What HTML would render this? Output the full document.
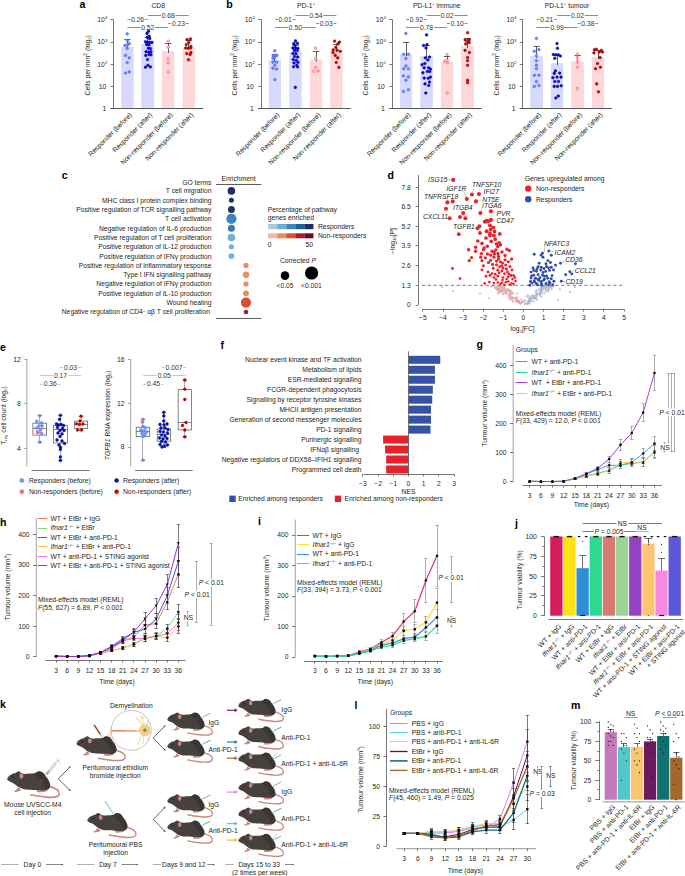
<!DOCTYPE html>
<html><head><meta charset="utf-8"><style>
html,body{margin:0;padding:0;background:#fff;overflow:hidden;width:685px;height:876px;}
svg{display:block;font-family:"Liberation Sans",sans-serif;}
</style></head><body>
<svg width="685" height="876" viewBox="0 0 685 876" fill="#231f20">
<rect width="685" height="876" fill="#fff"/>
<text x="79.50" y="8.42" font-size="10.6" fill="#000" font-weight="bold">a</text>
<text x="226.30" y="8.42" font-size="10.6" fill="#000" font-weight="bold">b</text>
<rect x="121.20" y="47.10" width="12.40" height="61.40" fill="#d8d9fc"/>
<rect x="141.30" y="43.90" width="12.80" height="64.60" fill="#d8d9fc"/>
<rect x="161.90" y="51.00" width="12.50" height="57.50" fill="#fed8d9"/>
<rect x="182.60" y="47.10" width="12.40" height="61.40" fill="#fed8d9"/>
<line x1="113.50" y1="19.40" x2="113.50" y2="108.90" stroke="#555" stroke-width="0.8"/>
<line x1="110.60" y1="19.50" x2="113.60" y2="19.50" stroke="#555" stroke-width="0.8"/>
<line x1="110.60" y1="42.50" x2="113.60" y2="42.50" stroke="#555" stroke-width="0.8"/>
<line x1="110.60" y1="64.50" x2="113.60" y2="64.50" stroke="#555" stroke-width="0.8"/>
<line x1="110.60" y1="86.50" x2="113.60" y2="86.50" stroke="#555" stroke-width="0.8"/>
<line x1="110.60" y1="108.50" x2="113.60" y2="108.50" stroke="#555" stroke-width="0.8"/>
<line x1="110.60" y1="108.50" x2="203.00" y2="108.50" stroke="#555" stroke-width="1.0"/>
<text x="104.70" y="21.83" font-size="6.75" text-anchor="end">10</text>
<text x="104.90" y="19.10" font-size="4.3">4</text>
<text x="104.70" y="44.43" font-size="6.75" text-anchor="end">10</text>
<text x="104.90" y="41.70" font-size="4.3">3</text>
<text x="104.70" y="66.63" font-size="6.75" text-anchor="end">10</text>
<text x="104.90" y="63.90" font-size="4.3">2</text>
<text x="106.20" y="88.73" font-size="6.75" text-anchor="end">10</text>
<text x="106.20" y="110.93" font-size="6.75" text-anchor="end">1</text>
<text transform="translate(89.50,65.3) rotate(-90)" font-size="6.75" text-anchor="middle">Cells per mm<tspan font-size="4.8" dy="-2.6">2</tspan><tspan dy="2.6"> (log</tspan><tspan font-size="4.3" dy="1.2">2</tspan><tspan dy="-1.2">)</tspan></text>
<line x1="127.50" y1="49.10" x2="127.50" y2="39.60" stroke="#333" stroke-width="0.8"/>
<line x1="124.30" y1="39.50" x2="130.50" y2="39.50" stroke="#333" stroke-width="0.8"/>
<line x1="147.50" y1="45.90" x2="147.50" y2="37.00" stroke="#333" stroke-width="0.8"/>
<line x1="144.60" y1="37.50" x2="150.80" y2="37.50" stroke="#333" stroke-width="0.8"/>
<line x1="168.50" y1="53.00" x2="168.50" y2="43.40" stroke="#333" stroke-width="0.8"/>
<line x1="165.05" y1="43.50" x2="171.25" y2="43.50" stroke="#333" stroke-width="0.8"/>
<line x1="188.50" y1="49.10" x2="188.50" y2="40.50" stroke="#333" stroke-width="0.8"/>
<line x1="185.70" y1="40.50" x2="191.90" y2="40.50" stroke="#333" stroke-width="0.8"/>
<circle cx="127.20" cy="33.90" r="1.30" fill="#7088ff" stroke="#3f5ff5" stroke-width="0.55"/>
<circle cx="127.40" cy="40.50" r="1.30" fill="#7088ff" stroke="#3f5ff5" stroke-width="0.55"/>
<circle cx="124.90" cy="45.50" r="1.30" fill="#7088ff" stroke="#3f5ff5" stroke-width="0.55"/>
<circle cx="127.40" cy="44.90" r="1.30" fill="#7088ff" stroke="#3f5ff5" stroke-width="0.55"/>
<circle cx="129.30" cy="43.60" r="1.30" fill="#7088ff" stroke="#3f5ff5" stroke-width="0.55"/>
<circle cx="127.20" cy="48.30" r="1.30" fill="#7088ff" stroke="#3f5ff5" stroke-width="0.55"/>
<circle cx="125.50" cy="55.40" r="1.30" fill="#7088ff" stroke="#3f5ff5" stroke-width="0.55"/>
<circle cx="129.30" cy="57.90" r="1.30" fill="#7088ff" stroke="#3f5ff5" stroke-width="0.55"/>
<circle cx="127.20" cy="62.60" r="1.30" fill="#7088ff" stroke="#3f5ff5" stroke-width="0.55"/>
<circle cx="125.50" cy="73.10" r="1.30" fill="#7088ff" stroke="#3f5ff5" stroke-width="0.55"/>
<circle cx="129.30" cy="71.90" r="1.30" fill="#7088ff" stroke="#3f5ff5" stroke-width="0.55"/>
<circle cx="148.50" cy="31.20" r="1.30" fill="#0a0aea" stroke="#00058a" stroke-width="0.55"/>
<circle cx="147.00" cy="33.40" r="1.30" fill="#0a0aea" stroke="#00058a" stroke-width="0.55"/>
<circle cx="149.10" cy="36.20" r="1.30" fill="#0a0aea" stroke="#00058a" stroke-width="0.55"/>
<circle cx="147.30" cy="37.40" r="1.30" fill="#0a0aea" stroke="#00058a" stroke-width="0.55"/>
<circle cx="149.70" cy="38.60" r="1.30" fill="#0a0aea" stroke="#00058a" stroke-width="0.55"/>
<circle cx="145.40" cy="41.70" r="1.30" fill="#0a0aea" stroke="#00058a" stroke-width="0.55"/>
<circle cx="147.50" cy="42.00" r="1.30" fill="#0a0aea" stroke="#00058a" stroke-width="0.55"/>
<circle cx="149.70" cy="42.40" r="1.30" fill="#0a0aea" stroke="#00058a" stroke-width="0.55"/>
<circle cx="152.00" cy="42.40" r="1.30" fill="#0a0aea" stroke="#00058a" stroke-width="0.55"/>
<circle cx="146.60" cy="44.60" r="1.30" fill="#0a0aea" stroke="#00058a" stroke-width="0.55"/>
<circle cx="149.00" cy="44.80" r="1.30" fill="#0a0aea" stroke="#00058a" stroke-width="0.55"/>
<circle cx="148.30" cy="48.30" r="1.30" fill="#0a0aea" stroke="#00058a" stroke-width="0.55"/>
<circle cx="150.40" cy="48.60" r="1.30" fill="#0a0aea" stroke="#00058a" stroke-width="0.55"/>
<circle cx="146.00" cy="51.70" r="1.30" fill="#0a0aea" stroke="#00058a" stroke-width="0.55"/>
<circle cx="148.60" cy="52.00" r="1.30" fill="#0a0aea" stroke="#00058a" stroke-width="0.55"/>
<circle cx="151.00" cy="51.70" r="1.30" fill="#0a0aea" stroke="#00058a" stroke-width="0.55"/>
<circle cx="145.80" cy="55.40" r="1.30" fill="#0a0aea" stroke="#00058a" stroke-width="0.55"/>
<circle cx="149.10" cy="54.50" r="1.30" fill="#0a0aea" stroke="#00058a" stroke-width="0.55"/>
<circle cx="151.00" cy="54.80" r="1.30" fill="#0a0aea" stroke="#00058a" stroke-width="0.55"/>
<circle cx="147.50" cy="59.50" r="1.30" fill="#0a0aea" stroke="#00058a" stroke-width="0.55"/>
<circle cx="145.40" cy="67.20" r="1.30" fill="#0a0aea" stroke="#00058a" stroke-width="0.55"/>
<circle cx="147.90" cy="65.30" r="1.30" fill="#0a0aea" stroke="#00058a" stroke-width="0.55"/>
<circle cx="150.40" cy="66.90" r="1.30" fill="#0a0aea" stroke="#00058a" stroke-width="0.55"/>
<circle cx="168.30" cy="41.10" r="1.30" fill="#ffc0c8" stroke="#f0506a" stroke-width="0.55"/>
<circle cx="168.30" cy="47.10" r="1.30" fill="#ffc0c8" stroke="#f0506a" stroke-width="0.55"/>
<circle cx="168.30" cy="58.70" r="1.30" fill="#ffc0c8" stroke="#f0506a" stroke-width="0.55"/>
<circle cx="168.30" cy="62.80" r="1.30" fill="#ffc0c8" stroke="#f0506a" stroke-width="0.55"/>
<circle cx="168.30" cy="71.90" r="1.30" fill="#ffc0c8" stroke="#f0506a" stroke-width="0.55"/>
<circle cx="187.00" cy="39.60" r="1.30" fill="#d40000" stroke="#8a0000" stroke-width="0.55"/>
<circle cx="190.40" cy="38.90" r="1.30" fill="#d40000" stroke="#8a0000" stroke-width="0.55"/>
<circle cx="188.80" cy="42.40" r="1.30" fill="#d40000" stroke="#8a0000" stroke-width="0.55"/>
<circle cx="186.30" cy="44.60" r="1.30" fill="#d40000" stroke="#8a0000" stroke-width="0.55"/>
<circle cx="190.90" cy="46.30" r="1.30" fill="#d40000" stroke="#8a0000" stroke-width="0.55"/>
<circle cx="185.70" cy="48.00" r="1.30" fill="#d40000" stroke="#8a0000" stroke-width="0.55"/>
<circle cx="188.20" cy="48.30" r="1.30" fill="#d40000" stroke="#8a0000" stroke-width="0.55"/>
<circle cx="190.60" cy="48.00" r="1.30" fill="#d40000" stroke="#8a0000" stroke-width="0.55"/>
<circle cx="186.70" cy="53.50" r="1.30" fill="#d40000" stroke="#8a0000" stroke-width="0.55"/>
<circle cx="190.90" cy="52.50" r="1.30" fill="#d40000" stroke="#8a0000" stroke-width="0.55"/>
<circle cx="190.10" cy="54.50" r="1.30" fill="#d40000" stroke="#8a0000" stroke-width="0.55"/>
<circle cx="188.50" cy="59.70" r="1.30" fill="#d40000" stroke="#8a0000" stroke-width="0.55"/>
<text x="158.20" y="7.6" font-size="6.75" text-anchor="middle">CD8</text>
<text transform="translate(132.40,115.4) rotate(-45)" font-size="6.75" text-anchor="end">Responder (before)</text>
<text transform="translate(152.70,115.4) rotate(-45)" font-size="6.75" text-anchor="end">Responder (after)</text>
<text transform="translate(173.15,115.4) rotate(-45)" font-size="6.75" text-anchor="end">Non-responder (before)</text>
<text transform="translate(193.80,115.4) rotate(-45)" font-size="6.75" text-anchor="end">Non-responder (after)</text>
<line x1="147.70" y1="15.50" x2="161.08" y2="15.50" stroke="#707070" stroke-width="0.8"/>
<line x1="175.42" y1="15.50" x2="188.80" y2="15.50" stroke="#707070" stroke-width="0.8"/>
<text x="168.25" y="17.83" font-size="6.75" text-anchor="middle" fill="#333">0.68</text>
<line x1="127.40" y1="19.50" x2="130.38" y2="19.50" stroke="#707070" stroke-width="0.8"/>
<line x1="144.72" y1="19.50" x2="147.70" y2="19.50" stroke="#707070" stroke-width="0.8"/>
<text x="137.55" y="22.13" font-size="6.75" text-anchor="middle" fill="#333">0.26</text>
<line x1="168.15" y1="23.50" x2="171.31" y2="23.50" stroke="#707070" stroke-width="0.8"/>
<line x1="185.64" y1="23.50" x2="188.80" y2="23.50" stroke="#707070" stroke-width="0.8"/>
<text x="178.48" y="25.73" font-size="6.75" text-anchor="middle" fill="#333">0.23</text>
<line x1="127.40" y1="27.50" x2="140.61" y2="27.50" stroke="#707070" stroke-width="0.8"/>
<line x1="154.94" y1="27.50" x2="168.15" y2="27.50" stroke="#707070" stroke-width="0.8"/>
<text x="147.78" y="29.63" font-size="6.75" text-anchor="middle" fill="#333">0.52</text>
<rect x="268.80" y="60.00" width="12.10" height="48.50" fill="#d8d9fc"/>
<rect x="289.30" y="51.70" width="12.40" height="56.80" fill="#d8d9fc"/>
<rect x="309.80" y="59.50" width="12.40" height="49.00" fill="#fed8d9"/>
<rect x="330.20" y="50.00" width="12.40" height="58.50" fill="#fed8d9"/>
<line x1="261.50" y1="19.40" x2="261.50" y2="108.90" stroke="#555" stroke-width="0.8"/>
<line x1="258.10" y1="19.50" x2="261.10" y2="19.50" stroke="#555" stroke-width="0.8"/>
<line x1="258.10" y1="42.50" x2="261.10" y2="42.50" stroke="#555" stroke-width="0.8"/>
<line x1="258.10" y1="64.50" x2="261.10" y2="64.50" stroke="#555" stroke-width="0.8"/>
<line x1="258.10" y1="86.50" x2="261.10" y2="86.50" stroke="#555" stroke-width="0.8"/>
<line x1="258.10" y1="108.50" x2="261.10" y2="108.50" stroke="#555" stroke-width="0.8"/>
<line x1="258.10" y1="108.50" x2="350.60" y2="108.50" stroke="#555" stroke-width="1.0"/>
<text x="252.20" y="21.83" font-size="6.75" text-anchor="end">10</text>
<text x="252.40" y="19.10" font-size="4.3">4</text>
<text x="252.20" y="44.43" font-size="6.75" text-anchor="end">10</text>
<text x="252.40" y="41.70" font-size="4.3">3</text>
<text x="252.20" y="66.63" font-size="6.75" text-anchor="end">10</text>
<text x="252.40" y="63.90" font-size="4.3">2</text>
<text x="253.70" y="88.73" font-size="6.75" text-anchor="end">10</text>
<text x="253.70" y="110.93" font-size="6.75" text-anchor="end">1</text>
<text transform="translate(237.00,65.3) rotate(-90)" font-size="6.75" text-anchor="middle">Cells per mm<tspan font-size="4.8" dy="-2.6">2</tspan><tspan dy="2.6"> (log</tspan><tspan font-size="4.3" dy="1.2">2</tspan><tspan dy="-1.2">)</tspan></text>
<line x1="274.50" y1="62.00" x2="274.50" y2="54.50" stroke="#333" stroke-width="0.8"/>
<line x1="271.75" y1="54.50" x2="277.95" y2="54.50" stroke="#333" stroke-width="0.8"/>
<line x1="295.50" y1="53.70" x2="295.50" y2="45.00" stroke="#333" stroke-width="0.8"/>
<line x1="292.40" y1="45.50" x2="298.60" y2="45.50" stroke="#333" stroke-width="0.8"/>
<line x1="316.50" y1="61.50" x2="316.50" y2="51.30" stroke="#333" stroke-width="0.8"/>
<line x1="312.90" y1="51.50" x2="319.10" y2="51.50" stroke="#333" stroke-width="0.8"/>
<line x1="336.50" y1="52.00" x2="336.50" y2="44.20" stroke="#333" stroke-width="0.8"/>
<line x1="333.30" y1="44.50" x2="339.50" y2="44.50" stroke="#333" stroke-width="0.8"/>
<circle cx="274.80" cy="50.80" r="1.30" fill="#7088ff" stroke="#3f5ff5" stroke-width="0.55"/>
<circle cx="273.20" cy="55.80" r="1.30" fill="#7088ff" stroke="#3f5ff5" stroke-width="0.55"/>
<circle cx="275.00" cy="55.40" r="1.30" fill="#7088ff" stroke="#3f5ff5" stroke-width="0.55"/>
<circle cx="276.90" cy="55.40" r="1.30" fill="#7088ff" stroke="#3f5ff5" stroke-width="0.55"/>
<circle cx="272.90" cy="58.30" r="1.30" fill="#7088ff" stroke="#3f5ff5" stroke-width="0.55"/>
<circle cx="274.60" cy="58.00" r="1.30" fill="#7088ff" stroke="#3f5ff5" stroke-width="0.55"/>
<circle cx="272.90" cy="62.20" r="1.30" fill="#7088ff" stroke="#3f5ff5" stroke-width="0.55"/>
<circle cx="276.60" cy="62.20" r="1.30" fill="#7088ff" stroke="#3f5ff5" stroke-width="0.55"/>
<circle cx="274.80" cy="65.30" r="1.30" fill="#7088ff" stroke="#3f5ff5" stroke-width="0.55"/>
<circle cx="272.90" cy="68.20" r="1.30" fill="#7088ff" stroke="#3f5ff5" stroke-width="0.55"/>
<circle cx="276.60" cy="69.00" r="1.30" fill="#7088ff" stroke="#3f5ff5" stroke-width="0.55"/>
<circle cx="274.80" cy="79.60" r="1.30" fill="#7088ff" stroke="#3f5ff5" stroke-width="0.55"/>
<circle cx="295.50" cy="40.90" r="1.30" fill="#0a0aea" stroke="#00058a" stroke-width="0.55"/>
<circle cx="293.70" cy="43.60" r="1.30" fill="#0a0aea" stroke="#00058a" stroke-width="0.55"/>
<circle cx="297.40" cy="43.40" r="1.30" fill="#0a0aea" stroke="#00058a" stroke-width="0.55"/>
<circle cx="294.90" cy="45.50" r="1.30" fill="#0a0aea" stroke="#00058a" stroke-width="0.55"/>
<circle cx="292.80" cy="48.00" r="1.30" fill="#0a0aea" stroke="#00058a" stroke-width="0.55"/>
<circle cx="295.50" cy="48.00" r="1.30" fill="#0a0aea" stroke="#00058a" stroke-width="0.55"/>
<circle cx="297.90" cy="48.30" r="1.30" fill="#0a0aea" stroke="#00058a" stroke-width="0.55"/>
<circle cx="294.30" cy="50.40" r="1.30" fill="#0a0aea" stroke="#00058a" stroke-width="0.55"/>
<circle cx="297.40" cy="50.40" r="1.30" fill="#0a0aea" stroke="#00058a" stroke-width="0.55"/>
<circle cx="293.00" cy="53.50" r="1.30" fill="#0a0aea" stroke="#00058a" stroke-width="0.55"/>
<circle cx="296.00" cy="53.80" r="1.30" fill="#0a0aea" stroke="#00058a" stroke-width="0.55"/>
<circle cx="294.50" cy="56.50" r="1.30" fill="#0a0aea" stroke="#00058a" stroke-width="0.55"/>
<circle cx="297.70" cy="57.00" r="1.30" fill="#0a0aea" stroke="#00058a" stroke-width="0.55"/>
<circle cx="293.20" cy="59.60" r="1.30" fill="#0a0aea" stroke="#00058a" stroke-width="0.55"/>
<circle cx="296.30" cy="60.40" r="1.30" fill="#0a0aea" stroke="#00058a" stroke-width="0.55"/>
<circle cx="298.00" cy="62.30" r="1.30" fill="#0a0aea" stroke="#00058a" stroke-width="0.55"/>
<circle cx="294.00" cy="63.00" r="1.30" fill="#0a0aea" stroke="#00058a" stroke-width="0.55"/>
<circle cx="296.80" cy="65.20" r="1.30" fill="#0a0aea" stroke="#00058a" stroke-width="0.55"/>
<circle cx="293.60" cy="66.80" r="1.30" fill="#0a0aea" stroke="#00058a" stroke-width="0.55"/>
<circle cx="297.60" cy="67.00" r="1.30" fill="#0a0aea" stroke="#00058a" stroke-width="0.55"/>
<circle cx="295.30" cy="87.40" r="1.30" fill="#0a0aea" stroke="#00058a" stroke-width="0.55"/>
<circle cx="315.60" cy="48.20" r="1.30" fill="#ffc0c8" stroke="#f0506a" stroke-width="0.55"/>
<circle cx="315.60" cy="58.70" r="1.30" fill="#ffc0c8" stroke="#f0506a" stroke-width="0.55"/>
<circle cx="315.60" cy="67.40" r="1.30" fill="#ffc0c8" stroke="#f0506a" stroke-width="0.55"/>
<circle cx="313.50" cy="71.20" r="1.30" fill="#ffc0c8" stroke="#f0506a" stroke-width="0.55"/>
<circle cx="318.10" cy="70.90" r="1.30" fill="#ffc0c8" stroke="#f0506a" stroke-width="0.55"/>
<circle cx="334.60" cy="41.10" r="1.30" fill="#d40000" stroke="#8a0000" stroke-width="0.55"/>
<circle cx="339.50" cy="42.10" r="1.30" fill="#d40000" stroke="#8a0000" stroke-width="0.55"/>
<circle cx="337.90" cy="43.90" r="1.30" fill="#d40000" stroke="#8a0000" stroke-width="0.55"/>
<circle cx="335.80" cy="47.30" r="1.30" fill="#d40000" stroke="#8a0000" stroke-width="0.55"/>
<circle cx="333.30" cy="49.80" r="1.30" fill="#d40000" stroke="#8a0000" stroke-width="0.55"/>
<circle cx="337.00" cy="50.10" r="1.30" fill="#d40000" stroke="#8a0000" stroke-width="0.55"/>
<circle cx="340.20" cy="51.30" r="1.30" fill="#d40000" stroke="#8a0000" stroke-width="0.55"/>
<circle cx="333.00" cy="52.50" r="1.30" fill="#d40000" stroke="#8a0000" stroke-width="0.55"/>
<circle cx="335.20" cy="55.40" r="1.30" fill="#d40000" stroke="#8a0000" stroke-width="0.55"/>
<circle cx="337.70" cy="57.90" r="1.30" fill="#d40000" stroke="#8a0000" stroke-width="0.55"/>
<circle cx="336.20" cy="62.50" r="1.30" fill="#d40000" stroke="#8a0000" stroke-width="0.55"/>
<circle cx="338.90" cy="67.40" r="1.30" fill="#d40000" stroke="#8a0000" stroke-width="0.55"/>
<text x="306.00" y="7.6" font-size="6.75" text-anchor="middle">PD-1<tspan font-size="4.3" dy="-2.4">+</tspan></text>
<text transform="translate(279.85,115.4) rotate(-45)" font-size="6.75" text-anchor="end">Responder (before)</text>
<text transform="translate(300.50,115.4) rotate(-45)" font-size="6.75" text-anchor="end">Responder (after)</text>
<text transform="translate(321.00,115.4) rotate(-45)" font-size="6.75" text-anchor="end">Non-responder (before)</text>
<text transform="translate(341.40,115.4) rotate(-45)" font-size="6.75" text-anchor="end">Non-responder (after)</text>
<line x1="295.50" y1="15.50" x2="308.78" y2="15.50" stroke="#707070" stroke-width="0.8"/>
<line x1="323.12" y1="15.50" x2="336.40" y2="15.50" stroke="#707070" stroke-width="0.8"/>
<text x="315.95" y="17.83" font-size="6.75" text-anchor="middle" fill="#333">0.54</text>
<line x1="274.85" y1="19.50" x2="278.01" y2="19.50" stroke="#707070" stroke-width="0.8"/>
<line x1="292.34" y1="19.50" x2="295.50" y2="19.50" stroke="#707070" stroke-width="0.8"/>
<text x="285.18" y="22.13" font-size="6.75" text-anchor="middle" fill="#333">0.01</text>
<line x1="316.00" y1="23.50" x2="319.03" y2="23.50" stroke="#707070" stroke-width="0.8"/>
<line x1="333.37" y1="23.50" x2="336.40" y2="23.50" stroke="#707070" stroke-width="0.8"/>
<text x="326.20" y="25.73" font-size="6.75" text-anchor="middle" fill="#333">0.03</text>
<line x1="274.85" y1="27.50" x2="288.26" y2="27.50" stroke="#707070" stroke-width="0.8"/>
<line x1="302.59" y1="27.50" x2="316.00" y2="27.50" stroke="#707070" stroke-width="0.8"/>
<text x="295.43" y="29.63" font-size="6.75" text-anchor="middle" fill="#333">0.50</text>
<rect x="400.00" y="54.20" width="12.10" height="54.30" fill="#d8d9fc"/>
<rect x="420.40" y="56.00" width="12.40" height="52.50" fill="#d8d9fc"/>
<rect x="440.90" y="62.00" width="12.20" height="46.50" fill="#fed8d9"/>
<rect x="461.10" y="46.10" width="12.70" height="62.40" fill="#fed8d9"/>
<line x1="392.50" y1="19.40" x2="392.50" y2="108.90" stroke="#555" stroke-width="0.8"/>
<line x1="389.20" y1="19.50" x2="392.20" y2="19.50" stroke="#555" stroke-width="0.8"/>
<line x1="389.20" y1="42.50" x2="392.20" y2="42.50" stroke="#555" stroke-width="0.8"/>
<line x1="389.20" y1="64.50" x2="392.20" y2="64.50" stroke="#555" stroke-width="0.8"/>
<line x1="389.20" y1="86.50" x2="392.20" y2="86.50" stroke="#555" stroke-width="0.8"/>
<line x1="389.20" y1="108.50" x2="392.20" y2="108.50" stroke="#555" stroke-width="0.8"/>
<line x1="389.20" y1="108.50" x2="481.50" y2="108.50" stroke="#555" stroke-width="1.0"/>
<text x="383.30" y="21.83" font-size="6.75" text-anchor="end">10</text>
<text x="383.50" y="19.10" font-size="4.3">4</text>
<text x="383.30" y="44.43" font-size="6.75" text-anchor="end">10</text>
<text x="383.50" y="41.70" font-size="4.3">3</text>
<text x="383.30" y="66.63" font-size="6.75" text-anchor="end">10</text>
<text x="383.50" y="63.90" font-size="4.3">2</text>
<text x="384.80" y="88.73" font-size="6.75" text-anchor="end">10</text>
<text x="384.80" y="110.93" font-size="6.75" text-anchor="end">1</text>
<text transform="translate(368.10,65.3) rotate(-90)" font-size="6.75" text-anchor="middle">Cells per mm<tspan font-size="4.8" dy="-2.6">2</tspan><tspan dy="2.6"> (log</tspan><tspan font-size="4.3" dy="1.2">2</tspan><tspan dy="-1.2">)</tspan></text>
<line x1="406.50" y1="56.20" x2="406.50" y2="42.40" stroke="#333" stroke-width="0.8"/>
<line x1="402.95" y1="42.50" x2="409.15" y2="42.50" stroke="#333" stroke-width="0.8"/>
<line x1="426.50" y1="58.00" x2="426.50" y2="45.00" stroke="#333" stroke-width="0.8"/>
<line x1="423.50" y1="45.50" x2="429.70" y2="45.50" stroke="#333" stroke-width="0.8"/>
<line x1="447.50" y1="64.00" x2="447.50" y2="56.30" stroke="#333" stroke-width="0.8"/>
<line x1="443.90" y1="56.50" x2="450.10" y2="56.50" stroke="#333" stroke-width="0.8"/>
<line x1="467.50" y1="48.10" x2="467.50" y2="38.00" stroke="#333" stroke-width="0.8"/>
<line x1="464.35" y1="38.50" x2="470.55" y2="38.50" stroke="#333" stroke-width="0.8"/>
<circle cx="405.90" cy="33.40" r="1.30" fill="#7088ff" stroke="#3f5ff5" stroke-width="0.55"/>
<circle cx="403.70" cy="54.20" r="1.30" fill="#7088ff" stroke="#3f5ff5" stroke-width="0.55"/>
<circle cx="408.40" cy="54.20" r="1.30" fill="#7088ff" stroke="#3f5ff5" stroke-width="0.55"/>
<circle cx="405.90" cy="58.50" r="1.30" fill="#7088ff" stroke="#3f5ff5" stroke-width="0.55"/>
<circle cx="405.90" cy="65.90" r="1.30" fill="#7088ff" stroke="#3f5ff5" stroke-width="0.55"/>
<circle cx="403.70" cy="68.70" r="1.30" fill="#7088ff" stroke="#3f5ff5" stroke-width="0.55"/>
<circle cx="408.40" cy="68.70" r="1.30" fill="#7088ff" stroke="#3f5ff5" stroke-width="0.55"/>
<circle cx="403.40" cy="75.90" r="1.30" fill="#7088ff" stroke="#3f5ff5" stroke-width="0.55"/>
<circle cx="408.40" cy="76.90" r="1.30" fill="#7088ff" stroke="#3f5ff5" stroke-width="0.55"/>
<circle cx="405.90" cy="80.20" r="1.30" fill="#7088ff" stroke="#3f5ff5" stroke-width="0.55"/>
<circle cx="403.40" cy="91.40" r="1.30" fill="#7088ff" stroke="#3f5ff5" stroke-width="0.55"/>
<circle cx="408.40" cy="89.80" r="1.30" fill="#7088ff" stroke="#3f5ff5" stroke-width="0.55"/>
<circle cx="426.60" cy="34.90" r="1.30" fill="#0a0aea" stroke="#00058a" stroke-width="0.55"/>
<circle cx="423.50" cy="45.50" r="1.30" fill="#0a0aea" stroke="#00058a" stroke-width="0.55"/>
<circle cx="427.00" cy="44.60" r="1.30" fill="#0a0aea" stroke="#00058a" stroke-width="0.55"/>
<circle cx="426.00" cy="48.00" r="1.30" fill="#0a0aea" stroke="#00058a" stroke-width="0.55"/>
<circle cx="425.40" cy="57.90" r="1.30" fill="#0a0aea" stroke="#00058a" stroke-width="0.55"/>
<circle cx="429.50" cy="57.00" r="1.30" fill="#0a0aea" stroke="#00058a" stroke-width="0.55"/>
<circle cx="427.90" cy="60.00" r="1.30" fill="#0a0aea" stroke="#00058a" stroke-width="0.55"/>
<circle cx="422.00" cy="64.70" r="1.30" fill="#0a0aea" stroke="#00058a" stroke-width="0.55"/>
<circle cx="424.80" cy="63.50" r="1.30" fill="#0a0aea" stroke="#00058a" stroke-width="0.55"/>
<circle cx="424.20" cy="67.80" r="1.30" fill="#0a0aea" stroke="#00058a" stroke-width="0.55"/>
<circle cx="428.50" cy="67.80" r="1.30" fill="#0a0aea" stroke="#00058a" stroke-width="0.55"/>
<circle cx="430.40" cy="69.00" r="1.30" fill="#0a0aea" stroke="#00058a" stroke-width="0.55"/>
<circle cx="422.90" cy="72.80" r="1.30" fill="#0a0aea" stroke="#00058a" stroke-width="0.55"/>
<circle cx="427.30" cy="71.50" r="1.30" fill="#0a0aea" stroke="#00058a" stroke-width="0.55"/>
<circle cx="429.80" cy="71.50" r="1.30" fill="#0a0aea" stroke="#00058a" stroke-width="0.55"/>
<circle cx="424.20" cy="78.10" r="1.30" fill="#0a0aea" stroke="#00058a" stroke-width="0.55"/>
<circle cx="428.30" cy="78.30" r="1.30" fill="#0a0aea" stroke="#00058a" stroke-width="0.55"/>
<circle cx="430.40" cy="77.10" r="1.30" fill="#0a0aea" stroke="#00058a" stroke-width="0.55"/>
<circle cx="429.50" cy="82.10" r="1.30" fill="#0a0aea" stroke="#00058a" stroke-width="0.55"/>
<circle cx="425.00" cy="83.90" r="1.30" fill="#0a0aea" stroke="#00058a" stroke-width="0.55"/>
<circle cx="428.70" cy="85.50" r="1.30" fill="#0a0aea" stroke="#00058a" stroke-width="0.55"/>
<circle cx="425.80" cy="93.00" r="1.30" fill="#0a0aea" stroke="#00058a" stroke-width="0.55"/>
<circle cx="447.10" cy="54.50" r="1.30" fill="#ffc0c8" stroke="#f0506a" stroke-width="0.55"/>
<circle cx="444.60" cy="61.20" r="1.30" fill="#ffc0c8" stroke="#f0506a" stroke-width="0.55"/>
<circle cx="447.10" cy="60.40" r="1.30" fill="#ffc0c8" stroke="#f0506a" stroke-width="0.55"/>
<circle cx="447.70" cy="62.80" r="1.30" fill="#ffc0c8" stroke="#f0506a" stroke-width="0.55"/>
<circle cx="447.10" cy="93.00" r="1.30" fill="#ffc0c8" stroke="#f0506a" stroke-width="0.55"/>
<circle cx="467.60" cy="32.70" r="1.30" fill="#d40000" stroke="#8a0000" stroke-width="0.55"/>
<circle cx="465.10" cy="39.90" r="1.30" fill="#d40000" stroke="#8a0000" stroke-width="0.55"/>
<circle cx="469.40" cy="39.60" r="1.30" fill="#d40000" stroke="#8a0000" stroke-width="0.55"/>
<circle cx="467.60" cy="41.50" r="1.30" fill="#d40000" stroke="#8a0000" stroke-width="0.55"/>
<circle cx="465.70" cy="43.90" r="1.30" fill="#d40000" stroke="#8a0000" stroke-width="0.55"/>
<circle cx="469.20" cy="42.60" r="1.30" fill="#d40000" stroke="#8a0000" stroke-width="0.55"/>
<circle cx="465.10" cy="50.40" r="1.30" fill="#d40000" stroke="#8a0000" stroke-width="0.55"/>
<circle cx="469.40" cy="52.50" r="1.30" fill="#d40000" stroke="#8a0000" stroke-width="0.55"/>
<circle cx="467.60" cy="57.50" r="1.30" fill="#d40000" stroke="#8a0000" stroke-width="0.55"/>
<circle cx="467.60" cy="60.70" r="1.30" fill="#d40000" stroke="#8a0000" stroke-width="0.55"/>
<circle cx="467.60" cy="65.30" r="1.30" fill="#d40000" stroke="#8a0000" stroke-width="0.55"/>
<circle cx="467.60" cy="80.20" r="1.30" fill="#d40000" stroke="#8a0000" stroke-width="0.55"/>
<circle cx="467.60" cy="82.70" r="1.30" fill="#d40000" stroke="#8a0000" stroke-width="0.55"/>
<text x="436.80" y="7.6" font-size="6.75" text-anchor="middle">PD-L1<tspan font-size="4.3" dy="-2.4">+</tspan><tspan dy="2.4"> immune</tspan></text>
<text transform="translate(411.05,115.4) rotate(-45)" font-size="6.75" text-anchor="end">Responder (before)</text>
<text transform="translate(431.60,115.4) rotate(-45)" font-size="6.75" text-anchor="end">Responder (after)</text>
<text transform="translate(452.00,115.4) rotate(-45)" font-size="6.75" text-anchor="end">Non-responder (before)</text>
<text transform="translate(472.45,115.4) rotate(-45)" font-size="6.75" text-anchor="end">Non-responder (after)</text>
<line x1="426.60" y1="15.50" x2="439.86" y2="15.50" stroke="#707070" stroke-width="0.8"/>
<line x1="454.19" y1="15.50" x2="467.45" y2="15.50" stroke="#707070" stroke-width="0.8"/>
<text x="447.03" y="17.83" font-size="6.75" text-anchor="middle" fill="#333">0.02</text>
<line x1="406.05" y1="19.50" x2="409.16" y2="19.50" stroke="#707070" stroke-width="0.8"/>
<line x1="423.49" y1="19.50" x2="426.60" y2="19.50" stroke="#707070" stroke-width="0.8"/>
<text x="416.33" y="22.13" font-size="6.75" text-anchor="middle" fill="#333">0.92</text>
<line x1="447.00" y1="23.50" x2="450.06" y2="23.50" stroke="#707070" stroke-width="0.8"/>
<line x1="464.39" y1="23.50" x2="467.45" y2="23.50" stroke="#707070" stroke-width="0.8"/>
<text x="457.23" y="25.73" font-size="6.75" text-anchor="middle" fill="#333">0.10</text>
<line x1="406.05" y1="27.50" x2="419.36" y2="27.50" stroke="#707070" stroke-width="0.8"/>
<line x1="433.69" y1="27.50" x2="447.00" y2="27.50" stroke="#707070" stroke-width="0.8"/>
<text x="426.52" y="29.63" font-size="6.75" text-anchor="middle" fill="#333">0.78</text>
<rect x="530.20" y="56.00" width="12.80" height="52.50" fill="#d8d9fc"/>
<rect x="550.80" y="63.20" width="12.40" height="45.30" fill="#d8d9fc"/>
<rect x="571.20" y="61.60" width="12.70" height="46.90" fill="#fed8d9"/>
<rect x="592.00" y="57.00" width="12.20" height="51.50" fill="#fed8d9"/>
<line x1="522.50" y1="19.40" x2="522.50" y2="108.90" stroke="#555" stroke-width="0.8"/>
<line x1="519.80" y1="19.50" x2="522.80" y2="19.50" stroke="#555" stroke-width="0.8"/>
<line x1="519.80" y1="42.50" x2="522.80" y2="42.50" stroke="#555" stroke-width="0.8"/>
<line x1="519.80" y1="64.50" x2="522.80" y2="64.50" stroke="#555" stroke-width="0.8"/>
<line x1="519.80" y1="86.50" x2="522.80" y2="86.50" stroke="#555" stroke-width="0.8"/>
<line x1="519.80" y1="108.50" x2="522.80" y2="108.50" stroke="#555" stroke-width="0.8"/>
<line x1="519.80" y1="108.50" x2="612.00" y2="108.50" stroke="#555" stroke-width="1.0"/>
<text x="513.90" y="21.83" font-size="6.75" text-anchor="end">10</text>
<text x="514.10" y="19.10" font-size="4.3">4</text>
<text x="513.90" y="44.43" font-size="6.75" text-anchor="end">10</text>
<text x="514.10" y="41.70" font-size="4.3">3</text>
<text x="513.90" y="66.63" font-size="6.75" text-anchor="end">10</text>
<text x="514.10" y="63.90" font-size="4.3">2</text>
<text x="515.40" y="88.73" font-size="6.75" text-anchor="end">10</text>
<text x="515.40" y="110.93" font-size="6.75" text-anchor="end">1</text>
<text transform="translate(498.70,65.3) rotate(-90)" font-size="6.75" text-anchor="middle">Cells per mm<tspan font-size="4.8" dy="-2.6">2</tspan><tspan dy="2.6"> (log</tspan><tspan font-size="4.3" dy="1.2">2</tspan><tspan dy="-1.2">)</tspan></text>
<line x1="536.50" y1="58.00" x2="536.50" y2="46.30" stroke="#333" stroke-width="0.8"/>
<line x1="533.50" y1="46.50" x2="539.70" y2="46.50" stroke="#333" stroke-width="0.8"/>
<line x1="557.50" y1="65.20" x2="557.50" y2="55.00" stroke="#333" stroke-width="0.8"/>
<line x1="553.90" y1="55.50" x2="560.10" y2="55.50" stroke="#333" stroke-width="0.8"/>
<line x1="577.50" y1="63.60" x2="577.50" y2="55.40" stroke="#333" stroke-width="0.8"/>
<line x1="574.45" y1="55.50" x2="580.65" y2="55.50" stroke="#333" stroke-width="0.8"/>
<line x1="598.50" y1="59.00" x2="598.50" y2="50.50" stroke="#333" stroke-width="0.8"/>
<line x1="595.00" y1="50.50" x2="601.20" y2="50.50" stroke="#333" stroke-width="0.8"/>
<circle cx="536.40" cy="38.40" r="1.30" fill="#7088ff" stroke="#3f5ff5" stroke-width="0.55"/>
<circle cx="534.30" cy="51.30" r="1.30" fill="#7088ff" stroke="#3f5ff5" stroke-width="0.55"/>
<circle cx="538.90" cy="49.60" r="1.30" fill="#7088ff" stroke="#3f5ff5" stroke-width="0.55"/>
<circle cx="536.40" cy="55.80" r="1.30" fill="#7088ff" stroke="#3f5ff5" stroke-width="0.55"/>
<circle cx="536.40" cy="60.70" r="1.30" fill="#7088ff" stroke="#3f5ff5" stroke-width="0.55"/>
<circle cx="536.40" cy="65.30" r="1.30" fill="#7088ff" stroke="#3f5ff5" stroke-width="0.55"/>
<circle cx="536.40" cy="68.70" r="1.30" fill="#7088ff" stroke="#3f5ff5" stroke-width="0.55"/>
<circle cx="534.30" cy="75.20" r="1.30" fill="#7088ff" stroke="#3f5ff5" stroke-width="0.55"/>
<circle cx="538.90" cy="75.20" r="1.30" fill="#7088ff" stroke="#3f5ff5" stroke-width="0.55"/>
<circle cx="536.40" cy="81.50" r="1.30" fill="#7088ff" stroke="#3f5ff5" stroke-width="0.55"/>
<circle cx="534.30" cy="86.40" r="1.30" fill="#7088ff" stroke="#3f5ff5" stroke-width="0.55"/>
<circle cx="538.90" cy="85.50" r="1.30" fill="#7088ff" stroke="#3f5ff5" stroke-width="0.55"/>
<circle cx="557.00" cy="43.60" r="1.30" fill="#0a0aea" stroke="#00058a" stroke-width="0.55"/>
<circle cx="557.50" cy="48.30" r="1.30" fill="#0a0aea" stroke="#00058a" stroke-width="0.55"/>
<circle cx="553.30" cy="54.50" r="1.30" fill="#0a0aea" stroke="#00058a" stroke-width="0.55"/>
<circle cx="555.80" cy="54.80" r="1.30" fill="#0a0aea" stroke="#00058a" stroke-width="0.55"/>
<circle cx="558.30" cy="54.80" r="1.30" fill="#0a0aea" stroke="#00058a" stroke-width="0.55"/>
<circle cx="560.40" cy="56.00" r="1.30" fill="#0a0aea" stroke="#00058a" stroke-width="0.55"/>
<circle cx="554.80" cy="58.30" r="1.30" fill="#0a0aea" stroke="#00058a" stroke-width="0.55"/>
<circle cx="555.40" cy="70.90" r="1.30" fill="#0a0aea" stroke="#00058a" stroke-width="0.55"/>
<circle cx="554.20" cy="73.40" r="1.30" fill="#0a0aea" stroke="#00058a" stroke-width="0.55"/>
<circle cx="559.70" cy="73.10" r="1.30" fill="#0a0aea" stroke="#00058a" stroke-width="0.55"/>
<circle cx="552.90" cy="77.70" r="1.30" fill="#0a0aea" stroke="#00058a" stroke-width="0.55"/>
<circle cx="557.00" cy="77.10" r="1.30" fill="#0a0aea" stroke="#00058a" stroke-width="0.55"/>
<circle cx="561.00" cy="77.10" r="1.30" fill="#0a0aea" stroke="#00058a" stroke-width="0.55"/>
<circle cx="554.80" cy="81.50" r="1.30" fill="#0a0aea" stroke="#00058a" stroke-width="0.55"/>
<circle cx="558.50" cy="81.50" r="1.30" fill="#0a0aea" stroke="#00058a" stroke-width="0.55"/>
<circle cx="554.20" cy="86.40" r="1.30" fill="#0a0aea" stroke="#00058a" stroke-width="0.55"/>
<circle cx="557.50" cy="86.40" r="1.30" fill="#0a0aea" stroke="#00058a" stroke-width="0.55"/>
<circle cx="561.20" cy="85.80" r="1.30" fill="#0a0aea" stroke="#00058a" stroke-width="0.55"/>
<circle cx="558.30" cy="96.00" r="1.30" fill="#0a0aea" stroke="#00058a" stroke-width="0.55"/>
<circle cx="555.80" cy="98.00" r="1.30" fill="#0a0aea" stroke="#00058a" stroke-width="0.55"/>
<circle cx="577.40" cy="54.20" r="1.30" fill="#ffc0c8" stroke="#f0506a" stroke-width="0.55"/>
<circle cx="577.40" cy="57.50" r="1.30" fill="#ffc0c8" stroke="#f0506a" stroke-width="0.55"/>
<circle cx="577.40" cy="61.60" r="1.30" fill="#ffc0c8" stroke="#f0506a" stroke-width="0.55"/>
<circle cx="577.40" cy="67.20" r="1.30" fill="#ffc0c8" stroke="#f0506a" stroke-width="0.55"/>
<circle cx="577.40" cy="88.50" r="1.30" fill="#ffc0c8" stroke="#f0506a" stroke-width="0.55"/>
<circle cx="594.50" cy="49.80" r="1.30" fill="#d40000" stroke="#8a0000" stroke-width="0.55"/>
<circle cx="596.30" cy="49.20" r="1.30" fill="#d40000" stroke="#8a0000" stroke-width="0.55"/>
<circle cx="593.90" cy="52.90" r="1.30" fill="#d40000" stroke="#8a0000" stroke-width="0.55"/>
<circle cx="599.20" cy="52.00" r="1.30" fill="#d40000" stroke="#8a0000" stroke-width="0.55"/>
<circle cx="601.30" cy="50.40" r="1.30" fill="#d40000" stroke="#8a0000" stroke-width="0.55"/>
<circle cx="602.50" cy="52.00" r="1.30" fill="#d40000" stroke="#8a0000" stroke-width="0.55"/>
<circle cx="600.10" cy="57.50" r="1.30" fill="#d40000" stroke="#8a0000" stroke-width="0.55"/>
<circle cx="597.60" cy="63.50" r="1.30" fill="#d40000" stroke="#8a0000" stroke-width="0.55"/>
<circle cx="600.40" cy="67.20" r="1.30" fill="#d40000" stroke="#8a0000" stroke-width="0.55"/>
<circle cx="595.50" cy="68.70" r="1.30" fill="#d40000" stroke="#8a0000" stroke-width="0.55"/>
<circle cx="596.70" cy="83.90" r="1.30" fill="#d40000" stroke="#8a0000" stroke-width="0.55"/>
<circle cx="598.50" cy="91.80" r="1.30" fill="#d40000" stroke="#8a0000" stroke-width="0.55"/>
<text x="567.00" y="7.6" font-size="6.75" text-anchor="middle">PD-L1<tspan font-size="4.3" dy="-2.4">+</tspan><tspan dy="2.4"> tumour</tspan></text>
<text transform="translate(541.60,115.4) rotate(-45)" font-size="6.75" text-anchor="end">Responder (before)</text>
<text transform="translate(562.00,115.4) rotate(-45)" font-size="6.75" text-anchor="end">Responder (after)</text>
<text transform="translate(582.55,115.4) rotate(-45)" font-size="6.75" text-anchor="end">Non-responder (before)</text>
<text transform="translate(603.10,115.4) rotate(-45)" font-size="6.75" text-anchor="end">Non-responder (after)</text>
<line x1="557.00" y1="15.50" x2="570.38" y2="15.50" stroke="#707070" stroke-width="0.8"/>
<line x1="584.72" y1="15.50" x2="598.10" y2="15.50" stroke="#707070" stroke-width="0.8"/>
<text x="577.55" y="17.83" font-size="6.75" text-anchor="middle" fill="#333">0.02</text>
<line x1="536.60" y1="19.50" x2="539.63" y2="19.50" stroke="#707070" stroke-width="0.8"/>
<line x1="553.97" y1="19.50" x2="557.00" y2="19.50" stroke="#707070" stroke-width="0.8"/>
<text x="546.80" y="22.13" font-size="6.75" text-anchor="middle" fill="#333">0.21</text>
<line x1="577.55" y1="23.50" x2="580.66" y2="23.50" stroke="#707070" stroke-width="0.8"/>
<line x1="594.99" y1="23.50" x2="598.10" y2="23.50" stroke="#707070" stroke-width="0.8"/>
<text x="587.83" y="25.73" font-size="6.75" text-anchor="middle" fill="#333">0.38</text>
<line x1="536.60" y1="27.50" x2="549.91" y2="27.50" stroke="#707070" stroke-width="0.8"/>
<line x1="564.24" y1="27.50" x2="577.55" y2="27.50" stroke="#707070" stroke-width="0.8"/>
<text x="557.08" y="29.63" font-size="6.75" text-anchor="middle" fill="#333">0.99</text>
<text x="61.80" y="179.22" font-size="10.6" fill="#000" font-weight="bold">c</text>
<text x="211.50" y="184.63" font-size="6.75" text-anchor="end">GO terms</text>
<text x="211.50" y="193.33" font-size="6.75" text-anchor="end">T cell migration</text>
<text x="211.50" y="202.64" font-size="6.75" text-anchor="end">MHC class I protein complex binding</text>
<text x="211.50" y="211.95" font-size="6.75" text-anchor="end">Positive regulation of TCR signalling pathway</text>
<text x="211.50" y="221.26" font-size="6.75" text-anchor="end">T cell activation</text>
<text x="211.50" y="230.57" font-size="6.75" text-anchor="end">Negative regulation of IL-6 production</text>
<text x="211.50" y="239.88" font-size="6.75" text-anchor="end">Positive regulation of T cell proliferation</text>
<text x="211.50" y="249.19" font-size="6.75" text-anchor="end">Positive regulation of IL-12 production</text>
<text x="211.50" y="258.50" font-size="6.75" text-anchor="end">Positive regulation of IFNγ production</text>
<text x="211.50" y="267.81" font-size="6.75" text-anchor="end">Positive regulation of inflammatory response</text>
<text x="211.50" y="277.12" font-size="6.75" text-anchor="end">Type I IFN signalling pathway</text>
<text x="211.50" y="286.43" font-size="6.75" text-anchor="end">Negative regulation of IFNγ production</text>
<text x="211.50" y="295.74" font-size="6.75" text-anchor="end">Positive regulation of IL-10 production</text>
<text x="211.50" y="305.05" font-size="6.75" text-anchor="end">Wound healing</text>
<text x="210.0" y="314.36" font-size="6.75" text-anchor="end">Negative regulation of CD4<tspan font-size="4.3" dy="-2.4">+</tspan><tspan dy="2.4"> αβ T cell proliferation</tspan></text>
<text x="238.50" y="181.43" font-size="6.75" text-anchor="middle">Enrichment</text>
<line x1="216.00" y1="184.50" x2="261.30" y2="184.50" stroke="#333" stroke-width="0.8"/>
<line x1="216.00" y1="318.50" x2="261.30" y2="318.50" stroke="#333" stroke-width="0.8"/>
<circle cx="231.40" cy="190.90" r="3.80" fill="#1d2f6b"/>
<circle cx="231.40" cy="200.21" r="2.50" fill="#1d2f6b"/>
<circle cx="231.40" cy="209.52" r="3.50" fill="#1e3266"/>
<circle cx="231.40" cy="218.83" r="5.10" fill="#3a85bd"/>
<circle cx="231.40" cy="228.14" r="3.50" fill="#3779b2"/>
<circle cx="231.40" cy="237.45" r="3.80" fill="#70b0dc"/>
<circle cx="231.40" cy="246.76" r="2.60" fill="#70b0dc"/>
<circle cx="231.40" cy="256.07" r="2.90" fill="#70b0dc"/>
<circle cx="246.00" cy="265.38" r="2.60" fill="#ef8a5c"/>
<circle cx="246.00" cy="274.69" r="3.20" fill="#ef8a5c"/>
<circle cx="246.00" cy="284.00" r="2.60" fill="#ef8a5c"/>
<circle cx="246.00" cy="293.31" r="2.90" fill="#ef8a5c"/>
<circle cx="246.00" cy="302.62" r="5.10" fill="#d5502c"/>
<circle cx="246.00" cy="311.93" r="2.30" fill="#a51c2a"/>
<text x="267.80" y="212.43" font-size="6.75">Percentage of pathway</text>
<text x="267.80" y="220.23" font-size="6.75">genes enriched</text>
<rect x="268.10" y="224.00" width="9.10" height="5.20" fill="#a9c8de"/>
<rect x="268.10" y="233.30" width="9.10" height="5.00" fill="#f1b9a1"/>
<rect x="277.16" y="224.00" width="9.10" height="5.20" fill="#6aaed8"/>
<rect x="277.16" y="233.30" width="9.10" height="5.00" fill="#f08a5a"/>
<rect x="286.22" y="224.00" width="9.10" height="5.20" fill="#3a88c0"/>
<rect x="286.22" y="233.30" width="9.10" height="5.00" fill="#d8502e"/>
<rect x="295.28" y="224.00" width="9.10" height="5.20" fill="#1e5fa0"/>
<rect x="295.28" y="233.30" width="9.10" height="5.00" fill="#a81e28"/>
<rect x="304.34" y="224.00" width="9.10" height="5.20" fill="#1b2f6a"/>
<rect x="304.34" y="233.30" width="9.10" height="5.00" fill="#6b0b22"/>
<text x="318.00" y="229.43" font-size="6.75">Responders</text>
<text x="318.00" y="238.23" font-size="6.75">Non-responders</text>
<text x="269.60" y="246.93" font-size="6.75" text-anchor="middle">0</text>
<text x="309.30" y="246.93" font-size="6.75" text-anchor="middle">50</text>
<text x="298" y="263.03" font-size="6.75" text-anchor="middle">Corrected <tspan font-style="italic">P</tspan></text>
<circle cx="285.00" cy="275.60" r="4.30" fill="#000"/>
<circle cx="311.60" cy="273.00" r="6.60" fill="#000"/>
<text x="285.00" y="287.83" font-size="6.75" text-anchor="middle">&lt;0.05</text>
<text x="311.40" y="287.83" font-size="6.75" text-anchor="middle">&lt;0.001</text>
<text x="387.50" y="179.22" font-size="10.6" fill="#000" font-weight="bold">d</text>
<line x1="418.50" y1="175.00" x2="418.50" y2="305.00" stroke="#555" stroke-width="0.8"/>
<line x1="415.50" y1="187.50" x2="418.00" y2="187.50" stroke="#555" stroke-width="0.8"/>
<text x="410.80" y="189.73" font-size="6.75" text-anchor="end">7.8</text>
<line x1="415.50" y1="206.50" x2="418.00" y2="206.50" stroke="#555" stroke-width="0.8"/>
<text x="410.80" y="208.93" font-size="6.75" text-anchor="end">6.5</text>
<line x1="415.50" y1="226.50" x2="418.00" y2="226.50" stroke="#555" stroke-width="0.8"/>
<text x="410.80" y="228.63" font-size="6.75" text-anchor="end">5.2</text>
<line x1="415.50" y1="245.50" x2="418.00" y2="245.50" stroke="#555" stroke-width="0.8"/>
<text x="410.80" y="248.33" font-size="6.75" text-anchor="end">3.9</text>
<line x1="415.50" y1="265.50" x2="418.00" y2="265.50" stroke="#555" stroke-width="0.8"/>
<text x="410.80" y="268.03" font-size="6.75" text-anchor="end">2.6</text>
<line x1="415.50" y1="285.50" x2="418.00" y2="285.50" stroke="#555" stroke-width="0.8"/>
<text x="410.80" y="287.73" font-size="6.75" text-anchor="end">1.3</text>
<line x1="415.50" y1="305.50" x2="418.00" y2="305.50" stroke="#555" stroke-width="0.8"/>
<text x="410.80" y="307.43" font-size="6.75" text-anchor="end">0</text>
<text transform="translate(394.9,241) rotate(-90)" font-size="6.75" text-anchor="middle">−log<tspan font-size="4.3" dy="1.2">10</tspan><tspan dy="-1.2">[</tspan><tspan font-style="italic">P</tspan>]</text>
<line x1="422.40" y1="309.50" x2="624.20" y2="309.50" stroke="#555" stroke-width="0.8"/>
<line x1="422.50" y1="309.30" x2="422.50" y2="311.60" stroke="#555" stroke-width="0.8"/>
<text x="422.90" y="320.43" font-size="6.75" text-anchor="middle">−5</text>
<line x1="443.50" y1="309.30" x2="443.50" y2="311.60" stroke="#555" stroke-width="0.8"/>
<text x="443.02" y="320.43" font-size="6.75" text-anchor="middle">−4</text>
<line x1="463.50" y1="309.30" x2="463.50" y2="311.60" stroke="#555" stroke-width="0.8"/>
<text x="463.14" y="320.43" font-size="6.75" text-anchor="middle">−3</text>
<line x1="483.50" y1="309.30" x2="483.50" y2="311.60" stroke="#555" stroke-width="0.8"/>
<text x="483.26" y="320.43" font-size="6.75" text-anchor="middle">−2</text>
<line x1="503.50" y1="309.30" x2="503.50" y2="311.60" stroke="#555" stroke-width="0.8"/>
<text x="503.38" y="320.43" font-size="6.75" text-anchor="middle">−1</text>
<line x1="523.50" y1="309.30" x2="523.50" y2="311.60" stroke="#555" stroke-width="0.8"/>
<text x="523.50" y="320.43" font-size="6.75" text-anchor="middle">0</text>
<line x1="543.50" y1="309.30" x2="543.50" y2="311.60" stroke="#555" stroke-width="0.8"/>
<text x="543.62" y="320.43" font-size="6.75" text-anchor="middle">1</text>
<line x1="563.50" y1="309.30" x2="563.50" y2="311.60" stroke="#555" stroke-width="0.8"/>
<text x="563.74" y="320.43" font-size="6.75" text-anchor="middle">2</text>
<line x1="583.50" y1="309.30" x2="583.50" y2="311.60" stroke="#555" stroke-width="0.8"/>
<text x="583.86" y="320.43" font-size="6.75" text-anchor="middle">3</text>
<line x1="603.50" y1="309.30" x2="603.50" y2="311.60" stroke="#555" stroke-width="0.8"/>
<text x="603.98" y="320.43" font-size="6.75" text-anchor="middle">4</text>
<line x1="624.50" y1="309.30" x2="624.50" y2="311.60" stroke="#555" stroke-width="0.8"/>
<text x="624.10" y="320.43" font-size="6.75" text-anchor="middle">5</text>
<text x="522.6" y="331.43" font-size="6.75" text-anchor="middle">log<tspan font-size="4.3" dy="1.2">2</tspan><tspan dy="-1.2">[FC]</tspan></text>
<circle cx="514.25" cy="297.70" r="0.75" fill="#f0c6ca" stroke="#d28e94" stroke-width="0.4"/>
<circle cx="516.22" cy="301.56" r="0.75" fill="#f0c6ca" stroke="#d28e94" stroke-width="0.4"/>
<circle cx="518.85" cy="302.19" r="0.75" fill="#f0c6ca" stroke="#d28e94" stroke-width="0.4"/>
<circle cx="509.93" cy="294.43" r="0.75" fill="#f0c6ca" stroke="#d28e94" stroke-width="0.4"/>
<circle cx="509.66" cy="293.83" r="0.75" fill="#f0c6ca" stroke="#d28e94" stroke-width="0.4"/>
<circle cx="508.95" cy="296.23" r="0.75" fill="#f0c6ca" stroke="#d28e94" stroke-width="0.4"/>
<circle cx="498.14" cy="293.62" r="0.75" fill="#f0c6ca" stroke="#d28e94" stroke-width="0.4"/>
<circle cx="521.84" cy="301.75" r="0.75" fill="#f0c6ca" stroke="#d28e94" stroke-width="0.4"/>
<circle cx="518.79" cy="300.75" r="0.75" fill="#f0c6ca" stroke="#d28e94" stroke-width="0.4"/>
<circle cx="501.33" cy="289.06" r="0.75" fill="#f0c6ca" stroke="#d28e94" stroke-width="0.4"/>
<circle cx="500.83" cy="291.66" r="0.75" fill="#f0c6ca" stroke="#d28e94" stroke-width="0.4"/>
<circle cx="521.57" cy="302.37" r="0.75" fill="#f0c6ca" stroke="#d28e94" stroke-width="0.4"/>
<circle cx="500.16" cy="290.33" r="0.75" fill="#f0c6ca" stroke="#d28e94" stroke-width="0.4"/>
<circle cx="502.32" cy="291.79" r="0.75" fill="#f0c6ca" stroke="#d28e94" stroke-width="0.4"/>
<circle cx="499.29" cy="287.13" r="0.75" fill="#f0c6ca" stroke="#d28e94" stroke-width="0.4"/>
<circle cx="498.73" cy="291.30" r="0.75" fill="#f0c6ca" stroke="#d28e94" stroke-width="0.4"/>
<circle cx="499.41" cy="292.31" r="0.75" fill="#f0c6ca" stroke="#d28e94" stroke-width="0.4"/>
<circle cx="512.93" cy="301.66" r="0.75" fill="#f0c6ca" stroke="#d28e94" stroke-width="0.4"/>
<circle cx="515.62" cy="299.90" r="0.75" fill="#f0c6ca" stroke="#d28e94" stroke-width="0.4"/>
<circle cx="503.32" cy="288.52" r="0.75" fill="#f0c6ca" stroke="#d28e94" stroke-width="0.4"/>
<circle cx="496.30" cy="288.37" r="0.75" fill="#f0c6ca" stroke="#d28e94" stroke-width="0.4"/>
<circle cx="501.60" cy="290.70" r="0.75" fill="#f0c6ca" stroke="#d28e94" stroke-width="0.4"/>
<circle cx="502.43" cy="286.78" r="0.75" fill="#f0c6ca" stroke="#d28e94" stroke-width="0.4"/>
<circle cx="507.66" cy="290.84" r="0.75" fill="#f0c6ca" stroke="#d28e94" stroke-width="0.4"/>
<circle cx="509.38" cy="290.34" r="0.75" fill="#f0c6ca" stroke="#d28e94" stroke-width="0.4"/>
<circle cx="509.04" cy="298.24" r="0.75" fill="#f0c6ca" stroke="#d28e94" stroke-width="0.4"/>
<circle cx="519.31" cy="303.43" r="0.75" fill="#f0c6ca" stroke="#d28e94" stroke-width="0.4"/>
<circle cx="522.75" cy="301.44" r="0.75" fill="#f0c6ca" stroke="#d28e94" stroke-width="0.4"/>
<circle cx="517.29" cy="301.60" r="0.75" fill="#f0c6ca" stroke="#d28e94" stroke-width="0.4"/>
<circle cx="501.37" cy="287.37" r="0.75" fill="#f0c6ca" stroke="#d28e94" stroke-width="0.4"/>
<circle cx="510.18" cy="290.64" r="0.75" fill="#f0c6ca" stroke="#d28e94" stroke-width="0.4"/>
<circle cx="497.89" cy="288.08" r="0.75" fill="#f0c6ca" stroke="#d28e94" stroke-width="0.4"/>
<circle cx="516.62" cy="293.60" r="0.75" fill="#f0c6ca" stroke="#d28e94" stroke-width="0.4"/>
<circle cx="517.59" cy="300.68" r="0.75" fill="#f0c6ca" stroke="#d28e94" stroke-width="0.4"/>
<circle cx="509.82" cy="298.26" r="0.75" fill="#f0c6ca" stroke="#d28e94" stroke-width="0.4"/>
<circle cx="516.57" cy="297.54" r="0.75" fill="#f0c6ca" stroke="#d28e94" stroke-width="0.4"/>
<circle cx="503.09" cy="294.21" r="0.75" fill="#f0c6ca" stroke="#d28e94" stroke-width="0.4"/>
<circle cx="498.01" cy="289.54" r="0.75" fill="#f0c6ca" stroke="#d28e94" stroke-width="0.4"/>
<circle cx="509.23" cy="290.80" r="0.75" fill="#f0c6ca" stroke="#d28e94" stroke-width="0.4"/>
<circle cx="504.40" cy="286.69" r="0.75" fill="#f0c6ca" stroke="#d28e94" stroke-width="0.4"/>
<circle cx="508.52" cy="295.31" r="0.75" fill="#f0c6ca" stroke="#d28e94" stroke-width="0.4"/>
<circle cx="504.85" cy="290.82" r="0.75" fill="#f0c6ca" stroke="#d28e94" stroke-width="0.4"/>
<circle cx="516.32" cy="299.56" r="0.75" fill="#f0c6ca" stroke="#d28e94" stroke-width="0.4"/>
<circle cx="521.77" cy="302.35" r="0.75" fill="#f0c6ca" stroke="#d28e94" stroke-width="0.4"/>
<circle cx="517.69" cy="301.28" r="0.75" fill="#f0c6ca" stroke="#d28e94" stroke-width="0.4"/>
<circle cx="496.88" cy="286.24" r="0.75" fill="#f0c6ca" stroke="#d28e94" stroke-width="0.4"/>
<circle cx="511.78" cy="298.66" r="0.75" fill="#f0c6ca" stroke="#d28e94" stroke-width="0.4"/>
<circle cx="506.49" cy="293.67" r="0.75" fill="#f0c6ca" stroke="#d28e94" stroke-width="0.4"/>
<circle cx="516.77" cy="301.84" r="0.75" fill="#f0c6ca" stroke="#d28e94" stroke-width="0.4"/>
<circle cx="499.63" cy="287.64" r="0.75" fill="#f0c6ca" stroke="#d28e94" stroke-width="0.4"/>
<circle cx="509.80" cy="292.48" r="0.75" fill="#f0c6ca" stroke="#d28e94" stroke-width="0.4"/>
<circle cx="511.98" cy="298.08" r="0.75" fill="#f0c6ca" stroke="#d28e94" stroke-width="0.4"/>
<circle cx="495.11" cy="287.92" r="0.75" fill="#f0c6ca" stroke="#d28e94" stroke-width="0.4"/>
<circle cx="512.37" cy="298.33" r="0.75" fill="#f0c6ca" stroke="#d28e94" stroke-width="0.4"/>
<circle cx="499.36" cy="286.73" r="0.75" fill="#f0c6ca" stroke="#d28e94" stroke-width="0.4"/>
<circle cx="506.08" cy="292.91" r="0.75" fill="#f0c6ca" stroke="#d28e94" stroke-width="0.4"/>
<circle cx="520.50" cy="304.00" r="0.75" fill="#f0c6ca" stroke="#d28e94" stroke-width="0.4"/>
<circle cx="505.73" cy="289.31" r="0.75" fill="#f0c6ca" stroke="#d28e94" stroke-width="0.4"/>
<circle cx="510.88" cy="296.35" r="0.75" fill="#f0c6ca" stroke="#d28e94" stroke-width="0.4"/>
<circle cx="516.41" cy="300.50" r="0.75" fill="#f0c6ca" stroke="#d28e94" stroke-width="0.4"/>
<circle cx="503.71" cy="289.85" r="0.75" fill="#f0c6ca" stroke="#d28e94" stroke-width="0.4"/>
<circle cx="507.84" cy="289.08" r="0.75" fill="#f0c6ca" stroke="#d28e94" stroke-width="0.4"/>
<circle cx="499.06" cy="288.81" r="0.75" fill="#f0c6ca" stroke="#d28e94" stroke-width="0.4"/>
<circle cx="497.31" cy="289.94" r="0.75" fill="#f0c6ca" stroke="#d28e94" stroke-width="0.4"/>
<circle cx="493.54" cy="285.88" r="0.75" fill="#f0c6ca" stroke="#d28e94" stroke-width="0.4"/>
<circle cx="521.36" cy="302.57" r="0.75" fill="#f0c6ca" stroke="#d28e94" stroke-width="0.4"/>
<circle cx="503.40" cy="289.57" r="0.75" fill="#f0c6ca" stroke="#d28e94" stroke-width="0.4"/>
<circle cx="506.17" cy="292.29" r="0.75" fill="#f0c6ca" stroke="#d28e94" stroke-width="0.4"/>
<circle cx="491.01" cy="286.73" r="0.75" fill="#f0c6ca" stroke="#d28e94" stroke-width="0.4"/>
<circle cx="499.92" cy="288.35" r="0.75" fill="#f0c6ca" stroke="#d28e94" stroke-width="0.4"/>
<circle cx="512.64" cy="298.49" r="0.75" fill="#f0c6ca" stroke="#d28e94" stroke-width="0.4"/>
<circle cx="511.85" cy="297.89" r="0.75" fill="#f0c6ca" stroke="#d28e94" stroke-width="0.4"/>
<circle cx="495.31" cy="287.17" r="0.75" fill="#f0c6ca" stroke="#d28e94" stroke-width="0.4"/>
<circle cx="507.71" cy="290.82" r="0.75" fill="#f0c6ca" stroke="#d28e94" stroke-width="0.4"/>
<circle cx="493.35" cy="285.98" r="0.75" fill="#f0c6ca" stroke="#d28e94" stroke-width="0.4"/>
<circle cx="509.83" cy="292.73" r="0.75" fill="#f0c6ca" stroke="#d28e94" stroke-width="0.4"/>
<circle cx="521.29" cy="299.24" r="0.75" fill="#f0c6ca" stroke="#d28e94" stroke-width="0.4"/>
<circle cx="510.81" cy="299.74" r="0.75" fill="#f0c6ca" stroke="#d28e94" stroke-width="0.4"/>
<circle cx="503.83" cy="293.29" r="0.75" fill="#f0c6ca" stroke="#d28e94" stroke-width="0.4"/>
<circle cx="505.96" cy="291.46" r="0.75" fill="#f0c6ca" stroke="#d28e94" stroke-width="0.4"/>
<circle cx="505.54" cy="292.90" r="0.75" fill="#f0c6ca" stroke="#d28e94" stroke-width="0.4"/>
<circle cx="496.44" cy="288.27" r="0.75" fill="#f0c6ca" stroke="#d28e94" stroke-width="0.4"/>
<circle cx="503.78" cy="287.87" r="0.75" fill="#f0c6ca" stroke="#d28e94" stroke-width="0.4"/>
<circle cx="500.43" cy="290.98" r="0.75" fill="#f0c6ca" stroke="#d28e94" stroke-width="0.4"/>
<circle cx="498.60" cy="290.10" r="0.75" fill="#f0c6ca" stroke="#d28e94" stroke-width="0.4"/>
<circle cx="512.17" cy="292.73" r="0.75" fill="#f0c6ca" stroke="#d28e94" stroke-width="0.4"/>
<circle cx="500.52" cy="286.32" r="0.75" fill="#f0c6ca" stroke="#d28e94" stroke-width="0.4"/>
<circle cx="511.27" cy="291.14" r="0.75" fill="#f0c6ca" stroke="#d28e94" stroke-width="0.4"/>
<circle cx="519.49" cy="301.12" r="0.75" fill="#f0c6ca" stroke="#d28e94" stroke-width="0.4"/>
<circle cx="519.26" cy="302.28" r="0.75" fill="#f0c6ca" stroke="#d28e94" stroke-width="0.4"/>
<circle cx="504.36" cy="287.55" r="0.75" fill="#f0c6ca" stroke="#d28e94" stroke-width="0.4"/>
<circle cx="515.45" cy="298.10" r="0.75" fill="#f0c6ca" stroke="#d28e94" stroke-width="0.4"/>
<circle cx="517.55" cy="298.05" r="0.75" fill="#f0c6ca" stroke="#d28e94" stroke-width="0.4"/>
<circle cx="513.35" cy="293.08" r="0.75" fill="#f0c6ca" stroke="#d28e94" stroke-width="0.4"/>
<circle cx="512.72" cy="300.27" r="0.75" fill="#f0c6ca" stroke="#d28e94" stroke-width="0.4"/>
<circle cx="512.07" cy="296.98" r="0.75" fill="#f0c6ca" stroke="#d28e94" stroke-width="0.4"/>
<circle cx="505.73" cy="289.36" r="0.75" fill="#f0c6ca" stroke="#d28e94" stroke-width="0.4"/>
<circle cx="511.34" cy="294.20" r="0.75" fill="#f0c6ca" stroke="#d28e94" stroke-width="0.4"/>
<circle cx="502.82" cy="290.80" r="0.75" fill="#f0c6ca" stroke="#d28e94" stroke-width="0.4"/>
<circle cx="527.85" cy="301.33" r="0.75" fill="#d0d3e0" stroke="#979db6" stroke-width="0.4"/>
<circle cx="545.39" cy="288.86" r="0.75" fill="#d0d3e0" stroke="#979db6" stroke-width="0.4"/>
<circle cx="542.07" cy="293.24" r="0.75" fill="#d0d3e0" stroke="#979db6" stroke-width="0.4"/>
<circle cx="536.89" cy="299.76" r="0.75" fill="#d0d3e0" stroke="#979db6" stroke-width="0.4"/>
<circle cx="540.31" cy="291.26" r="0.75" fill="#d0d3e0" stroke="#979db6" stroke-width="0.4"/>
<circle cx="524.97" cy="301.05" r="0.75" fill="#d0d3e0" stroke="#979db6" stroke-width="0.4"/>
<circle cx="531.01" cy="301.17" r="0.75" fill="#d0d3e0" stroke="#979db6" stroke-width="0.4"/>
<circle cx="551.57" cy="289.05" r="0.75" fill="#d0d3e0" stroke="#979db6" stroke-width="0.4"/>
<circle cx="528.88" cy="300.96" r="0.75" fill="#d0d3e0" stroke="#979db6" stroke-width="0.4"/>
<circle cx="527.96" cy="295.09" r="0.75" fill="#d0d3e0" stroke="#979db6" stroke-width="0.4"/>
<circle cx="535.61" cy="298.47" r="0.75" fill="#d0d3e0" stroke="#979db6" stroke-width="0.4"/>
<circle cx="533.54" cy="298.46" r="0.75" fill="#d0d3e0" stroke="#979db6" stroke-width="0.4"/>
<circle cx="526.80" cy="303.40" r="0.75" fill="#d0d3e0" stroke="#979db6" stroke-width="0.4"/>
<circle cx="534.10" cy="295.67" r="0.75" fill="#d0d3e0" stroke="#979db6" stroke-width="0.4"/>
<circle cx="540.30" cy="293.99" r="0.75" fill="#d0d3e0" stroke="#979db6" stroke-width="0.4"/>
<circle cx="524.59" cy="303.62" r="0.75" fill="#d0d3e0" stroke="#979db6" stroke-width="0.4"/>
<circle cx="542.59" cy="288.74" r="0.75" fill="#d0d3e0" stroke="#979db6" stroke-width="0.4"/>
<circle cx="539.77" cy="293.23" r="0.75" fill="#d0d3e0" stroke="#979db6" stroke-width="0.4"/>
<circle cx="543.11" cy="288.16" r="0.75" fill="#d0d3e0" stroke="#979db6" stroke-width="0.4"/>
<circle cx="543.89" cy="288.21" r="0.75" fill="#d0d3e0" stroke="#979db6" stroke-width="0.4"/>
<circle cx="546.43" cy="289.63" r="0.75" fill="#d0d3e0" stroke="#979db6" stroke-width="0.4"/>
<circle cx="535.98" cy="295.07" r="0.75" fill="#d0d3e0" stroke="#979db6" stroke-width="0.4"/>
<circle cx="533.52" cy="301.24" r="0.75" fill="#d0d3e0" stroke="#979db6" stroke-width="0.4"/>
<circle cx="533.26" cy="298.08" r="0.75" fill="#d0d3e0" stroke="#979db6" stroke-width="0.4"/>
<circle cx="550.29" cy="285.92" r="0.75" fill="#d0d3e0" stroke="#979db6" stroke-width="0.4"/>
<circle cx="533.44" cy="298.12" r="0.75" fill="#d0d3e0" stroke="#979db6" stroke-width="0.4"/>
<circle cx="539.90" cy="294.82" r="0.75" fill="#d0d3e0" stroke="#979db6" stroke-width="0.4"/>
<circle cx="541.12" cy="296.73" r="0.75" fill="#d0d3e0" stroke="#979db6" stroke-width="0.4"/>
<circle cx="540.45" cy="295.28" r="0.75" fill="#d0d3e0" stroke="#979db6" stroke-width="0.4"/>
<circle cx="533.97" cy="296.61" r="0.75" fill="#d0d3e0" stroke="#979db6" stroke-width="0.4"/>
<circle cx="532.26" cy="295.40" r="0.75" fill="#d0d3e0" stroke="#979db6" stroke-width="0.4"/>
<circle cx="530.66" cy="298.79" r="0.75" fill="#d0d3e0" stroke="#979db6" stroke-width="0.4"/>
<circle cx="535.54" cy="298.13" r="0.75" fill="#d0d3e0" stroke="#979db6" stroke-width="0.4"/>
<circle cx="528.32" cy="302.81" r="0.75" fill="#d0d3e0" stroke="#979db6" stroke-width="0.4"/>
<circle cx="528.54" cy="297.37" r="0.75" fill="#d0d3e0" stroke="#979db6" stroke-width="0.4"/>
<circle cx="542.18" cy="287.11" r="0.75" fill="#d0d3e0" stroke="#979db6" stroke-width="0.4"/>
<circle cx="545.67" cy="287.29" r="0.75" fill="#d0d3e0" stroke="#979db6" stroke-width="0.4"/>
<circle cx="553.20" cy="286.49" r="0.75" fill="#d0d3e0" stroke="#979db6" stroke-width="0.4"/>
<circle cx="548.32" cy="291.12" r="0.75" fill="#d0d3e0" stroke="#979db6" stroke-width="0.4"/>
<circle cx="548.86" cy="288.81" r="0.75" fill="#d0d3e0" stroke="#979db6" stroke-width="0.4"/>
<circle cx="542.06" cy="291.05" r="0.75" fill="#d0d3e0" stroke="#979db6" stroke-width="0.4"/>
<circle cx="540.84" cy="286.18" r="0.75" fill="#d0d3e0" stroke="#979db6" stroke-width="0.4"/>
<circle cx="542.59" cy="289.01" r="0.75" fill="#d0d3e0" stroke="#979db6" stroke-width="0.4"/>
<circle cx="527.21" cy="303.83" r="0.75" fill="#d0d3e0" stroke="#979db6" stroke-width="0.4"/>
<circle cx="530.05" cy="299.67" r="0.75" fill="#d0d3e0" stroke="#979db6" stroke-width="0.4"/>
<circle cx="538.71" cy="289.47" r="0.75" fill="#d0d3e0" stroke="#979db6" stroke-width="0.4"/>
<circle cx="544.46" cy="293.24" r="0.75" fill="#d0d3e0" stroke="#979db6" stroke-width="0.4"/>
<circle cx="540.95" cy="288.71" r="0.75" fill="#d0d3e0" stroke="#979db6" stroke-width="0.4"/>
<circle cx="547.63" cy="291.02" r="0.75" fill="#d0d3e0" stroke="#979db6" stroke-width="0.4"/>
<circle cx="534.71" cy="298.15" r="0.75" fill="#d0d3e0" stroke="#979db6" stroke-width="0.4"/>
<circle cx="545.93" cy="290.94" r="0.75" fill="#d0d3e0" stroke="#979db6" stroke-width="0.4"/>
<circle cx="536.27" cy="291.50" r="0.75" fill="#d0d3e0" stroke="#979db6" stroke-width="0.4"/>
<circle cx="541.05" cy="290.57" r="0.75" fill="#d0d3e0" stroke="#979db6" stroke-width="0.4"/>
<circle cx="529.21" cy="301.96" r="0.75" fill="#d0d3e0" stroke="#979db6" stroke-width="0.4"/>
<circle cx="533.46" cy="296.59" r="0.75" fill="#d0d3e0" stroke="#979db6" stroke-width="0.4"/>
<circle cx="525.81" cy="303.91" r="0.75" fill="#d0d3e0" stroke="#979db6" stroke-width="0.4"/>
<circle cx="542.42" cy="288.78" r="0.75" fill="#d0d3e0" stroke="#979db6" stroke-width="0.4"/>
<circle cx="535.92" cy="293.00" r="0.75" fill="#d0d3e0" stroke="#979db6" stroke-width="0.4"/>
<circle cx="530.08" cy="300.16" r="0.75" fill="#d0d3e0" stroke="#979db6" stroke-width="0.4"/>
<circle cx="541.55" cy="290.89" r="0.75" fill="#d0d3e0" stroke="#979db6" stroke-width="0.4"/>
<circle cx="537.48" cy="294.73" r="0.75" fill="#d0d3e0" stroke="#979db6" stroke-width="0.4"/>
<circle cx="550.35" cy="287.09" r="0.75" fill="#d0d3e0" stroke="#979db6" stroke-width="0.4"/>
<circle cx="530.49" cy="299.03" r="0.75" fill="#d0d3e0" stroke="#979db6" stroke-width="0.4"/>
<circle cx="547.55" cy="286.34" r="0.75" fill="#d0d3e0" stroke="#979db6" stroke-width="0.4"/>
<circle cx="535.72" cy="297.57" r="0.75" fill="#d0d3e0" stroke="#979db6" stroke-width="0.4"/>
<circle cx="534.35" cy="296.38" r="0.75" fill="#d0d3e0" stroke="#979db6" stroke-width="0.4"/>
<circle cx="545.83" cy="288.18" r="0.75" fill="#d0d3e0" stroke="#979db6" stroke-width="0.4"/>
<circle cx="531.30" cy="297.82" r="0.75" fill="#d0d3e0" stroke="#979db6" stroke-width="0.4"/>
<circle cx="537.04" cy="294.68" r="0.75" fill="#d0d3e0" stroke="#979db6" stroke-width="0.4"/>
<circle cx="529.17" cy="300.22" r="0.75" fill="#d0d3e0" stroke="#979db6" stroke-width="0.4"/>
<circle cx="549.11" cy="286.65" r="0.75" fill="#d0d3e0" stroke="#979db6" stroke-width="0.4"/>
<circle cx="540.42" cy="293.88" r="0.75" fill="#d0d3e0" stroke="#979db6" stroke-width="0.4"/>
<circle cx="548.69" cy="289.23" r="0.75" fill="#d0d3e0" stroke="#979db6" stroke-width="0.4"/>
<circle cx="540.02" cy="291.75" r="0.75" fill="#d0d3e0" stroke="#979db6" stroke-width="0.4"/>
<circle cx="539.45" cy="289.61" r="0.75" fill="#d0d3e0" stroke="#979db6" stroke-width="0.4"/>
<circle cx="542.27" cy="290.85" r="0.75" fill="#d0d3e0" stroke="#979db6" stroke-width="0.4"/>
<circle cx="551.43" cy="286.82" r="0.75" fill="#d0d3e0" stroke="#979db6" stroke-width="0.4"/>
<circle cx="533.44" cy="297.78" r="0.75" fill="#d0d3e0" stroke="#979db6" stroke-width="0.4"/>
<circle cx="549.69" cy="286.82" r="0.75" fill="#d0d3e0" stroke="#979db6" stroke-width="0.4"/>
<circle cx="530.83" cy="296.32" r="0.75" fill="#d0d3e0" stroke="#979db6" stroke-width="0.4"/>
<circle cx="531.11" cy="300.23" r="0.75" fill="#d0d3e0" stroke="#979db6" stroke-width="0.4"/>
<circle cx="546.19" cy="286.20" r="0.75" fill="#d0d3e0" stroke="#979db6" stroke-width="0.4"/>
<circle cx="551.95" cy="286.15" r="0.75" fill="#d0d3e0" stroke="#979db6" stroke-width="0.4"/>
<circle cx="529.58" cy="300.65" r="0.75" fill="#d0d3e0" stroke="#979db6" stroke-width="0.4"/>
<circle cx="536.93" cy="296.42" r="0.75" fill="#d0d3e0" stroke="#979db6" stroke-width="0.4"/>
<circle cx="526.59" cy="296.53" r="0.75" fill="#d0d3e0" stroke="#979db6" stroke-width="0.4"/>
<circle cx="542.12" cy="289.36" r="0.75" fill="#d0d3e0" stroke="#979db6" stroke-width="0.4"/>
<circle cx="537.52" cy="293.33" r="0.75" fill="#d0d3e0" stroke="#979db6" stroke-width="0.4"/>
<circle cx="524.13" cy="300.45" r="0.75" fill="#d0d3e0" stroke="#979db6" stroke-width="0.4"/>
<circle cx="548.03" cy="287.80" r="0.75" fill="#d0d3e0" stroke="#979db6" stroke-width="0.4"/>
<circle cx="529.55" cy="298.57" r="0.75" fill="#d0d3e0" stroke="#979db6" stroke-width="0.4"/>
<circle cx="529.69" cy="303.67" r="0.75" fill="#d0d3e0" stroke="#979db6" stroke-width="0.4"/>
<circle cx="544.03" cy="286.61" r="0.75" fill="#d0d3e0" stroke="#979db6" stroke-width="0.4"/>
<circle cx="533.80" cy="298.24" r="0.75" fill="#d0d3e0" stroke="#979db6" stroke-width="0.4"/>
<circle cx="536.40" cy="290.00" r="0.75" fill="#d0d3e0" stroke="#979db6" stroke-width="0.4"/>
<circle cx="541.03" cy="287.55" r="0.75" fill="#d0d3e0" stroke="#979db6" stroke-width="0.4"/>
<circle cx="442.00" cy="287.00" r="0.70" fill="#f2c4c8" stroke="#d98a90" stroke-width="0.4"/>
<circle cx="453.00" cy="291.00" r="0.70" fill="#f2c4c8" stroke="#d98a90" stroke-width="0.4"/>
<circle cx="489.00" cy="298.00" r="0.70" fill="#f2c4c8" stroke="#d98a90" stroke-width="0.4"/>
<circle cx="480.00" cy="293.50" r="0.70" fill="#f2c4c8" stroke="#d98a90" stroke-width="0.4"/>
<circle cx="506.00" cy="290.00" r="0.70" fill="#f2c4c8" stroke="#d98a90" stroke-width="0.4"/>
<circle cx="575.00" cy="287.00" r="0.70" fill="#c4c8d8" stroke="#8a90aa" stroke-width="0.4"/>
<circle cx="570.00" cy="292.00" r="0.70" fill="#c4c8d8" stroke="#8a90aa" stroke-width="0.4"/>
<circle cx="558.00" cy="300.00" r="0.70" fill="#c4c8d8" stroke="#8a90aa" stroke-width="0.4"/>
<circle cx="560.00" cy="289.50" r="0.70" fill="#c4c8d8" stroke="#8a90aa" stroke-width="0.4"/>
<line x1="421.90" y1="285.30" x2="624.50" y2="285.30" stroke="#555" stroke-width="0.8" stroke-dasharray="3.2 2.6"/>
<circle cx="453.20" cy="179.90" r="2.05" fill="#e8232b"/>
<circle cx="466.80" cy="198.90" r="2.05" fill="#e8232b"/>
<circle cx="471.90" cy="194.50" r="2.05" fill="#e8232b"/>
<circle cx="478.90" cy="194.10" r="2.05" fill="#e8232b"/>
<circle cx="476.00" cy="201.40" r="2.05" fill="#e8232b"/>
<circle cx="447.40" cy="202.40" r="2.05" fill="#e8232b"/>
<circle cx="452.70" cy="201.40" r="2.05" fill="#e8232b"/>
<circle cx="446.00" cy="208.70" r="2.05" fill="#e8232b"/>
<circle cx="463.20" cy="213.10" r="2.05" fill="#e8232b"/>
<circle cx="460.00" cy="217.00" r="2.05" fill="#e8232b"/>
<circle cx="465.40" cy="218.20" r="2.05" fill="#e8232b"/>
<circle cx="449.70" cy="218.20" r="2.05" fill="#e8232b"/>
<circle cx="480.40" cy="213.10" r="2.05" fill="#e8232b"/>
<circle cx="490.90" cy="211.30" r="2.05" fill="#e8232b"/>
<circle cx="490.90" cy="219.90" r="2.05" fill="#e8232b"/>
<circle cx="484.80" cy="221.80" r="2.00" fill="#e8232b"/>
<circle cx="486.60" cy="220.80" r="2.00" fill="#e8232b"/>
<circle cx="488.20" cy="221.20" r="2.00" fill="#e8232b"/>
<circle cx="458.80" cy="234.20" r="1.91" fill="#e8232b"/>
<circle cx="479.40" cy="226.30" r="2.00" fill="#e8232b"/>
<circle cx="477.50" cy="228.30" r="1.98" fill="#e8232b"/>
<circle cx="490.00" cy="225.60" r="2.00" fill="#e8232b"/>
<circle cx="493.20" cy="227.60" r="1.99" fill="#e8232b"/>
<circle cx="486.60" cy="231.30" r="1.95" fill="#e8232b"/>
<circle cx="490.60" cy="229.60" r="1.97" fill="#e8232b"/>
<circle cx="494.50" cy="231.50" r="1.94" fill="#e8232b"/>
<circle cx="480.00" cy="232.90" r="1.93" fill="#e8232b"/>
<circle cx="490.00" cy="233.50" r="1.92" fill="#e8232b"/>
<circle cx="499.80" cy="233.90" r="1.91" fill="#e8232b"/>
<circle cx="493.90" cy="235.50" r="1.89" fill="#e8232b"/>
<circle cx="490.00" cy="235.50" r="1.89" fill="#e8232b"/>
<circle cx="495.20" cy="239.20" r="1.85" fill="#e8232b"/>
<circle cx="491.20" cy="241.40" r="1.82" fill="#e8232b"/>
<circle cx="477.80" cy="241.00" r="1.82" fill="#e8232b"/>
<circle cx="482.00" cy="243.40" r="1.79" fill="#e8232b"/>
<circle cx="499.10" cy="242.70" r="1.80" fill="#e8232b"/>
<circle cx="500.40" cy="244.70" r="1.78" fill="#e8232b"/>
<circle cx="487.30" cy="246.30" r="1.76" fill="#e8232b"/>
<circle cx="484.00" cy="248.00" r="1.74" fill="#e8232b"/>
<circle cx="475.50" cy="247.30" r="1.75" fill="#e8232b"/>
<circle cx="497.80" cy="246.60" r="1.76" fill="#e8232b"/>
<circle cx="468.60" cy="249.70" r="1.72" fill="#e8232b"/>
<circle cx="475.50" cy="251.20" r="1.70" fill="#e8232b"/>
<circle cx="483.40" cy="249.70" r="1.72" fill="#e8232b"/>
<circle cx="495.80" cy="250.00" r="1.71" fill="#e8232b"/>
<circle cx="493.90" cy="251.90" r="1.69" fill="#e8232b"/>
<circle cx="507.00" cy="249.30" r="1.72" fill="#e8232b"/>
<circle cx="509.40" cy="250.60" r="1.71" fill="#e8232b"/>
<circle cx="492.00" cy="251.20" r="1.70" fill="#e8232b"/>
<circle cx="481.40" cy="253.60" r="1.67" fill="#e8232b"/>
<circle cx="490.60" cy="255.20" r="1.65" fill="#e8232b"/>
<circle cx="494.50" cy="253.90" r="1.66" fill="#e8232b"/>
<circle cx="471.50" cy="257.60" r="1.62" fill="#e8232b"/>
<circle cx="480.70" cy="257.20" r="1.62" fill="#e8232b"/>
<circle cx="485.30" cy="257.80" r="1.61" fill="#e8232b"/>
<circle cx="493.90" cy="257.20" r="1.62" fill="#e8232b"/>
<circle cx="498.50" cy="256.50" r="1.63" fill="#e8232b"/>
<circle cx="469.20" cy="260.70" r="1.58" fill="#e8232b"/>
<circle cx="482.00" cy="260.70" r="1.58" fill="#e8232b"/>
<circle cx="490.60" cy="260.40" r="1.58" fill="#e8232b"/>
<circle cx="496.50" cy="261.10" r="1.57" fill="#e8232b"/>
<circle cx="500.40" cy="261.80" r="1.56" fill="#e8232b"/>
<circle cx="505.00" cy="259.80" r="1.59" fill="#e8232b"/>
<circle cx="511.60" cy="259.10" r="1.60" fill="#e8232b"/>
<circle cx="508.30" cy="261.80" r="1.56" fill="#e8232b"/>
<circle cx="483.40" cy="265.70" r="1.52" fill="#e8232b"/>
<circle cx="492.60" cy="264.40" r="1.53" fill="#e8232b"/>
<circle cx="496.50" cy="264.70" r="1.53" fill="#e8232b"/>
<circle cx="501.80" cy="265.70" r="1.52" fill="#e8232b"/>
<circle cx="505.70" cy="265.00" r="1.52" fill="#e8232b"/>
<circle cx="503.00" cy="268.30" r="1.48" fill="#e8232b"/>
<circle cx="452.50" cy="268.60" r="1.48" fill="#e8232b"/>
<circle cx="482.00" cy="269.90" r="1.46" fill="#e8232b"/>
<circle cx="493.20" cy="268.30" r="1.48" fill="#e8232b"/>
<circle cx="497.80" cy="270.30" r="1.46" fill="#e8232b"/>
<circle cx="506.40" cy="269.00" r="1.48" fill="#e8232b"/>
<circle cx="501.80" cy="271.00" r="1.45" fill="#e8232b"/>
<circle cx="488.00" cy="272.00" r="1.44" fill="#e8232b"/>
<circle cx="491.90" cy="273.60" r="1.42" fill="#e8232b"/>
<circle cx="495.20" cy="274.20" r="1.41" fill="#e8232b"/>
<circle cx="499.10" cy="272.90" r="1.43" fill="#e8232b"/>
<circle cx="504.40" cy="273.60" r="1.42" fill="#e8232b"/>
<circle cx="509.00" cy="274.20" r="1.41" fill="#e8232b"/>
<circle cx="513.60" cy="275.50" r="1.39" fill="#e8232b"/>
<circle cx="486.00" cy="276.20" r="1.39" fill="#e8232b"/>
<circle cx="489.90" cy="275.50" r="1.39" fill="#e8232b"/>
<circle cx="493.90" cy="277.50" r="1.37" fill="#e8232b"/>
<circle cx="497.80" cy="276.20" r="1.39" fill="#e8232b"/>
<circle cx="503.00" cy="277.50" r="1.37" fill="#e8232b"/>
<circle cx="508.30" cy="276.80" r="1.38" fill="#e8232b"/>
<circle cx="511.00" cy="275.50" r="1.39" fill="#e8232b"/>
<circle cx="514.90" cy="277.50" r="1.37" fill="#e8232b"/>
<circle cx="460.00" cy="278.60" r="1.35" fill="#e8232b"/>
<circle cx="484.70" cy="283.40" r="1.30" fill="#e8232b"/>
<circle cx="489.30" cy="282.10" r="1.31" fill="#e8232b"/>
<circle cx="493.90" cy="283.00" r="1.30" fill="#e8232b"/>
<circle cx="497.80" cy="282.50" r="1.31" fill="#e8232b"/>
<circle cx="501.80" cy="282.80" r="1.30" fill="#e8232b"/>
<circle cx="505.70" cy="282.10" r="1.31" fill="#e8232b"/>
<circle cx="508.30" cy="281.50" r="1.32" fill="#e8232b"/>
<circle cx="511.60" cy="283.40" r="1.30" fill="#e8232b"/>
<circle cx="513.60" cy="284.10" r="1.30" fill="#e8232b"/>
<circle cx="500.40" cy="284.10" r="1.30" fill="#e8232b"/>
<circle cx="504.40" cy="284.80" r="1.30" fill="#e8232b"/>
<circle cx="509.60" cy="284.80" r="1.30" fill="#e8232b"/>
<circle cx="502.50" cy="280.00" r="1.34" fill="#e8232b"/>
<circle cx="506.50" cy="279.00" r="1.35" fill="#e8232b"/>
<circle cx="496.00" cy="279.50" r="1.34" fill="#e8232b"/>
<circle cx="499.50" cy="266.80" r="1.50" fill="#e8232b"/>
<circle cx="488.50" cy="262.50" r="1.56" fill="#e8232b"/>
<circle cx="486.00" cy="238.00" r="1.86" fill="#e8232b"/>
<circle cx="496.50" cy="244.00" r="1.79" fill="#e8232b"/>
<circle cx="502.00" cy="252.00" r="1.69" fill="#e8232b"/>
<circle cx="505.00" cy="255.50" r="1.64" fill="#e8232b"/>
<circle cx="498.00" cy="253.50" r="1.67" fill="#e8232b"/>
<circle cx="487.50" cy="254.00" r="1.66" fill="#e8232b"/>
<circle cx="502.50" cy="263.00" r="1.55" fill="#e8232b"/>
<circle cx="510.00" cy="266.50" r="1.51" fill="#e8232b"/>
<circle cx="512.00" cy="270.00" r="1.46" fill="#e8232b"/>
<circle cx="507.50" cy="272.00" r="1.44" fill="#e8232b"/>
<circle cx="515.50" cy="281.00" r="1.32" fill="#e8232b"/>
<circle cx="512.50" cy="279.00" r="1.35" fill="#e8232b"/>
<circle cx="498.50" cy="259.00" r="1.60" fill="#e8232b"/>
<circle cx="534.20" cy="254.20" r="1.45" fill="#2f4ea6"/>
<circle cx="542.50" cy="253.30" r="1.45" fill="#2f4ea6"/>
<circle cx="541.20" cy="255.30" r="1.45" fill="#2f4ea6"/>
<circle cx="543.00" cy="257.30" r="1.45" fill="#2f4ea6"/>
<circle cx="548.80" cy="251.00" r="1.45" fill="#2f4ea6"/>
<circle cx="551.30" cy="255.30" r="1.45" fill="#2f4ea6"/>
<circle cx="547.90" cy="260.60" r="1.45" fill="#2f4ea6"/>
<circle cx="550.40" cy="262.50" r="1.45" fill="#2f4ea6"/>
<circle cx="555.50" cy="265.30" r="1.45" fill="#2f4ea6"/>
<circle cx="560.50" cy="263.20" r="1.45" fill="#2f4ea6"/>
<circle cx="575.40" cy="263.80" r="1.45" fill="#2f4ea6"/>
<circle cx="539.20" cy="263.20" r="1.45" fill="#2f4ea6"/>
<circle cx="546.00" cy="263.80" r="1.45" fill="#2f4ea6"/>
<circle cx="538.10" cy="266.70" r="1.45" fill="#2f4ea6"/>
<circle cx="541.20" cy="267.30" r="1.45" fill="#2f4ea6"/>
<circle cx="546.50" cy="266.50" r="1.45" fill="#2f4ea6"/>
<circle cx="548.60" cy="268.00" r="1.45" fill="#2f4ea6"/>
<circle cx="551.30" cy="267.30" r="1.45" fill="#2f4ea6"/>
<circle cx="533.80" cy="270.40" r="1.45" fill="#2f4ea6"/>
<circle cx="531.10" cy="272.10" r="1.45" fill="#2f4ea6"/>
<circle cx="536.40" cy="271.30" r="1.45" fill="#2f4ea6"/>
<circle cx="540.80" cy="270.00" r="1.45" fill="#2f4ea6"/>
<circle cx="545.60" cy="271.40" r="1.45" fill="#2f4ea6"/>
<circle cx="549.50" cy="270.40" r="1.45" fill="#2f4ea6"/>
<circle cx="553.50" cy="270.00" r="1.45" fill="#2f4ea6"/>
<circle cx="533.80" cy="275.20" r="1.45" fill="#2f4ea6"/>
<circle cx="538.10" cy="274.80" r="1.45" fill="#2f4ea6"/>
<circle cx="542.50" cy="275.20" r="1.45" fill="#2f4ea6"/>
<circle cx="552.10" cy="275.60" r="1.45" fill="#2f4ea6"/>
<circle cx="531.10" cy="278.10" r="1.45" fill="#2f4ea6"/>
<circle cx="535.50" cy="278.30" r="1.45" fill="#2f4ea6"/>
<circle cx="539.90" cy="277.80" r="1.45" fill="#2f4ea6"/>
<circle cx="544.30" cy="276.10" r="1.45" fill="#2f4ea6"/>
<circle cx="547.80" cy="278.30" r="1.45" fill="#2f4ea6"/>
<circle cx="551.30" cy="278.70" r="1.45" fill="#2f4ea6"/>
<circle cx="534.20" cy="280.70" r="1.45" fill="#2f4ea6"/>
<circle cx="539.00" cy="280.50" r="1.45" fill="#2f4ea6"/>
<circle cx="543.80" cy="280.00" r="1.45" fill="#2f4ea6"/>
<circle cx="549.10" cy="281.80" r="1.45" fill="#2f4ea6"/>
<circle cx="553.90" cy="281.30" r="1.45" fill="#2f4ea6"/>
<circle cx="532.00" cy="283.10" r="1.45" fill="#2f4ea6"/>
<circle cx="536.40" cy="283.50" r="1.45" fill="#2f4ea6"/>
<circle cx="541.20" cy="283.40" r="1.45" fill="#2f4ea6"/>
<circle cx="546.00" cy="283.50" r="1.45" fill="#2f4ea6"/>
<circle cx="548.60" cy="284.80" r="1.45" fill="#2f4ea6"/>
<circle cx="552.80" cy="284.80" r="1.45" fill="#2f4ea6"/>
<circle cx="561.30" cy="281.30" r="1.45" fill="#2f4ea6"/>
<circle cx="565.70" cy="274.80" r="1.45" fill="#2f4ea6"/>
<circle cx="569.80" cy="271.70" r="1.45" fill="#2f4ea6"/>
<circle cx="571.80" cy="273.90" r="1.45" fill="#2f4ea6"/>
<circle cx="529.80" cy="285.30" r="1.45" fill="#2f4ea6"/>
<circle cx="537.00" cy="268.80" r="1.45" fill="#2f4ea6"/>
<circle cx="543.00" cy="272.50" r="1.45" fill="#2f4ea6"/>
<circle cx="530.50" cy="281.50" r="1.45" fill="#2f4ea6"/>
<circle cx="531.50" cy="276.00" r="1.45" fill="#2f4ea6"/>
<circle cx="534.50" cy="282.00" r="1.45" fill="#2f4ea6"/>
<circle cx="538.00" cy="279.50" r="1.45" fill="#2f4ea6"/>
<circle cx="541.50" cy="281.50" r="1.45" fill="#2f4ea6"/>
<circle cx="544.50" cy="279.00" r="1.45" fill="#2f4ea6"/>
<circle cx="546.50" cy="276.00" r="1.45" fill="#2f4ea6"/>
<circle cx="550.00" cy="283.00" r="1.45" fill="#2f4ea6"/>
<circle cx="537.50" cy="285.00" r="1.45" fill="#2f4ea6"/>
<circle cx="542.00" cy="285.30" r="1.45" fill="#2f4ea6"/>
<circle cx="533.00" cy="268.00" r="1.45" fill="#2f4ea6"/>
<circle cx="544.00" cy="268.50" r="1.45" fill="#2f4ea6"/>
<text x="428.00" y="181.93" font-size="6.75" font-style="italic">ISG15</text>
<line x1="447.00" y1="179.70" x2="451.00" y2="179.80" stroke="#888" stroke-width="0.5"/>
<text x="446.40" y="191.03" font-size="6.75" font-style="italic">IGF1R</text>
<line x1="463.80" y1="191.00" x2="466.00" y2="197.00" stroke="#888" stroke-width="0.5"/>
<text x="472.00" y="187.43" font-size="6.75" font-style="italic">TNFSF10</text>
<line x1="474.00" y1="188.00" x2="472.50" y2="192.50" stroke="#888" stroke-width="0.5"/>
<text x="483.50" y="194.23" font-size="6.75" font-style="italic">IFI27</text>
<text x="424.00" y="198.93" font-size="6.75" font-style="italic">TNFRSF18</text>
<line x1="447.00" y1="198.50" x2="447.30" y2="200.30" stroke="#888" stroke-width="0.5"/>
<text x="482.30" y="201.63" font-size="6.75" font-style="italic">NT5E</text>
<line x1="478.30" y1="200.50" x2="481.50" y2="199.80" stroke="#888" stroke-width="0.5"/>
<text x="453.00" y="210.03" font-size="6.75" font-style="italic">ITGB4</text>
<text x="482.00" y="208.13" font-size="6.75" font-style="italic">ITGA6</text>
<line x1="482.00" y1="208.30" x2="481.00" y2="211.00" stroke="#888" stroke-width="0.5"/>
<text x="496.50" y="216.03" font-size="6.75" font-style="italic">PVR</text>
<line x1="493.30" y1="211.60" x2="495.50" y2="212.40" stroke="#888" stroke-width="0.5"/>
<text x="423.00" y="219.43" font-size="6.75" font-style="italic">CXCL11</text>
<text x="496.50" y="223.13" font-size="6.75" font-style="italic">CD47</text>
<line x1="493.30" y1="220.00" x2="495.50" y2="220.30" stroke="#888" stroke-width="0.5"/>
<text x="453.00" y="229.43" font-size="6.75" font-style="italic">TGFB1</text>
<text x="544.00" y="246.23" font-size="6.75" font-style="italic">NFATC3</text>
<line x1="544.50" y1="246.50" x2="544.50" y2="252.00" stroke="#888" stroke-width="0.5"/>
<text x="554.60" y="254.93" font-size="6.75" font-style="italic">ICAM2</text>
<line x1="551.00" y1="251.30" x2="554.00" y2="251.80" stroke="#888" stroke-width="0.5"/>
<text x="565.20" y="262.03" font-size="6.75" font-style="italic">CD36</text>
<line x1="562.50" y1="262.60" x2="565.00" y2="260.80" stroke="#888" stroke-width="0.5"/>
<text x="574.80" y="273.33" font-size="6.75" font-style="italic">CCL21</text>
<line x1="572.00" y1="271.40" x2="574.50" y2="270.60" stroke="#888" stroke-width="0.5"/>
<text x="565.50" y="283.83" font-size="6.75" font-style="italic">CD19</text>
<line x1="563.00" y1="281.50" x2="565.20" y2="281.50" stroke="#888" stroke-width="0.5"/>
<text x="524.70" y="181.13" font-size="6.75">Genes upregulated among</text>
<circle cx="528.20" cy="188.60" r="3.20" fill="#e8232b"/>
<text x="536.00" y="191.03" font-size="6.75">Non-responders</text>
<circle cx="528.20" cy="199.20" r="3.20" fill="#2f4ea6"/>
<text x="536.00" y="201.63" font-size="6.75">Responders</text>
<text x="0.00" y="350.72" font-size="10.6" fill="#000" font-weight="bold">e</text>
<line x1="26.80" y1="359.00" x2="26.80" y2="466.60" stroke="#b5b5b5" stroke-width="1.2"/>
<line x1="24.30" y1="359.50" x2="26.80" y2="359.50" stroke="#888" stroke-width="0.8"/>
<text x="20.80" y="361.83" font-size="6.75" text-anchor="end">12</text>
<line x1="24.30" y1="403.50" x2="26.80" y2="403.50" stroke="#888" stroke-width="0.8"/>
<text x="20.80" y="406.23" font-size="6.75" text-anchor="end">8</text>
<line x1="24.30" y1="448.50" x2="26.80" y2="448.50" stroke="#888" stroke-width="0.8"/>
<text x="20.80" y="450.73" font-size="6.75" text-anchor="end">4</text>
<line x1="31.50" y1="470.50" x2="89.60" y2="470.50" stroke="#555" stroke-width="0.8"/>
<text transform="translate(5.5,415.6) rotate(-90)" font-size="6.75" text-anchor="middle">T<tspan font-size="4.3" dy="1.2">reg</tspan><tspan dy="-1.2"> cell count (log</tspan><tspan font-size="4.3" dy="1.2">2</tspan><tspan dy="-1.2">)</tspan></text>
<line x1="39.50" y1="415.80" x2="39.50" y2="423.20" stroke="#999" stroke-width="0.8"/>
<line x1="39.50" y1="435.10" x2="39.50" y2="442.10" stroke="#999" stroke-width="0.8"/>
<line x1="37.55" y1="415.50" x2="41.95" y2="415.50" stroke="#555" stroke-width="0.8"/>
<line x1="37.55" y1="442.50" x2="41.95" y2="442.50" stroke="#555" stroke-width="0.8"/>
<rect x="32.90" y="423.20" width="13.70" height="11.90" fill="none" stroke="#666" stroke-width="0.8"/>
<line x1="32.90" y1="428.50" x2="46.60" y2="428.50" stroke="#666" stroke-width="0.8"/>
<line x1="60.50" y1="415.30" x2="60.50" y2="425.50" stroke="#999" stroke-width="0.8"/>
<line x1="60.50" y1="443.00" x2="60.50" y2="460.50" stroke="#999" stroke-width="0.8"/>
<line x1="58.20" y1="415.50" x2="62.60" y2="415.50" stroke="#555" stroke-width="0.8"/>
<line x1="58.20" y1="460.50" x2="62.60" y2="460.50" stroke="#555" stroke-width="0.8"/>
<rect x="53.40" y="425.50" width="14.00" height="17.50" fill="none" stroke="#666" stroke-width="0.8"/>
<line x1="53.40" y1="429.50" x2="67.40" y2="429.50" stroke="#666" stroke-width="0.8"/>
<line x1="81.50" y1="416.20" x2="81.50" y2="421.10" stroke="#999" stroke-width="0.8"/>
<line x1="81.50" y1="428.50" x2="81.50" y2="430.20" stroke="#999" stroke-width="0.8"/>
<line x1="78.85" y1="416.50" x2="83.25" y2="416.50" stroke="#555" stroke-width="0.8"/>
<line x1="78.85" y1="430.50" x2="83.25" y2="430.50" stroke="#555" stroke-width="0.8"/>
<rect x="74.50" y="421.10" width="13.10" height="7.40" fill="none" stroke="#666" stroke-width="0.8"/>
<line x1="74.50" y1="424.50" x2="87.60" y2="424.50" stroke="#666" stroke-width="0.8"/>
<line x1="59.60" y1="367.50" x2="62.98" y2="367.50" stroke="#bbb" stroke-width="0.8"/>
<line x1="78.12" y1="367.50" x2="81.50" y2="367.50" stroke="#bbb" stroke-width="0.8"/>
<text x="70.55" y="370.13" font-size="6.75" text-anchor="middle" fill="#333">0.03</text>
<line x1="40.00" y1="375.50" x2="52.93" y2="375.50" stroke="#bbb" stroke-width="0.8"/>
<line x1="68.07" y1="375.50" x2="81.00" y2="375.50" stroke="#bbb" stroke-width="0.8"/>
<text x="60.50" y="378.33" font-size="6.75" text-anchor="middle" fill="#333">0.17</text>
<line x1="40.00" y1="384.50" x2="42.63" y2="384.50" stroke="#bbb" stroke-width="0.8"/>
<line x1="57.77" y1="384.50" x2="60.40" y2="384.50" stroke="#bbb" stroke-width="0.8"/>
<text x="50.20" y="386.43" font-size="6.75" text-anchor="middle" fill="#333">0.36</text>
<circle cx="39.80" cy="415.80" r="1.40" fill="#7e98ff" stroke="#4a6af2" stroke-width="0.5"/>
<circle cx="36.80" cy="421.50" r="1.40" fill="#7e98ff" stroke="#4a6af2" stroke-width="0.5"/>
<circle cx="41.50" cy="423.00" r="1.40" fill="#7e98ff" stroke="#4a6af2" stroke-width="0.5"/>
<circle cx="39.00" cy="426.00" r="1.40" fill="#7e98ff" stroke="#4a6af2" stroke-width="0.5"/>
<circle cx="42.00" cy="426.00" r="1.40" fill="#7e98ff" stroke="#4a6af2" stroke-width="0.5"/>
<circle cx="36.50" cy="428.00" r="1.40" fill="#7e98ff" stroke="#4a6af2" stroke-width="0.5"/>
<circle cx="40.50" cy="430.00" r="1.40" fill="#7e98ff" stroke="#4a6af2" stroke-width="0.5"/>
<circle cx="38.00" cy="432.50" r="1.40" fill="#7e98ff" stroke="#4a6af2" stroke-width="0.5"/>
<circle cx="41.50" cy="433.50" r="1.40" fill="#7e98ff" stroke="#4a6af2" stroke-width="0.5"/>
<circle cx="39.80" cy="442.10" r="1.40" fill="#7e98ff" stroke="#4a6af2" stroke-width="0.5"/>
<circle cx="37.60" cy="432.00" r="1.60" fill="#f0758a" stroke="#e0506a" stroke-width="0.5"/>
<circle cx="60.40" cy="415.30" r="1.40" fill="#0a12c0" stroke="#000a80" stroke-width="0.5"/>
<circle cx="59.50" cy="419.30" r="1.40" fill="#0a12c0" stroke="#000a80" stroke-width="0.5"/>
<circle cx="56.50" cy="424.00" r="1.40" fill="#0a12c0" stroke="#000a80" stroke-width="0.5"/>
<circle cx="58.50" cy="425.00" r="1.40" fill="#0a12c0" stroke="#000a80" stroke-width="0.5"/>
<circle cx="61.00" cy="424.50" r="1.40" fill="#0a12c0" stroke="#000a80" stroke-width="0.5"/>
<circle cx="63.50" cy="425.50" r="1.40" fill="#0a12c0" stroke="#000a80" stroke-width="0.5"/>
<circle cx="57.50" cy="427.50" r="1.40" fill="#0a12c0" stroke="#000a80" stroke-width="0.5"/>
<circle cx="62.50" cy="428.50" r="1.40" fill="#0a12c0" stroke="#000a80" stroke-width="0.5"/>
<circle cx="60.00" cy="430.50" r="1.40" fill="#0a12c0" stroke="#000a80" stroke-width="0.5"/>
<circle cx="64.00" cy="430.50" r="1.40" fill="#0a12c0" stroke="#000a80" stroke-width="0.5"/>
<circle cx="58.00" cy="433.00" r="1.40" fill="#0a12c0" stroke="#000a80" stroke-width="0.5"/>
<circle cx="62.00" cy="434.00" r="1.40" fill="#0a12c0" stroke="#000a80" stroke-width="0.5"/>
<circle cx="60.00" cy="436.50" r="1.40" fill="#0a12c0" stroke="#000a80" stroke-width="0.5"/>
<circle cx="57.00" cy="440.00" r="1.40" fill="#0a12c0" stroke="#000a80" stroke-width="0.5"/>
<circle cx="62.00" cy="441.00" r="1.40" fill="#0a12c0" stroke="#000a80" stroke-width="0.5"/>
<circle cx="64.50" cy="443.50" r="1.40" fill="#0a12c0" stroke="#000a80" stroke-width="0.5"/>
<circle cx="59.00" cy="445.00" r="1.40" fill="#0a12c0" stroke="#000a80" stroke-width="0.5"/>
<circle cx="60.50" cy="447.50" r="1.40" fill="#0a12c0" stroke="#000a80" stroke-width="0.5"/>
<circle cx="60.40" cy="449.50" r="1.40" fill="#0a12c0" stroke="#000a80" stroke-width="0.5"/>
<circle cx="60.40" cy="457.00" r="1.40" fill="#0a12c0" stroke="#000a80" stroke-width="0.5"/>
<circle cx="60.40" cy="460.50" r="1.40" fill="#0a12c0" stroke="#000a80" stroke-width="0.5"/>
<circle cx="81.00" cy="416.20" r="1.40" fill="#d40000" stroke="#a00000" stroke-width="0.5"/>
<circle cx="80.00" cy="421.00" r="1.40" fill="#d40000" stroke="#a00000" stroke-width="0.5"/>
<circle cx="76.50" cy="423.80" r="1.40" fill="#d40000" stroke="#a00000" stroke-width="0.5"/>
<circle cx="79.50" cy="424.50" r="1.40" fill="#d40000" stroke="#a00000" stroke-width="0.5"/>
<circle cx="83.00" cy="424.00" r="1.40" fill="#d40000" stroke="#a00000" stroke-width="0.5"/>
<circle cx="77.50" cy="430.00" r="1.40" fill="#d40000" stroke="#a00000" stroke-width="0.5"/>
<circle cx="81.50" cy="430.00" r="1.40" fill="#d40000" stroke="#a00000" stroke-width="0.5"/>
<line x1="130.60" y1="359.00" x2="130.60" y2="466.60" stroke="#b5b5b5" stroke-width="1.2"/>
<line x1="128.10" y1="359.50" x2="130.60" y2="359.50" stroke="#888" stroke-width="0.8"/>
<text x="124.60" y="361.83" font-size="6.75" text-anchor="end">16</text>
<line x1="128.10" y1="403.50" x2="130.60" y2="403.50" stroke="#888" stroke-width="0.8"/>
<text x="124.60" y="405.63" font-size="6.75" text-anchor="end">12</text>
<line x1="128.10" y1="447.50" x2="130.60" y2="447.50" stroke="#888" stroke-width="0.8"/>
<text x="124.60" y="449.43" font-size="6.75" text-anchor="end">8</text>
<line x1="135.00" y1="470.50" x2="192.80" y2="470.50" stroke="#555" stroke-width="0.8"/>
<text transform="translate(109.6,415.3) rotate(-90)" font-size="6.75" text-anchor="middle"><tspan font-style="italic">TGFB1</tspan> RNA expression (log<tspan font-size="4.3" dy="1.2">2</tspan><tspan dy="-1.2">)</tspan></text>
<line x1="142.50" y1="419.30" x2="142.50" y2="427.20" stroke="#999" stroke-width="0.8"/>
<line x1="142.50" y1="436.50" x2="142.50" y2="460.20" stroke="#999" stroke-width="0.8"/>
<line x1="140.75" y1="419.50" x2="145.15" y2="419.50" stroke="#555" stroke-width="0.8"/>
<line x1="140.75" y1="460.50" x2="145.15" y2="460.50" stroke="#555" stroke-width="0.8"/>
<rect x="136.20" y="427.20" width="13.50" height="9.30" fill="none" stroke="#666" stroke-width="0.8"/>
<line x1="136.20" y1="431.50" x2="149.70" y2="431.50" stroke="#666" stroke-width="0.8"/>
<line x1="163.50" y1="412.30" x2="163.50" y2="429.00" stroke="#999" stroke-width="0.8"/>
<line x1="163.50" y1="441.20" x2="163.50" y2="447.00" stroke="#999" stroke-width="0.8"/>
<line x1="161.75" y1="412.50" x2="166.15" y2="412.50" stroke="#555" stroke-width="0.8"/>
<line x1="161.75" y1="447.50" x2="166.15" y2="447.50" stroke="#555" stroke-width="0.8"/>
<rect x="157.20" y="429.00" width="13.50" height="12.20" fill="none" stroke="#666" stroke-width="0.8"/>
<line x1="157.20" y1="434.50" x2="170.70" y2="434.50" stroke="#666" stroke-width="0.8"/>
<line x1="184.50" y1="380.00" x2="184.50" y2="389.60" stroke="#999" stroke-width="0.8"/>
<line x1="184.50" y1="429.90" x2="184.50" y2="436.90" stroke="#999" stroke-width="0.8"/>
<line x1="182.60" y1="380.50" x2="187.00" y2="380.50" stroke="#555" stroke-width="0.8"/>
<line x1="182.60" y1="436.50" x2="187.00" y2="436.50" stroke="#555" stroke-width="0.8"/>
<rect x="178.20" y="389.60" width="13.20" height="40.30" fill="none" stroke="#666" stroke-width="0.8"/>
<line x1="178.20" y1="422.50" x2="191.40" y2="422.50" stroke="#666" stroke-width="0.8"/>
<line x1="161.90" y1="367.50" x2="164.56" y2="367.50" stroke="#bbb" stroke-width="0.8"/>
<line x1="183.44" y1="367.50" x2="186.10" y2="367.50" stroke="#bbb" stroke-width="0.8"/>
<text x="174.00" y="370.13" font-size="6.75" text-anchor="middle" fill="#333">0.007</text>
<line x1="143.20" y1="375.50" x2="156.63" y2="375.50" stroke="#bbb" stroke-width="0.8"/>
<line x1="171.77" y1="375.50" x2="185.20" y2="375.50" stroke="#bbb" stroke-width="0.8"/>
<text x="164.20" y="378.33" font-size="6.75" text-anchor="middle" fill="#333">0.05</text>
<line x1="143.20" y1="384.50" x2="145.88" y2="384.50" stroke="#bbb" stroke-width="0.8"/>
<line x1="161.02" y1="384.50" x2="163.70" y2="384.50" stroke="#bbb" stroke-width="0.8"/>
<text x="153.45" y="386.43" font-size="6.75" text-anchor="middle" fill="#333">0.45</text>
<circle cx="143.00" cy="419.30" r="1.40" fill="#7e98ff" stroke="#4a6af2" stroke-width="0.5"/>
<circle cx="143.00" cy="426.50" r="1.40" fill="#7e98ff" stroke="#4a6af2" stroke-width="0.5"/>
<circle cx="145.50" cy="428.00" r="1.40" fill="#7e98ff" stroke="#4a6af2" stroke-width="0.5"/>
<circle cx="141.00" cy="430.00" r="1.40" fill="#7e98ff" stroke="#4a6af2" stroke-width="0.5"/>
<circle cx="144.00" cy="431.00" r="1.40" fill="#7e98ff" stroke="#4a6af2" stroke-width="0.5"/>
<circle cx="146.50" cy="432.00" r="1.40" fill="#7e98ff" stroke="#4a6af2" stroke-width="0.5"/>
<circle cx="142.00" cy="433.50" r="1.40" fill="#7e98ff" stroke="#4a6af2" stroke-width="0.5"/>
<circle cx="145.00" cy="434.50" r="1.40" fill="#7e98ff" stroke="#4a6af2" stroke-width="0.5"/>
<circle cx="143.00" cy="436.50" r="1.40" fill="#7e98ff" stroke="#4a6af2" stroke-width="0.5"/>
<circle cx="143.00" cy="460.20" r="1.40" fill="#7e98ff" stroke="#4a6af2" stroke-width="0.5"/>
<circle cx="142.50" cy="422.00" r="1.60" fill="#f0758a" stroke="#e0506a" stroke-width="0.5"/>
<circle cx="163.80" cy="412.30" r="1.40" fill="#0a12c0" stroke="#000a80" stroke-width="0.5"/>
<circle cx="163.80" cy="416.00" r="1.40" fill="#0a12c0" stroke="#000a80" stroke-width="0.5"/>
<circle cx="163.80" cy="421.00" r="1.40" fill="#0a12c0" stroke="#000a80" stroke-width="0.5"/>
<circle cx="160.00" cy="424.50" r="1.40" fill="#0a12c0" stroke="#000a80" stroke-width="0.5"/>
<circle cx="164.00" cy="425.00" r="1.40" fill="#0a12c0" stroke="#000a80" stroke-width="0.5"/>
<circle cx="167.00" cy="424.00" r="1.40" fill="#0a12c0" stroke="#000a80" stroke-width="0.5"/>
<circle cx="161.00" cy="428.00" r="1.40" fill="#0a12c0" stroke="#000a80" stroke-width="0.5"/>
<circle cx="165.00" cy="428.00" r="1.40" fill="#0a12c0" stroke="#000a80" stroke-width="0.5"/>
<circle cx="168.00" cy="429.50" r="1.40" fill="#0a12c0" stroke="#000a80" stroke-width="0.5"/>
<circle cx="160.00" cy="431.50" r="1.40" fill="#0a12c0" stroke="#000a80" stroke-width="0.5"/>
<circle cx="163.50" cy="432.00" r="1.40" fill="#0a12c0" stroke="#000a80" stroke-width="0.5"/>
<circle cx="167.50" cy="433.00" r="1.40" fill="#0a12c0" stroke="#000a80" stroke-width="0.5"/>
<circle cx="161.50" cy="435.00" r="1.40" fill="#0a12c0" stroke="#000a80" stroke-width="0.5"/>
<circle cx="165.00" cy="436.00" r="1.40" fill="#0a12c0" stroke="#000a80" stroke-width="0.5"/>
<circle cx="159.50" cy="438.00" r="1.40" fill="#0a12c0" stroke="#000a80" stroke-width="0.5"/>
<circle cx="163.00" cy="439.00" r="1.40" fill="#0a12c0" stroke="#000a80" stroke-width="0.5"/>
<circle cx="167.00" cy="438.50" r="1.40" fill="#0a12c0" stroke="#000a80" stroke-width="0.5"/>
<circle cx="161.50" cy="441.50" r="1.40" fill="#0a12c0" stroke="#000a80" stroke-width="0.5"/>
<circle cx="165.50" cy="442.00" r="1.40" fill="#0a12c0" stroke="#000a80" stroke-width="0.5"/>
<circle cx="160.00" cy="444.50" r="1.40" fill="#0a12c0" stroke="#000a80" stroke-width="0.5"/>
<circle cx="164.50" cy="446.00" r="1.40" fill="#0a12c0" stroke="#000a80" stroke-width="0.5"/>
<circle cx="167.50" cy="445.00" r="1.40" fill="#0a12c0" stroke="#000a80" stroke-width="0.5"/>
<circle cx="162.00" cy="447.00" r="1.40" fill="#0a12c0" stroke="#000a80" stroke-width="0.5"/>
<circle cx="184.80" cy="380.00" r="1.40" fill="#d40000" stroke="#a00000" stroke-width="0.5"/>
<circle cx="184.80" cy="389.20" r="1.40" fill="#d40000" stroke="#a00000" stroke-width="0.5"/>
<circle cx="184.80" cy="399.50" r="1.40" fill="#d40000" stroke="#a00000" stroke-width="0.5"/>
<circle cx="186.00" cy="422.50" r="1.40" fill="#d40000" stroke="#a00000" stroke-width="0.5"/>
<circle cx="182.50" cy="425.50" r="1.40" fill="#d40000" stroke="#a00000" stroke-width="0.5"/>
<circle cx="184.80" cy="430.00" r="1.40" fill="#d40000" stroke="#a00000" stroke-width="0.5"/>
<circle cx="184.80" cy="436.90" r="1.40" fill="#d40000" stroke="#a00000" stroke-width="0.5"/>
<circle cx="21.80" cy="480.40" r="2.00" fill="#7e98ff" stroke="#4a6af2" stroke-width="0.5"/>
<text x="28.90" y="482.83" font-size="6.75">Responders (before)</text>
<circle cx="21.80" cy="491.70" r="2.00" fill="#f0758a" stroke="#e0506a" stroke-width="0.5"/>
<text x="28.90" y="494.13" font-size="6.75">Non-responders (before)</text>
<circle cx="116.60" cy="480.40" r="2.00" fill="#0a12c0" stroke="#000a80" stroke-width="0.5"/>
<text x="123.00" y="482.83" font-size="6.75">Responders (after)</text>
<circle cx="116.60" cy="491.70" r="2.00" fill="#d40000" stroke="#a00000" stroke-width="0.5"/>
<text x="123.00" y="494.13" font-size="6.75">Non-responders (after)</text>
<text x="220.50" y="349.22" font-size="10.6" fill="#000" font-weight="bold">f</text>
<rect x="408.50" y="355.80" width="31.77" height="8.00" fill="#3453a6"/>
<text x="361.60" y="362.23" font-size="6.75" text-anchor="end">Nuclear event kinase and TF activation</text>
<rect x="408.50" y="365.77" width="26.45" height="8.00" fill="#3453a6"/>
<text x="361.60" y="372.20" font-size="6.75" text-anchor="end">Metabolism of lipids</text>
<rect x="408.50" y="375.74" width="26.45" height="8.00" fill="#3453a6"/>
<text x="361.60" y="382.17" font-size="6.75" text-anchor="end">ESR-mediated signalling</text>
<rect x="408.50" y="385.71" width="24.32" height="8.00" fill="#3453a6"/>
<text x="361.60" y="392.14" font-size="6.75" text-anchor="end">FCGR-dependent phagocytosis</text>
<rect x="408.50" y="395.68" width="23.71" height="8.00" fill="#3453a6"/>
<text x="361.60" y="402.11" font-size="6.75" text-anchor="end">Signalling by receptor tyrosine kinases</text>
<rect x="408.50" y="405.65" width="22.50" height="8.00" fill="#3453a6"/>
<text x="361.60" y="412.08" font-size="6.75" text-anchor="end">MHCII antigen presentation</text>
<rect x="408.50" y="415.62" width="22.50" height="8.00" fill="#3453a6"/>
<text x="361.60" y="422.05" font-size="6.75" text-anchor="end">Generation of second messenger molecules</text>
<rect x="408.50" y="425.59" width="22.04" height="8.00" fill="#3453a6"/>
<text x="361.60" y="432.02" font-size="6.75" text-anchor="end">PD-1 signalling</text>
<rect x="383.12" y="435.56" width="25.38" height="8.00" fill="#e8202a"/>
<text x="361.60" y="441.99" font-size="6.75" text-anchor="end">Purinergic signalling</text>
<rect x="385.09" y="445.53" width="23.41" height="8.00" fill="#e8202a"/>
<text x="359.0" y="451.96" font-size="6.75" text-anchor="end">IFNαβ signalling</text>
<rect x="386.16" y="455.50" width="22.34" height="8.00" fill="#e8202a"/>
<text x="361.60" y="461.93" font-size="6.75" text-anchor="end">Negative regulators of DDX58–IFIH1 signalling</text>
<rect x="386.16" y="465.47" width="22.34" height="8.00" fill="#e8202a"/>
<text x="361.60" y="471.90" font-size="6.75" text-anchor="end">Programmed cell death</text>
<line x1="408.50" y1="351.40" x2="408.50" y2="474.00" stroke="#555" stroke-width="0.8"/>
<line x1="363.30" y1="474.50" x2="454.80" y2="474.50" stroke="#555" stroke-width="0.8"/>
<line x1="362.50" y1="474.00" x2="362.50" y2="476.30" stroke="#555" stroke-width="0.8"/>
<text x="362.90" y="486.23" font-size="6.75" text-anchor="middle">−3</text>
<line x1="378.50" y1="474.00" x2="378.50" y2="476.30" stroke="#555" stroke-width="0.8"/>
<text x="378.10" y="486.23" font-size="6.75" text-anchor="middle">−2</text>
<line x1="393.50" y1="474.00" x2="393.50" y2="476.30" stroke="#555" stroke-width="0.8"/>
<text x="393.30" y="486.23" font-size="6.75" text-anchor="middle">−1</text>
<line x1="408.50" y1="474.00" x2="408.50" y2="476.30" stroke="#555" stroke-width="0.8"/>
<text x="408.50" y="486.23" font-size="6.75" text-anchor="middle">0</text>
<line x1="423.50" y1="474.00" x2="423.50" y2="476.30" stroke="#555" stroke-width="0.8"/>
<text x="423.70" y="486.23" font-size="6.75" text-anchor="middle">1</text>
<line x1="438.50" y1="474.00" x2="438.50" y2="476.30" stroke="#555" stroke-width="0.8"/>
<text x="438.90" y="486.23" font-size="6.75" text-anchor="middle">2</text>
<line x1="454.50" y1="474.00" x2="454.50" y2="476.30" stroke="#555" stroke-width="0.8"/>
<text x="454.10" y="486.23" font-size="6.75" text-anchor="middle">3</text>
<text x="408.50" y="494.13" font-size="6.75" text-anchor="middle">NES</text>
<rect x="229.30" y="495.60" width="6.40" height="6.40" fill="#3453a6"/>
<text x="238.20" y="501.23" font-size="6.75">Enriched among responders</text>
<rect x="334.80" y="495.60" width="6.40" height="6.40" fill="#e8202a"/>
<text x="344.50" y="501.23" font-size="6.75">Enriched among non-responders</text>
<text x="476.50" y="348.02" font-size="10.6" fill="#000" font-weight="bold">g</text>
<line x1="513.20" y1="344.80" x2="513.20" y2="481.80" stroke="#b5b5b5" stroke-width="1.25"/>
<line x1="510.00" y1="481.50" x2="513.20" y2="481.50" stroke="#555" stroke-width="0.8"/>
<text x="506.40" y="484.23" font-size="6.75" text-anchor="end">0</text>
<line x1="510.00" y1="452.50" x2="513.20" y2="452.50" stroke="#555" stroke-width="0.8"/>
<text x="506.40" y="455.08" font-size="6.75" text-anchor="end">100</text>
<line x1="510.00" y1="423.50" x2="513.20" y2="423.50" stroke="#555" stroke-width="0.8"/>
<text x="506.40" y="425.93" font-size="6.75" text-anchor="end">200</text>
<line x1="510.00" y1="394.50" x2="513.20" y2="394.50" stroke="#555" stroke-width="0.8"/>
<text x="506.40" y="396.78" font-size="6.75" text-anchor="end">300</text>
<line x1="510.00" y1="365.50" x2="513.20" y2="365.50" stroke="#555" stroke-width="0.8"/>
<text x="506.40" y="367.63" font-size="6.75" text-anchor="end">400</text>
<line x1="522.40" y1="485.50" x2="662.00" y2="485.50" stroke="#555" stroke-width="0.8"/>
<line x1="529.50" y1="485.20" x2="529.50" y2="487.70" stroke="#555" stroke-width="0.8"/>
<text x="529.60" y="498.43" font-size="6.75" text-anchor="middle">3</text>
<line x1="540.50" y1="485.20" x2="540.50" y2="487.70" stroke="#555" stroke-width="0.8"/>
<text x="540.96" y="498.43" font-size="6.75" text-anchor="middle">6</text>
<line x1="552.50" y1="485.20" x2="552.50" y2="487.70" stroke="#555" stroke-width="0.8"/>
<text x="552.31" y="498.43" font-size="6.75" text-anchor="middle">9</text>
<line x1="563.50" y1="485.20" x2="563.50" y2="487.70" stroke="#555" stroke-width="0.8"/>
<text x="563.66" y="498.43" font-size="6.75" text-anchor="middle">12</text>
<line x1="575.50" y1="485.20" x2="575.50" y2="487.70" stroke="#555" stroke-width="0.8"/>
<text x="575.02" y="498.43" font-size="6.75" text-anchor="middle">15</text>
<line x1="586.50" y1="485.20" x2="586.50" y2="487.70" stroke="#555" stroke-width="0.8"/>
<text x="586.38" y="498.43" font-size="6.75" text-anchor="middle">18</text>
<line x1="597.50" y1="485.20" x2="597.50" y2="487.70" stroke="#555" stroke-width="0.8"/>
<text x="597.73" y="498.43" font-size="6.75" text-anchor="middle">21</text>
<line x1="609.50" y1="485.20" x2="609.50" y2="487.70" stroke="#555" stroke-width="0.8"/>
<text x="609.09" y="498.43" font-size="6.75" text-anchor="middle">24</text>
<line x1="620.50" y1="485.20" x2="620.50" y2="487.70" stroke="#555" stroke-width="0.8"/>
<text x="620.44" y="498.43" font-size="6.75" text-anchor="middle">27</text>
<line x1="631.50" y1="485.20" x2="631.50" y2="487.70" stroke="#555" stroke-width="0.8"/>
<text x="631.80" y="498.43" font-size="6.75" text-anchor="middle">30</text>
<line x1="643.50" y1="485.20" x2="643.50" y2="487.70" stroke="#555" stroke-width="0.8"/>
<text x="643.15" y="498.43" font-size="6.75" text-anchor="middle">33</text>
<line x1="654.50" y1="485.20" x2="654.50" y2="487.70" stroke="#555" stroke-width="0.8"/>
<text x="654.50" y="498.43" font-size="6.75" text-anchor="middle">36</text>
<line x1="563.50" y1="480.93" x2="563.50" y2="481.51" stroke="#8a8a8a" stroke-width="0.7"/>
<line x1="562.06" y1="480.50" x2="565.26" y2="480.50" stroke="#8a8a8a" stroke-width="0.7"/>
<line x1="562.06" y1="481.50" x2="565.26" y2="481.50" stroke="#8a8a8a" stroke-width="0.7"/>
<line x1="575.50" y1="478.01" x2="575.50" y2="479.18" stroke="#8a8a8a" stroke-width="0.7"/>
<line x1="573.42" y1="478.50" x2="576.62" y2="478.50" stroke="#8a8a8a" stroke-width="0.7"/>
<line x1="573.42" y1="479.50" x2="576.62" y2="479.50" stroke="#8a8a8a" stroke-width="0.7"/>
<line x1="586.50" y1="472.76" x2="586.50" y2="475.68" stroke="#8a8a8a" stroke-width="0.7"/>
<line x1="584.77" y1="472.50" x2="587.98" y2="472.50" stroke="#8a8a8a" stroke-width="0.7"/>
<line x1="584.77" y1="475.50" x2="587.98" y2="475.50" stroke="#8a8a8a" stroke-width="0.7"/>
<line x1="597.50" y1="467.46" x2="597.50" y2="471.54" stroke="#8a8a8a" stroke-width="0.7"/>
<line x1="596.13" y1="467.50" x2="599.33" y2="467.50" stroke="#8a8a8a" stroke-width="0.7"/>
<line x1="596.13" y1="471.50" x2="599.33" y2="471.50" stroke="#8a8a8a" stroke-width="0.7"/>
<line x1="609.50" y1="462.39" x2="609.50" y2="468.22" stroke="#8a8a8a" stroke-width="0.7"/>
<line x1="607.49" y1="462.50" x2="610.69" y2="462.50" stroke="#8a8a8a" stroke-width="0.7"/>
<line x1="607.49" y1="468.50" x2="610.69" y2="468.50" stroke="#8a8a8a" stroke-width="0.7"/>
<line x1="620.50" y1="461.80" x2="620.50" y2="468.80" stroke="#8a8a8a" stroke-width="0.7"/>
<line x1="618.84" y1="461.50" x2="622.04" y2="461.50" stroke="#8a8a8a" stroke-width="0.7"/>
<line x1="618.84" y1="468.50" x2="622.04" y2="468.50" stroke="#8a8a8a" stroke-width="0.7"/>
<line x1="631.50" y1="458.71" x2="631.50" y2="465.71" stroke="#8a8a8a" stroke-width="0.7"/>
<line x1="630.20" y1="458.50" x2="633.40" y2="458.50" stroke="#8a8a8a" stroke-width="0.7"/>
<line x1="630.20" y1="465.50" x2="633.40" y2="465.50" stroke="#8a8a8a" stroke-width="0.7"/>
<line x1="643.50" y1="448.25" x2="643.50" y2="458.74" stroke="#8a8a8a" stroke-width="0.7"/>
<line x1="641.55" y1="448.50" x2="644.75" y2="448.50" stroke="#8a8a8a" stroke-width="0.7"/>
<line x1="641.55" y1="458.50" x2="644.75" y2="458.50" stroke="#8a8a8a" stroke-width="0.7"/>
<line x1="654.50" y1="436.33" x2="654.50" y2="450.90" stroke="#8a8a8a" stroke-width="0.7"/>
<line x1="652.90" y1="436.50" x2="656.11" y2="436.50" stroke="#8a8a8a" stroke-width="0.7"/>
<line x1="652.90" y1="450.50" x2="656.11" y2="450.50" stroke="#8a8a8a" stroke-width="0.7"/>
<line x1="563.50" y1="480.93" x2="563.50" y2="481.51" stroke="#8a8a8a" stroke-width="0.7"/>
<line x1="562.06" y1="480.50" x2="565.26" y2="480.50" stroke="#8a8a8a" stroke-width="0.7"/>
<line x1="562.06" y1="481.50" x2="565.26" y2="481.50" stroke="#8a8a8a" stroke-width="0.7"/>
<line x1="575.50" y1="478.30" x2="575.50" y2="479.47" stroke="#8a8a8a" stroke-width="0.7"/>
<line x1="573.42" y1="478.50" x2="576.62" y2="478.50" stroke="#8a8a8a" stroke-width="0.7"/>
<line x1="573.42" y1="479.50" x2="576.62" y2="479.50" stroke="#8a8a8a" stroke-width="0.7"/>
<line x1="586.50" y1="474.80" x2="586.50" y2="477.14" stroke="#8a8a8a" stroke-width="0.7"/>
<line x1="584.77" y1="474.50" x2="587.98" y2="474.50" stroke="#8a8a8a" stroke-width="0.7"/>
<line x1="584.77" y1="477.50" x2="587.98" y2="477.50" stroke="#8a8a8a" stroke-width="0.7"/>
<line x1="597.50" y1="471.45" x2="597.50" y2="474.95" stroke="#8a8a8a" stroke-width="0.7"/>
<line x1="596.13" y1="471.50" x2="599.33" y2="471.50" stroke="#8a8a8a" stroke-width="0.7"/>
<line x1="596.13" y1="474.50" x2="599.33" y2="474.50" stroke="#8a8a8a" stroke-width="0.7"/>
<line x1="609.50" y1="467.78" x2="609.50" y2="473.03" stroke="#8a8a8a" stroke-width="0.7"/>
<line x1="607.49" y1="467.50" x2="610.69" y2="467.50" stroke="#8a8a8a" stroke-width="0.7"/>
<line x1="607.49" y1="473.50" x2="610.69" y2="473.50" stroke="#8a8a8a" stroke-width="0.7"/>
<line x1="620.50" y1="461.51" x2="620.50" y2="468.51" stroke="#8a8a8a" stroke-width="0.7"/>
<line x1="618.84" y1="461.50" x2="622.04" y2="461.50" stroke="#8a8a8a" stroke-width="0.7"/>
<line x1="618.84" y1="468.50" x2="622.04" y2="468.50" stroke="#8a8a8a" stroke-width="0.7"/>
<line x1="631.50" y1="460.00" x2="631.50" y2="466.99" stroke="#8a8a8a" stroke-width="0.7"/>
<line x1="630.20" y1="459.50" x2="633.40" y2="459.50" stroke="#8a8a8a" stroke-width="0.7"/>
<line x1="630.20" y1="466.50" x2="633.40" y2="466.50" stroke="#8a8a8a" stroke-width="0.7"/>
<line x1="643.50" y1="457.84" x2="643.50" y2="466.58" stroke="#8a8a8a" stroke-width="0.7"/>
<line x1="641.55" y1="457.50" x2="644.75" y2="457.50" stroke="#8a8a8a" stroke-width="0.7"/>
<line x1="641.55" y1="466.50" x2="644.75" y2="466.50" stroke="#8a8a8a" stroke-width="0.7"/>
<line x1="654.50" y1="445.80" x2="654.50" y2="458.63" stroke="#8a8a8a" stroke-width="0.7"/>
<line x1="652.90" y1="445.50" x2="656.11" y2="445.50" stroke="#8a8a8a" stroke-width="0.7"/>
<line x1="652.90" y1="458.50" x2="656.11" y2="458.50" stroke="#8a8a8a" stroke-width="0.7"/>
<line x1="563.50" y1="480.93" x2="563.50" y2="481.51" stroke="#8a8a8a" stroke-width="0.7"/>
<line x1="562.06" y1="480.50" x2="565.26" y2="480.50" stroke="#8a8a8a" stroke-width="0.7"/>
<line x1="562.06" y1="481.50" x2="565.26" y2="481.50" stroke="#8a8a8a" stroke-width="0.7"/>
<line x1="575.50" y1="478.30" x2="575.50" y2="479.47" stroke="#8a8a8a" stroke-width="0.7"/>
<line x1="573.42" y1="478.50" x2="576.62" y2="478.50" stroke="#8a8a8a" stroke-width="0.7"/>
<line x1="573.42" y1="479.50" x2="576.62" y2="479.50" stroke="#8a8a8a" stroke-width="0.7"/>
<line x1="586.50" y1="474.80" x2="586.50" y2="477.14" stroke="#8a8a8a" stroke-width="0.7"/>
<line x1="584.77" y1="474.50" x2="587.98" y2="474.50" stroke="#8a8a8a" stroke-width="0.7"/>
<line x1="584.77" y1="477.50" x2="587.98" y2="477.50" stroke="#8a8a8a" stroke-width="0.7"/>
<line x1="597.50" y1="472.36" x2="597.50" y2="475.85" stroke="#8a8a8a" stroke-width="0.7"/>
<line x1="596.13" y1="472.50" x2="599.33" y2="472.50" stroke="#8a8a8a" stroke-width="0.7"/>
<line x1="596.13" y1="475.50" x2="599.33" y2="475.50" stroke="#8a8a8a" stroke-width="0.7"/>
<line x1="609.50" y1="467.78" x2="609.50" y2="473.03" stroke="#8a8a8a" stroke-width="0.7"/>
<line x1="607.49" y1="467.50" x2="610.69" y2="467.50" stroke="#8a8a8a" stroke-width="0.7"/>
<line x1="607.49" y1="473.50" x2="610.69" y2="473.50" stroke="#8a8a8a" stroke-width="0.7"/>
<line x1="620.50" y1="459.30" x2="620.50" y2="466.29" stroke="#8a8a8a" stroke-width="0.7"/>
<line x1="618.84" y1="459.50" x2="622.04" y2="459.50" stroke="#8a8a8a" stroke-width="0.7"/>
<line x1="618.84" y1="466.50" x2="622.04" y2="466.50" stroke="#8a8a8a" stroke-width="0.7"/>
<line x1="631.50" y1="458.71" x2="631.50" y2="465.71" stroke="#8a8a8a" stroke-width="0.7"/>
<line x1="630.20" y1="458.50" x2="633.40" y2="458.50" stroke="#8a8a8a" stroke-width="0.7"/>
<line x1="630.20" y1="465.50" x2="633.40" y2="465.50" stroke="#8a8a8a" stroke-width="0.7"/>
<line x1="643.50" y1="457.84" x2="643.50" y2="466.58" stroke="#8a8a8a" stroke-width="0.7"/>
<line x1="641.55" y1="457.50" x2="644.75" y2="457.50" stroke="#8a8a8a" stroke-width="0.7"/>
<line x1="641.55" y1="466.50" x2="644.75" y2="466.50" stroke="#8a8a8a" stroke-width="0.7"/>
<line x1="654.50" y1="444.90" x2="654.50" y2="457.72" stroke="#8a8a8a" stroke-width="0.7"/>
<line x1="652.90" y1="444.50" x2="656.11" y2="444.50" stroke="#8a8a8a" stroke-width="0.7"/>
<line x1="652.90" y1="457.50" x2="656.11" y2="457.50" stroke="#8a8a8a" stroke-width="0.7"/>
<line x1="563.50" y1="480.93" x2="563.50" y2="481.51" stroke="#8a8a8a" stroke-width="0.7"/>
<line x1="562.06" y1="480.50" x2="565.26" y2="480.50" stroke="#8a8a8a" stroke-width="0.7"/>
<line x1="562.06" y1="481.50" x2="565.26" y2="481.50" stroke="#8a8a8a" stroke-width="0.7"/>
<line x1="575.50" y1="477.43" x2="575.50" y2="479.18" stroke="#8a8a8a" stroke-width="0.7"/>
<line x1="573.42" y1="477.50" x2="576.62" y2="477.50" stroke="#8a8a8a" stroke-width="0.7"/>
<line x1="573.42" y1="479.50" x2="576.62" y2="479.50" stroke="#8a8a8a" stroke-width="0.7"/>
<line x1="586.50" y1="472.24" x2="586.50" y2="475.15" stroke="#8a8a8a" stroke-width="0.7"/>
<line x1="584.77" y1="472.50" x2="587.98" y2="472.50" stroke="#8a8a8a" stroke-width="0.7"/>
<line x1="584.77" y1="475.50" x2="587.98" y2="475.50" stroke="#8a8a8a" stroke-width="0.7"/>
<line x1="597.50" y1="466.15" x2="597.50" y2="470.23" stroke="#8a8a8a" stroke-width="0.7"/>
<line x1="596.13" y1="466.50" x2="599.33" y2="466.50" stroke="#8a8a8a" stroke-width="0.7"/>
<line x1="596.13" y1="470.50" x2="599.33" y2="470.50" stroke="#8a8a8a" stroke-width="0.7"/>
<line x1="609.50" y1="456.18" x2="609.50" y2="462.01" stroke="#8a8a8a" stroke-width="0.7"/>
<line x1="607.49" y1="456.50" x2="610.69" y2="456.50" stroke="#8a8a8a" stroke-width="0.7"/>
<line x1="607.49" y1="462.50" x2="610.69" y2="462.50" stroke="#8a8a8a" stroke-width="0.7"/>
<line x1="620.50" y1="439.07" x2="620.50" y2="450.73" stroke="#8a8a8a" stroke-width="0.7"/>
<line x1="618.84" y1="439.50" x2="622.04" y2="439.50" stroke="#8a8a8a" stroke-width="0.7"/>
<line x1="618.84" y1="450.50" x2="622.04" y2="450.50" stroke="#8a8a8a" stroke-width="0.7"/>
<line x1="631.50" y1="426.15" x2="631.50" y2="439.85" stroke="#8a8a8a" stroke-width="0.7"/>
<line x1="630.20" y1="426.50" x2="633.40" y2="426.50" stroke="#8a8a8a" stroke-width="0.7"/>
<line x1="630.20" y1="439.50" x2="633.40" y2="439.50" stroke="#8a8a8a" stroke-width="0.7"/>
<line x1="643.50" y1="403.85" x2="643.50" y2="421.34" stroke="#8a8a8a" stroke-width="0.7"/>
<line x1="641.55" y1="403.50" x2="644.75" y2="403.50" stroke="#8a8a8a" stroke-width="0.7"/>
<line x1="641.55" y1="421.50" x2="644.75" y2="421.50" stroke="#8a8a8a" stroke-width="0.7"/>
<line x1="654.50" y1="355.81" x2="654.50" y2="390.21" stroke="#8a8a8a" stroke-width="0.7"/>
<line x1="652.90" y1="355.50" x2="656.11" y2="355.50" stroke="#8a8a8a" stroke-width="0.7"/>
<line x1="652.90" y1="390.50" x2="656.11" y2="390.50" stroke="#8a8a8a" stroke-width="0.7"/>
<polyline points="529.60,481.22 540.96,481.51 552.31,481.51 563.66,481.22 575.02,478.59 586.38,474.22 597.73,469.50 609.09,465.30 620.44,465.30 631.80,462.21 643.15,453.50 654.50,443.61" fill="none" stroke="#3aa0e0" stroke-width="1.0" stroke-linejoin="round"/>
<polyline points="529.60,481.22 540.96,481.51 552.31,481.51 563.66,481.22 575.02,478.88 586.38,475.97 597.73,473.20 609.09,470.40 620.44,465.01 631.80,463.49 643.15,462.21 654.50,452.21" fill="none" stroke="#2fd3a0" stroke-width="1.0" stroke-linejoin="round"/>
<polyline points="529.60,481.22 540.96,481.51 552.31,481.51 563.66,481.22 575.02,478.88 586.38,475.97 597.73,474.10 609.09,470.40 620.44,462.79 631.80,462.21 643.15,462.21 654.50,451.31" fill="none" stroke="#f8c657" stroke-width="1.0" stroke-linejoin="round"/>
<polyline points="529.60,481.22 540.96,481.51 552.31,481.51 563.66,481.22 575.02,478.30 586.38,473.70 597.73,468.19 609.09,459.09 620.44,444.90 631.80,433.00 643.15,412.60 654.50,373.01" fill="none" stroke="#a23fe0" stroke-width="1.0" stroke-linejoin="round"/>
<circle cx="529.60" cy="481.22" r="1.30" fill="#111"/>
<circle cx="540.96" cy="481.51" r="1.30" fill="#111"/>
<circle cx="552.31" cy="481.51" r="1.30" fill="#111"/>
<circle cx="563.66" cy="481.22" r="1.30" fill="#111"/>
<circle cx="575.02" cy="478.59" r="1.30" fill="#111"/>
<circle cx="586.38" cy="474.22" r="1.30" fill="#111"/>
<circle cx="597.73" cy="469.50" r="1.30" fill="#111"/>
<circle cx="609.09" cy="465.30" r="1.30" fill="#111"/>
<circle cx="620.44" cy="465.30" r="1.30" fill="#111"/>
<circle cx="631.80" cy="462.21" r="1.30" fill="#111"/>
<circle cx="643.15" cy="453.50" r="1.30" fill="#111"/>
<circle cx="654.50" cy="443.61" r="1.30" fill="#111"/>
<path d="M528.10,482.42L531.10,482.42L529.60,479.72Z" fill="#111"/>
<path d="M539.46,482.71L542.46,482.71L540.96,480.01Z" fill="#111"/>
<path d="M550.81,482.71L553.81,482.71L552.31,480.01Z" fill="#111"/>
<path d="M562.16,482.42L565.16,482.42L563.66,479.72Z" fill="#111"/>
<path d="M573.52,480.08L576.52,480.08L575.02,477.38Z" fill="#111"/>
<path d="M584.88,477.17L587.88,477.17L586.38,474.47Z" fill="#111"/>
<path d="M596.23,474.40L599.23,474.40L597.73,471.70Z" fill="#111"/>
<path d="M607.59,471.60L610.59,471.60L609.09,468.90Z" fill="#111"/>
<path d="M618.94,466.21L621.94,466.21L620.44,463.51Z" fill="#111"/>
<path d="M630.30,464.69L633.30,464.69L631.80,461.99Z" fill="#111"/>
<path d="M641.65,463.41L644.65,463.41L643.15,460.71Z" fill="#111"/>
<path d="M653.00,453.41L656.00,453.41L654.50,450.71Z" fill="#111"/>
<path d="M528.10,482.42L531.10,482.42L529.60,479.72Z" fill="#111"/>
<path d="M539.46,482.71L542.46,482.71L540.96,480.01Z" fill="#111"/>
<path d="M550.81,482.71L553.81,482.71L552.31,480.01Z" fill="#111"/>
<path d="M562.16,482.42L565.16,482.42L563.66,479.72Z" fill="#111"/>
<path d="M573.52,480.08L576.52,480.08L575.02,477.38Z" fill="#111"/>
<path d="M584.88,477.17L587.88,477.17L586.38,474.47Z" fill="#111"/>
<path d="M596.23,475.30L599.23,475.30L597.73,472.60Z" fill="#111"/>
<path d="M607.59,471.60L610.59,471.60L609.09,468.90Z" fill="#111"/>
<path d="M618.94,463.99L621.94,463.99L620.44,461.29Z" fill="#111"/>
<path d="M630.30,463.41L633.30,463.41L631.80,460.71Z" fill="#111"/>
<path d="M641.65,463.41L644.65,463.41L643.15,460.71Z" fill="#111"/>
<path d="M653.00,452.51L656.00,452.51L654.50,449.81Z" fill="#111"/>
<circle cx="529.60" cy="481.22" r="1.30" fill="#111"/>
<circle cx="540.96" cy="481.51" r="1.30" fill="#111"/>
<circle cx="552.31" cy="481.51" r="1.30" fill="#111"/>
<circle cx="563.66" cy="481.22" r="1.30" fill="#111"/>
<circle cx="575.02" cy="478.30" r="1.30" fill="#111"/>
<circle cx="586.38" cy="473.70" r="1.30" fill="#111"/>
<circle cx="597.73" cy="468.19" r="1.30" fill="#111"/>
<circle cx="609.09" cy="459.09" r="1.30" fill="#111"/>
<circle cx="620.44" cy="444.90" r="1.30" fill="#111"/>
<circle cx="631.80" cy="433.00" r="1.30" fill="#111"/>
<circle cx="643.15" cy="412.60" r="1.30" fill="#111"/>
<circle cx="654.50" cy="373.01" r="1.30" fill="#111"/>
<text x="591.40" y="507.43" font-size="6.75" text-anchor="middle">Time (days)</text>
<text transform="translate(487.00,413.30) rotate(-90)" font-size="6.75" text-anchor="middle">Tumour volume (mm<tspan font-size="4.3" dy="-2.4">3</tspan><tspan dy="2.4">)</tspan></text>
<text x="515.80" y="352.13" font-size="6.75">Groups</text>
<line x1="515.80" y1="361.50" x2="527.30" y2="361.50" stroke="#3aa0e0" stroke-width="1.0"/>
<text x="531.60" y="364.33" font-size="6.75">WT + anti-PD-1</text>
<line x1="515.80" y1="372.50" x2="527.30" y2="372.50" stroke="#2fd3a0" stroke-width="1.0"/>
<text x="531.60" y="374.73" font-size="6.75"><tspan font-style="italic">Ifnar1</tspan><tspan font-size="4.3" dy="-2.4">−/−</tspan><tspan dy="2.4"> </tspan>+ anti-PD-1</text>
<line x1="515.80" y1="382.50" x2="527.30" y2="382.50" stroke="#a23fe0" stroke-width="1.0"/>
<text x="531.60" y="385.03" font-size="6.75">WT  + EtBr + anti-PD-1</text>
<line x1="515.80" y1="393.50" x2="527.30" y2="393.50" stroke="#f8c657" stroke-width="1.0"/>
<text x="531.60" y="395.53" font-size="6.75"><tspan font-style="italic">Ifnar1</tspan><tspan font-size="4.3" dy="-2.4">−/−</tspan><tspan dy="2.4"> </tspan>+ EtBr + anti-PD-1</text>
<text x="515.80" y="415.53" font-size="6.75">Mixed-effects model (REML)</text>
<text x="515.80" y="422.73" font-size="6.75"><tspan font-style="italic">F</tspan>(33, 429) = 12.0, <tspan font-style="italic">P</tspan> < 0.001</text>
<line x1="668.50" y1="373.10" x2="668.50" y2="442.20" stroke="#8a8a8a" stroke-width="0.7"/>
<line x1="671.50" y1="373.10" x2="671.50" y2="451.90" stroke="#8a8a8a" stroke-width="0.7"/>
<line x1="674.50" y1="373.10" x2="674.50" y2="451.90" stroke="#8a8a8a" stroke-width="0.7"/>
<line x1="667.50" y1="373.50" x2="675.20" y2="373.50" stroke="#8a8a8a" stroke-width="0.7"/>
<line x1="670.40" y1="451.50" x2="675.20" y2="451.50" stroke="#8a8a8a" stroke-width="0.7"/>
<line x1="667.50" y1="442.50" x2="669.50" y2="442.50" stroke="#8a8a8a" stroke-width="0.7"/>
<line x1="664.50" y1="442.20" x2="664.50" y2="451.90" stroke="#8a8a8a" stroke-width="0.7"/>
<line x1="663.30" y1="442.50" x2="665.70" y2="442.50" stroke="#8a8a8a" stroke-width="0.7"/>
<line x1="663.30" y1="451.50" x2="665.70" y2="451.50" stroke="#8a8a8a" stroke-width="0.7"/>
<rect x="659.00" y="408.50" width="26.00" height="7.50" fill="#fff"/>
<text x="659.30" y="414.53" font-size="6.75"><tspan font-style="italic">P</tspan> < 0.01</text>
<rect x="660.00" y="444.00" width="9.50" height="6.50" fill="#fff"/>
<text x="660.30" y="449.73" font-size="6.75">NS</text>
<text x="0.00" y="525.72" font-size="10.6" fill="#000" font-weight="bold">h</text>
<line x1="36.30" y1="518.40" x2="36.30" y2="656.80" stroke="#b5b5b5" stroke-width="1.25"/>
<line x1="33.10" y1="656.50" x2="36.30" y2="656.50" stroke="#555" stroke-width="0.8"/>
<text x="29.50" y="659.23" font-size="6.75" text-anchor="end">0</text>
<line x1="33.10" y1="626.50" x2="36.30" y2="626.50" stroke="#555" stroke-width="0.8"/>
<text x="29.50" y="628.63" font-size="6.75" text-anchor="end">100</text>
<line x1="33.10" y1="595.50" x2="36.30" y2="595.50" stroke="#555" stroke-width="0.8"/>
<text x="29.50" y="598.03" font-size="6.75" text-anchor="end">200</text>
<line x1="33.10" y1="565.50" x2="36.30" y2="565.50" stroke="#555" stroke-width="0.8"/>
<text x="29.50" y="567.43" font-size="6.75" text-anchor="end">300</text>
<line x1="33.10" y1="534.50" x2="36.30" y2="534.50" stroke="#555" stroke-width="0.8"/>
<text x="29.50" y="536.83" font-size="6.75" text-anchor="end">400</text>
<line x1="45.30" y1="660.50" x2="185.40" y2="660.50" stroke="#555" stroke-width="0.8"/>
<line x1="56.50" y1="660.10" x2="56.50" y2="662.60" stroke="#555" stroke-width="0.8"/>
<text x="56.10" y="672.63" font-size="6.75" text-anchor="middle">3</text>
<line x1="67.50" y1="660.10" x2="67.50" y2="662.60" stroke="#555" stroke-width="0.8"/>
<text x="67.22" y="672.63" font-size="6.75" text-anchor="middle">6</text>
<line x1="78.50" y1="660.10" x2="78.50" y2="662.60" stroke="#555" stroke-width="0.8"/>
<text x="78.33" y="672.63" font-size="6.75" text-anchor="middle">9</text>
<line x1="89.50" y1="660.10" x2="89.50" y2="662.60" stroke="#555" stroke-width="0.8"/>
<text x="89.44" y="672.63" font-size="6.75" text-anchor="middle">12</text>
<line x1="100.50" y1="660.10" x2="100.50" y2="662.60" stroke="#555" stroke-width="0.8"/>
<text x="100.56" y="672.63" font-size="6.75" text-anchor="middle">15</text>
<line x1="111.50" y1="660.10" x2="111.50" y2="662.60" stroke="#555" stroke-width="0.8"/>
<text x="111.68" y="672.63" font-size="6.75" text-anchor="middle">18</text>
<line x1="122.50" y1="660.10" x2="122.50" y2="662.60" stroke="#555" stroke-width="0.8"/>
<text x="122.79" y="672.63" font-size="6.75" text-anchor="middle">21</text>
<line x1="133.50" y1="660.10" x2="133.50" y2="662.60" stroke="#555" stroke-width="0.8"/>
<text x="133.91" y="672.63" font-size="6.75" text-anchor="middle">24</text>
<line x1="145.50" y1="660.10" x2="145.50" y2="662.60" stroke="#555" stroke-width="0.8"/>
<text x="145.02" y="672.63" font-size="6.75" text-anchor="middle">27</text>
<line x1="156.50" y1="660.10" x2="156.50" y2="662.60" stroke="#555" stroke-width="0.8"/>
<text x="156.13" y="672.63" font-size="6.75" text-anchor="middle">30</text>
<line x1="167.50" y1="660.10" x2="167.50" y2="662.60" stroke="#555" stroke-width="0.8"/>
<text x="167.25" y="672.63" font-size="6.75" text-anchor="middle">33</text>
<line x1="178.50" y1="660.10" x2="178.50" y2="662.60" stroke="#555" stroke-width="0.8"/>
<text x="178.37" y="672.63" font-size="6.75" text-anchor="middle">36</text>
<line x1="89.50" y1="655.27" x2="89.50" y2="655.88" stroke="#444" stroke-width="0.7"/>
<line x1="87.84" y1="655.50" x2="91.04" y2="655.50" stroke="#444" stroke-width="0.7"/>
<line x1="87.84" y1="655.50" x2="91.04" y2="655.50" stroke="#444" stroke-width="0.7"/>
<line x1="100.50" y1="651.90" x2="100.50" y2="653.74" stroke="#444" stroke-width="0.7"/>
<line x1="98.96" y1="651.50" x2="102.16" y2="651.50" stroke="#444" stroke-width="0.7"/>
<line x1="98.96" y1="653.50" x2="102.16" y2="653.50" stroke="#444" stroke-width="0.7"/>
<line x1="111.50" y1="646.09" x2="111.50" y2="649.15" stroke="#444" stroke-width="0.7"/>
<line x1="110.08" y1="646.50" x2="113.28" y2="646.50" stroke="#444" stroke-width="0.7"/>
<line x1="110.08" y1="649.50" x2="113.28" y2="649.50" stroke="#444" stroke-width="0.7"/>
<line x1="122.50" y1="639.36" x2="122.50" y2="643.64" stroke="#444" stroke-width="0.7"/>
<line x1="121.19" y1="639.50" x2="124.39" y2="639.50" stroke="#444" stroke-width="0.7"/>
<line x1="121.19" y1="643.50" x2="124.39" y2="643.50" stroke="#444" stroke-width="0.7"/>
<line x1="133.50" y1="633.64" x2="133.50" y2="639.76" stroke="#444" stroke-width="0.7"/>
<line x1="132.31" y1="633.50" x2="135.50" y2="633.50" stroke="#444" stroke-width="0.7"/>
<line x1="132.31" y1="639.50" x2="135.50" y2="639.50" stroke="#444" stroke-width="0.7"/>
<line x1="145.50" y1="620.69" x2="145.50" y2="629.87" stroke="#444" stroke-width="0.7"/>
<line x1="143.42" y1="620.50" x2="146.62" y2="620.50" stroke="#444" stroke-width="0.7"/>
<line x1="143.42" y1="629.50" x2="146.62" y2="629.50" stroke="#444" stroke-width="0.7"/>
<line x1="156.50" y1="617.94" x2="156.50" y2="628.95" stroke="#444" stroke-width="0.7"/>
<line x1="154.53" y1="617.50" x2="157.73" y2="617.50" stroke="#444" stroke-width="0.7"/>
<line x1="154.53" y1="628.50" x2="157.73" y2="628.50" stroke="#444" stroke-width="0.7"/>
<line x1="167.50" y1="594.38" x2="167.50" y2="609.68" stroke="#444" stroke-width="0.7"/>
<line x1="165.65" y1="594.50" x2="168.85" y2="594.50" stroke="#444" stroke-width="0.7"/>
<line x1="165.65" y1="609.50" x2="168.85" y2="609.50" stroke="#444" stroke-width="0.7"/>
<line x1="178.50" y1="560.41" x2="178.50" y2="587.95" stroke="#444" stroke-width="0.7"/>
<line x1="176.77" y1="560.50" x2="179.97" y2="560.50" stroke="#444" stroke-width="0.7"/>
<line x1="176.77" y1="587.50" x2="179.97" y2="587.50" stroke="#444" stroke-width="0.7"/>
<line x1="89.50" y1="655.58" x2="89.50" y2="656.19" stroke="#444" stroke-width="0.7"/>
<line x1="87.84" y1="655.50" x2="91.04" y2="655.50" stroke="#444" stroke-width="0.7"/>
<line x1="87.84" y1="656.50" x2="91.04" y2="656.50" stroke="#444" stroke-width="0.7"/>
<line x1="100.50" y1="652.52" x2="100.50" y2="653.74" stroke="#444" stroke-width="0.7"/>
<line x1="98.96" y1="652.50" x2="102.16" y2="652.50" stroke="#444" stroke-width="0.7"/>
<line x1="98.96" y1="653.50" x2="102.16" y2="653.50" stroke="#444" stroke-width="0.7"/>
<line x1="111.50" y1="649.46" x2="111.50" y2="651.90" stroke="#444" stroke-width="0.7"/>
<line x1="110.08" y1="649.50" x2="113.28" y2="649.50" stroke="#444" stroke-width="0.7"/>
<line x1="110.08" y1="651.50" x2="113.28" y2="651.50" stroke="#444" stroke-width="0.7"/>
<line x1="122.50" y1="646.58" x2="122.50" y2="649.64" stroke="#444" stroke-width="0.7"/>
<line x1="121.19" y1="646.50" x2="124.39" y2="646.50" stroke="#444" stroke-width="0.7"/>
<line x1="121.19" y1="649.50" x2="124.39" y2="649.50" stroke="#444" stroke-width="0.7"/>
<line x1="133.50" y1="642.17" x2="133.50" y2="646.46" stroke="#444" stroke-width="0.7"/>
<line x1="132.31" y1="642.50" x2="135.50" y2="642.50" stroke="#444" stroke-width="0.7"/>
<line x1="132.31" y1="646.50" x2="135.50" y2="646.50" stroke="#444" stroke-width="0.7"/>
<line x1="145.50" y1="635.53" x2="145.50" y2="641.65" stroke="#444" stroke-width="0.7"/>
<line x1="143.42" y1="635.50" x2="146.62" y2="635.50" stroke="#444" stroke-width="0.7"/>
<line x1="143.42" y1="641.50" x2="146.62" y2="641.50" stroke="#444" stroke-width="0.7"/>
<line x1="156.50" y1="632.75" x2="156.50" y2="638.87" stroke="#444" stroke-width="0.7"/>
<line x1="154.53" y1="632.50" x2="157.73" y2="632.50" stroke="#444" stroke-width="0.7"/>
<line x1="154.53" y1="638.50" x2="157.73" y2="638.50" stroke="#444" stroke-width="0.7"/>
<line x1="167.50" y1="624.36" x2="167.50" y2="632.93" stroke="#444" stroke-width="0.7"/>
<line x1="165.65" y1="624.50" x2="168.85" y2="624.50" stroke="#444" stroke-width="0.7"/>
<line x1="165.65" y1="632.50" x2="168.85" y2="632.50" stroke="#444" stroke-width="0.7"/>
<line x1="178.50" y1="604.47" x2="178.50" y2="619.77" stroke="#444" stroke-width="0.7"/>
<line x1="176.77" y1="604.50" x2="179.97" y2="604.50" stroke="#444" stroke-width="0.7"/>
<line x1="176.77" y1="619.50" x2="179.97" y2="619.50" stroke="#444" stroke-width="0.7"/>
<line x1="89.50" y1="655.58" x2="89.50" y2="656.19" stroke="#444" stroke-width="0.7"/>
<line x1="87.84" y1="655.50" x2="91.04" y2="655.50" stroke="#444" stroke-width="0.7"/>
<line x1="87.84" y1="656.50" x2="91.04" y2="656.50" stroke="#444" stroke-width="0.7"/>
<line x1="100.50" y1="652.82" x2="100.50" y2="654.05" stroke="#444" stroke-width="0.7"/>
<line x1="98.96" y1="652.50" x2="102.16" y2="652.50" stroke="#444" stroke-width="0.7"/>
<line x1="98.96" y1="654.50" x2="102.16" y2="654.50" stroke="#444" stroke-width="0.7"/>
<line x1="111.50" y1="649.46" x2="111.50" y2="651.90" stroke="#444" stroke-width="0.7"/>
<line x1="110.08" y1="649.50" x2="113.28" y2="649.50" stroke="#444" stroke-width="0.7"/>
<line x1="110.08" y1="651.50" x2="113.28" y2="651.50" stroke="#444" stroke-width="0.7"/>
<line x1="122.50" y1="646.58" x2="122.50" y2="649.64" stroke="#444" stroke-width="0.7"/>
<line x1="121.19" y1="646.50" x2="124.39" y2="646.50" stroke="#444" stroke-width="0.7"/>
<line x1="121.19" y1="649.50" x2="124.39" y2="649.50" stroke="#444" stroke-width="0.7"/>
<line x1="133.50" y1="642.17" x2="133.50" y2="646.46" stroke="#444" stroke-width="0.7"/>
<line x1="132.31" y1="642.50" x2="135.50" y2="642.50" stroke="#444" stroke-width="0.7"/>
<line x1="132.31" y1="646.50" x2="135.50" y2="646.50" stroke="#444" stroke-width="0.7"/>
<line x1="145.50" y1="633.24" x2="145.50" y2="639.36" stroke="#444" stroke-width="0.7"/>
<line x1="143.42" y1="633.50" x2="146.62" y2="633.50" stroke="#444" stroke-width="0.7"/>
<line x1="143.42" y1="639.50" x2="146.62" y2="639.50" stroke="#444" stroke-width="0.7"/>
<line x1="156.50" y1="633.24" x2="156.50" y2="639.36" stroke="#444" stroke-width="0.7"/>
<line x1="154.53" y1="633.50" x2="157.73" y2="633.50" stroke="#444" stroke-width="0.7"/>
<line x1="154.53" y1="639.50" x2="157.73" y2="639.50" stroke="#444" stroke-width="0.7"/>
<line x1="167.50" y1="633.42" x2="167.50" y2="641.99" stroke="#444" stroke-width="0.7"/>
<line x1="165.65" y1="633.50" x2="168.85" y2="633.50" stroke="#444" stroke-width="0.7"/>
<line x1="165.65" y1="641.50" x2="168.85" y2="641.50" stroke="#444" stroke-width="0.7"/>
<line x1="178.50" y1="618.55" x2="178.50" y2="633.85" stroke="#444" stroke-width="0.7"/>
<line x1="176.77" y1="618.50" x2="179.97" y2="618.50" stroke="#444" stroke-width="0.7"/>
<line x1="176.77" y1="633.50" x2="179.97" y2="633.50" stroke="#444" stroke-width="0.7"/>
<line x1="89.50" y1="655.58" x2="89.50" y2="656.19" stroke="#444" stroke-width="0.7"/>
<line x1="87.84" y1="655.50" x2="91.04" y2="655.50" stroke="#444" stroke-width="0.7"/>
<line x1="87.84" y1="656.50" x2="91.04" y2="656.50" stroke="#444" stroke-width="0.7"/>
<line x1="100.50" y1="652.52" x2="100.50" y2="653.74" stroke="#444" stroke-width="0.7"/>
<line x1="98.96" y1="652.50" x2="102.16" y2="652.50" stroke="#444" stroke-width="0.7"/>
<line x1="98.96" y1="653.50" x2="102.16" y2="653.50" stroke="#444" stroke-width="0.7"/>
<line x1="111.50" y1="647.93" x2="111.50" y2="650.37" stroke="#444" stroke-width="0.7"/>
<line x1="110.08" y1="647.50" x2="113.28" y2="647.50" stroke="#444" stroke-width="0.7"/>
<line x1="110.08" y1="650.50" x2="113.28" y2="650.50" stroke="#444" stroke-width="0.7"/>
<line x1="122.50" y1="639.05" x2="122.50" y2="642.11" stroke="#444" stroke-width="0.7"/>
<line x1="121.19" y1="639.50" x2="124.39" y2="639.50" stroke="#444" stroke-width="0.7"/>
<line x1="121.19" y1="642.50" x2="124.39" y2="642.50" stroke="#444" stroke-width="0.7"/>
<line x1="133.50" y1="636.45" x2="133.50" y2="640.73" stroke="#444" stroke-width="0.7"/>
<line x1="132.31" y1="636.50" x2="135.50" y2="636.50" stroke="#444" stroke-width="0.7"/>
<line x1="132.31" y1="640.50" x2="135.50" y2="640.50" stroke="#444" stroke-width="0.7"/>
<line x1="145.50" y1="635.53" x2="145.50" y2="641.65" stroke="#444" stroke-width="0.7"/>
<line x1="143.42" y1="635.50" x2="146.62" y2="635.50" stroke="#444" stroke-width="0.7"/>
<line x1="143.42" y1="641.50" x2="146.62" y2="641.50" stroke="#444" stroke-width="0.7"/>
<line x1="156.50" y1="633.24" x2="156.50" y2="639.36" stroke="#444" stroke-width="0.7"/>
<line x1="154.53" y1="633.50" x2="157.73" y2="633.50" stroke="#444" stroke-width="0.7"/>
<line x1="154.53" y1="639.50" x2="157.73" y2="639.50" stroke="#444" stroke-width="0.7"/>
<line x1="167.50" y1="629.26" x2="167.50" y2="637.83" stroke="#444" stroke-width="0.7"/>
<line x1="165.65" y1="629.50" x2="168.85" y2="629.50" stroke="#444" stroke-width="0.7"/>
<line x1="165.65" y1="637.50" x2="168.85" y2="637.50" stroke="#444" stroke-width="0.7"/>
<line x1="178.50" y1="614.88" x2="178.50" y2="630.18" stroke="#444" stroke-width="0.7"/>
<line x1="176.77" y1="614.50" x2="179.97" y2="614.50" stroke="#444" stroke-width="0.7"/>
<line x1="176.77" y1="630.50" x2="179.97" y2="630.50" stroke="#444" stroke-width="0.7"/>
<line x1="89.50" y1="655.27" x2="89.50" y2="655.88" stroke="#444" stroke-width="0.7"/>
<line x1="87.84" y1="655.50" x2="91.04" y2="655.50" stroke="#444" stroke-width="0.7"/>
<line x1="87.84" y1="655.50" x2="91.04" y2="655.50" stroke="#444" stroke-width="0.7"/>
<line x1="100.50" y1="651.60" x2="100.50" y2="653.43" stroke="#444" stroke-width="0.7"/>
<line x1="98.96" y1="651.50" x2="102.16" y2="651.50" stroke="#444" stroke-width="0.7"/>
<line x1="98.96" y1="653.50" x2="102.16" y2="653.50" stroke="#444" stroke-width="0.7"/>
<line x1="111.50" y1="644.87" x2="111.50" y2="647.93" stroke="#444" stroke-width="0.7"/>
<line x1="110.08" y1="644.50" x2="113.28" y2="644.50" stroke="#444" stroke-width="0.7"/>
<line x1="110.08" y1="647.50" x2="113.28" y2="647.50" stroke="#444" stroke-width="0.7"/>
<line x1="122.50" y1="636.45" x2="122.50" y2="640.73" stroke="#444" stroke-width="0.7"/>
<line x1="121.19" y1="636.50" x2="124.39" y2="636.50" stroke="#444" stroke-width="0.7"/>
<line x1="121.19" y1="640.50" x2="124.39" y2="640.50" stroke="#444" stroke-width="0.7"/>
<line x1="133.50" y1="629.26" x2="133.50" y2="635.38" stroke="#444" stroke-width="0.7"/>
<line x1="132.31" y1="629.50" x2="135.50" y2="629.50" stroke="#444" stroke-width="0.7"/>
<line x1="132.31" y1="635.50" x2="135.50" y2="635.50" stroke="#444" stroke-width="0.7"/>
<line x1="145.50" y1="624.52" x2="145.50" y2="633.70" stroke="#444" stroke-width="0.7"/>
<line x1="143.42" y1="624.50" x2="146.62" y2="624.50" stroke="#444" stroke-width="0.7"/>
<line x1="143.42" y1="633.50" x2="146.62" y2="633.50" stroke="#444" stroke-width="0.7"/>
<line x1="156.50" y1="613.50" x2="156.50" y2="624.52" stroke="#444" stroke-width="0.7"/>
<line x1="154.53" y1="613.50" x2="157.73" y2="613.50" stroke="#444" stroke-width="0.7"/>
<line x1="154.53" y1="624.50" x2="157.73" y2="624.50" stroke="#444" stroke-width="0.7"/>
<line x1="167.50" y1="587.95" x2="167.50" y2="603.25" stroke="#444" stroke-width="0.7"/>
<line x1="165.65" y1="587.50" x2="168.85" y2="587.50" stroke="#444" stroke-width="0.7"/>
<line x1="165.65" y1="603.50" x2="168.85" y2="603.50" stroke="#444" stroke-width="0.7"/>
<line x1="178.50" y1="547.56" x2="178.50" y2="575.10" stroke="#444" stroke-width="0.7"/>
<line x1="176.77" y1="547.50" x2="179.97" y2="547.50" stroke="#444" stroke-width="0.7"/>
<line x1="176.77" y1="575.50" x2="179.97" y2="575.50" stroke="#444" stroke-width="0.7"/>
<line x1="89.50" y1="655.27" x2="89.50" y2="655.88" stroke="#444" stroke-width="0.7"/>
<line x1="87.84" y1="655.50" x2="91.04" y2="655.50" stroke="#444" stroke-width="0.7"/>
<line x1="87.84" y1="655.50" x2="91.04" y2="655.50" stroke="#444" stroke-width="0.7"/>
<line x1="100.50" y1="651.60" x2="100.50" y2="653.43" stroke="#444" stroke-width="0.7"/>
<line x1="98.96" y1="651.50" x2="102.16" y2="651.50" stroke="#444" stroke-width="0.7"/>
<line x1="98.96" y1="653.50" x2="102.16" y2="653.50" stroke="#444" stroke-width="0.7"/>
<line x1="111.50" y1="645.17" x2="111.50" y2="648.23" stroke="#444" stroke-width="0.7"/>
<line x1="110.08" y1="645.50" x2="113.28" y2="645.50" stroke="#444" stroke-width="0.7"/>
<line x1="110.08" y1="648.50" x2="113.28" y2="648.50" stroke="#444" stroke-width="0.7"/>
<line x1="122.50" y1="638.13" x2="122.50" y2="643.03" stroke="#444" stroke-width="0.7"/>
<line x1="121.19" y1="638.50" x2="124.39" y2="638.50" stroke="#444" stroke-width="0.7"/>
<line x1="121.19" y1="643.50" x2="124.39" y2="643.50" stroke="#444" stroke-width="0.7"/>
<line x1="133.50" y1="628.34" x2="133.50" y2="635.69" stroke="#444" stroke-width="0.7"/>
<line x1="132.31" y1="628.50" x2="135.50" y2="628.50" stroke="#444" stroke-width="0.7"/>
<line x1="132.31" y1="635.50" x2="135.50" y2="635.50" stroke="#444" stroke-width="0.7"/>
<line x1="145.50" y1="612.58" x2="145.50" y2="624.82" stroke="#444" stroke-width="0.7"/>
<line x1="143.42" y1="612.50" x2="146.62" y2="612.50" stroke="#444" stroke-width="0.7"/>
<line x1="143.42" y1="624.50" x2="146.62" y2="624.50" stroke="#444" stroke-width="0.7"/>
<line x1="156.50" y1="598.05" x2="156.50" y2="613.35" stroke="#444" stroke-width="0.7"/>
<line x1="154.53" y1="598.50" x2="157.73" y2="598.50" stroke="#444" stroke-width="0.7"/>
<line x1="154.53" y1="613.50" x2="157.73" y2="613.50" stroke="#444" stroke-width="0.7"/>
<line x1="167.50" y1="574.79" x2="167.50" y2="594.38" stroke="#444" stroke-width="0.7"/>
<line x1="165.65" y1="574.50" x2="168.85" y2="574.50" stroke="#444" stroke-width="0.7"/>
<line x1="165.65" y1="594.50" x2="168.85" y2="594.50" stroke="#444" stroke-width="0.7"/>
<line x1="178.50" y1="524.91" x2="178.50" y2="561.63" stroke="#444" stroke-width="0.7"/>
<line x1="176.77" y1="524.50" x2="179.97" y2="524.50" stroke="#444" stroke-width="0.7"/>
<line x1="176.77" y1="561.50" x2="179.97" y2="561.50" stroke="#444" stroke-width="0.7"/>
<polyline points="56.10,656.19 67.22,656.49 78.33,656.49 89.44,655.58 100.56,652.82 111.68,647.62 122.79,641.50 133.91,636.70 145.02,625.28 156.13,623.45 167.25,602.03 178.37,574.18" fill="none" stroke="#f07a5e" stroke-width="1.0" stroke-linejoin="round"/>
<polyline points="56.10,656.19 67.22,656.49 78.33,656.49 89.44,655.88 100.56,653.13 111.68,650.68 122.79,648.11 133.91,644.32 145.02,638.59 156.13,635.81 167.25,628.65 178.37,612.12" fill="none" stroke="#88d878" stroke-width="1.0" stroke-linejoin="round"/>
<polyline points="56.10,656.19 67.22,656.49 78.33,656.49 89.44,655.88 100.56,653.43 111.68,650.68 122.79,648.11 133.91,644.32 145.02,636.30 156.13,636.30 167.25,637.71 178.37,626.20" fill="none" stroke="#f8c657" stroke-width="1.0" stroke-linejoin="round"/>
<polyline points="56.10,656.19 67.22,656.49 78.33,656.49 89.44,655.88 100.56,653.13 111.68,649.15 122.79,640.58 133.91,638.59 145.02,638.59 156.13,636.30 167.25,633.54 178.37,622.53" fill="none" stroke="#f070e0" stroke-width="1.0" stroke-linejoin="round"/>
<polyline points="56.10,656.19 67.22,656.49 78.33,656.49 89.44,655.58 100.56,652.52 111.68,646.40 122.79,638.59 133.91,632.32 145.02,629.11 156.13,619.01 167.25,595.60 178.37,561.33" fill="none" stroke="#4a52e8" stroke-width="1.0" stroke-linejoin="round"/>
<polyline points="56.10,656.19 67.22,656.49 78.33,656.49 89.44,655.58 100.56,652.52 111.68,646.70 122.79,640.58 133.91,632.01 145.02,618.70 156.13,605.70 167.25,584.58 178.37,543.27" fill="none" stroke="#9a2fd8" stroke-width="1.0" stroke-linejoin="round"/>
<circle cx="56.10" cy="656.19" r="1.30" fill="#111"/>
<circle cx="67.22" cy="656.49" r="1.30" fill="#111"/>
<circle cx="78.33" cy="656.49" r="1.30" fill="#111"/>
<circle cx="89.44" cy="655.58" r="1.30" fill="#111"/>
<circle cx="100.56" cy="652.82" r="1.30" fill="#111"/>
<circle cx="111.68" cy="647.62" r="1.30" fill="#111"/>
<circle cx="122.79" cy="641.50" r="1.30" fill="#111"/>
<circle cx="133.91" cy="636.70" r="1.30" fill="#111"/>
<circle cx="145.02" cy="625.28" r="1.30" fill="#111"/>
<circle cx="156.13" cy="623.45" r="1.30" fill="#111"/>
<circle cx="167.25" cy="602.03" r="1.30" fill="#111"/>
<circle cx="178.37" cy="574.18" r="1.30" fill="#111"/>
<circle cx="56.10" cy="656.19" r="1.30" fill="#111"/>
<circle cx="67.22" cy="656.49" r="1.30" fill="#111"/>
<circle cx="78.33" cy="656.49" r="1.30" fill="#111"/>
<circle cx="89.44" cy="655.88" r="1.30" fill="#111"/>
<circle cx="100.56" cy="653.13" r="1.30" fill="#111"/>
<circle cx="111.68" cy="650.68" r="1.30" fill="#111"/>
<circle cx="122.79" cy="648.11" r="1.30" fill="#111"/>
<circle cx="133.91" cy="644.32" r="1.30" fill="#111"/>
<circle cx="145.02" cy="638.59" r="1.30" fill="#111"/>
<circle cx="156.13" cy="635.81" r="1.30" fill="#111"/>
<circle cx="167.25" cy="628.65" r="1.30" fill="#111"/>
<circle cx="178.37" cy="612.12" r="1.30" fill="#111"/>
<circle cx="56.10" cy="656.19" r="1.30" fill="#111"/>
<circle cx="67.22" cy="656.49" r="1.30" fill="#111"/>
<circle cx="78.33" cy="656.49" r="1.30" fill="#111"/>
<circle cx="89.44" cy="655.88" r="1.30" fill="#111"/>
<circle cx="100.56" cy="653.43" r="1.30" fill="#111"/>
<circle cx="111.68" cy="650.68" r="1.30" fill="#111"/>
<circle cx="122.79" cy="648.11" r="1.30" fill="#111"/>
<circle cx="133.91" cy="644.32" r="1.30" fill="#111"/>
<circle cx="145.02" cy="636.30" r="1.30" fill="#111"/>
<circle cx="156.13" cy="636.30" r="1.30" fill="#111"/>
<circle cx="167.25" cy="637.71" r="1.30" fill="#111"/>
<circle cx="178.37" cy="626.20" r="1.30" fill="#111"/>
<circle cx="56.10" cy="656.19" r="1.30" fill="#111"/>
<circle cx="67.22" cy="656.49" r="1.30" fill="#111"/>
<circle cx="78.33" cy="656.49" r="1.30" fill="#111"/>
<circle cx="89.44" cy="655.88" r="1.30" fill="#111"/>
<circle cx="100.56" cy="653.13" r="1.30" fill="#111"/>
<circle cx="111.68" cy="649.15" r="1.30" fill="#111"/>
<circle cx="122.79" cy="640.58" r="1.30" fill="#111"/>
<circle cx="133.91" cy="638.59" r="1.30" fill="#111"/>
<circle cx="145.02" cy="638.59" r="1.30" fill="#111"/>
<circle cx="156.13" cy="636.30" r="1.30" fill="#111"/>
<circle cx="167.25" cy="633.54" r="1.30" fill="#111"/>
<circle cx="178.37" cy="622.53" r="1.30" fill="#111"/>
<path d="M54.60,654.99L57.60,654.99L56.10,657.69Z" fill="#111"/>
<path d="M65.72,655.29L68.72,655.29L67.22,657.99Z" fill="#111"/>
<path d="M76.83,655.29L79.83,655.29L78.33,657.99Z" fill="#111"/>
<path d="M87.94,654.38L90.94,654.38L89.44,657.08Z" fill="#111"/>
<path d="M99.06,651.32L102.06,651.32L100.56,654.02Z" fill="#111"/>
<path d="M110.18,645.20L113.18,645.20L111.68,647.90Z" fill="#111"/>
<path d="M121.29,637.39L124.29,637.39L122.79,640.09Z" fill="#111"/>
<path d="M132.41,631.12L135.41,631.12L133.91,633.82Z" fill="#111"/>
<path d="M143.52,627.91L146.52,627.91L145.02,630.61Z" fill="#111"/>
<path d="M154.63,617.81L157.63,617.81L156.13,620.51Z" fill="#111"/>
<path d="M165.75,594.40L168.75,594.40L167.25,597.10Z" fill="#111"/>
<path d="M176.87,560.13L179.87,560.13L178.37,562.83Z" fill="#111"/>
<path d="M54.60,654.99L57.60,654.99L56.10,657.69Z" fill="#111"/>
<path d="M65.72,655.29L68.72,655.29L67.22,657.99Z" fill="#111"/>
<path d="M76.83,655.29L79.83,655.29L78.33,657.99Z" fill="#111"/>
<path d="M87.94,654.38L90.94,654.38L89.44,657.08Z" fill="#111"/>
<path d="M99.06,651.32L102.06,651.32L100.56,654.02Z" fill="#111"/>
<path d="M110.18,645.50L113.18,645.50L111.68,648.20Z" fill="#111"/>
<path d="M121.29,639.38L124.29,639.38L122.79,642.08Z" fill="#111"/>
<path d="M132.41,630.81L135.41,630.81L133.91,633.51Z" fill="#111"/>
<path d="M143.52,617.50L146.52,617.50L145.02,620.20Z" fill="#111"/>
<path d="M154.63,604.50L157.63,604.50L156.13,607.20Z" fill="#111"/>
<path d="M165.75,583.38L168.75,583.38L167.25,586.08Z" fill="#111"/>
<path d="M176.87,542.07L179.87,542.07L178.37,544.77Z" fill="#111"/>
<text transform="translate(9.80,587.00) rotate(-90)" font-size="6.75" text-anchor="middle">Tumour volume (mm<tspan font-size="4.3" dy="-2.4">3</tspan><tspan dy="2.4">)</tspan></text>
<text x="117.00" y="684.33" font-size="6.75" text-anchor="middle">Time (days)</text>
<line x1="37.60" y1="518.50" x2="47.00" y2="518.50" stroke="#f07a5e" stroke-width="1.0"/>
<text x="50.40" y="520.83" font-size="6.75">WT + EtBr + IgG</text>
<line x1="37.60" y1="528.50" x2="47.00" y2="528.50" stroke="#88d878" stroke-width="1.0"/>
<text x="50.40" y="530.43" font-size="6.75"><tspan font-style="italic">Ifnar1</tspan><tspan font-size="4.3" dy="-2.4">−/−</tspan><tspan dy="2.4"> </tspan>+ EtBr</text>
<line x1="37.60" y1="537.50" x2="47.00" y2="537.50" stroke="#9a2fd8" stroke-width="1.0"/>
<text x="50.40" y="539.83" font-size="6.75">WT + EtBr + anti-PD-1</text>
<line x1="37.60" y1="546.50" x2="47.00" y2="546.50" stroke="#f8c657" stroke-width="1.0"/>
<text x="50.40" y="549.33" font-size="6.75"><tspan font-style="italic">Ifnar1</tspan><tspan font-size="4.3" dy="-2.4">−/−</tspan><tspan dy="2.4"> </tspan>+ EtBr + anti-PD-1</text>
<line x1="37.60" y1="556.50" x2="47.00" y2="556.50" stroke="#f070e0" stroke-width="1.0"/>
<text x="50.40" y="558.63" font-size="6.75">WT + anti-PD-1 + STING agonist</text>
<line x1="37.60" y1="565.50" x2="47.00" y2="565.50" stroke="#4a52e8" stroke-width="1.0"/>
<text x="50.40" y="567.93" font-size="6.75">WT + EtBr + anti-PD-1 + STING agonist</text>
<text x="38.00" y="602.43" font-size="6.75">Mixed-effects model (REML)</text>
<text x="38.00" y="609.83" font-size="6.75"><tspan font-style="italic">F</tspan>(55, 627) = 6.89, <tspan font-style="italic">P</tspan> < 0.001</text>
<line x1="211.50" y1="543.20" x2="211.50" y2="625.00" stroke="#8a8a8a" stroke-width="0.7"/>
<line x1="209.50" y1="543.50" x2="212.50" y2="543.50" stroke="#8a8a8a" stroke-width="0.7"/>
<line x1="209.50" y1="625.50" x2="212.50" y2="625.50" stroke="#8a8a8a" stroke-width="0.7"/>
<line x1="196.50" y1="561.40" x2="196.50" y2="622.50" stroke="#8a8a8a" stroke-width="0.7"/>
<line x1="194.90" y1="561.50" x2="197.90" y2="561.50" stroke="#8a8a8a" stroke-width="0.7"/>
<line x1="194.90" y1="622.50" x2="197.90" y2="622.50" stroke="#8a8a8a" stroke-width="0.7"/>
<line x1="187.50" y1="611.70" x2="187.50" y2="625.00" stroke="#8a8a8a" stroke-width="0.7"/>
<line x1="186.50" y1="611.50" x2="188.90" y2="611.50" stroke="#8a8a8a" stroke-width="0.7"/>
<line x1="186.50" y1="625.50" x2="188.90" y2="625.50" stroke="#8a8a8a" stroke-width="0.7"/>
<rect x="198.30" y="579.00" width="26.00" height="7.50" fill="#fff"/>
<text x="198.70" y="585.03" font-size="6.75"><tspan font-style="italic">P</tspan> < 0.01</text>
<rect x="184.00" y="590.50" width="25.50" height="7.50" fill="#fff"/>
<text x="184.50" y="596.83" font-size="6.75"><tspan font-style="italic">P</tspan> < 0.01</text>
<rect x="183.50" y="614.30" width="9.60" height="6.80" fill="#fff"/>
<text x="183.70" y="620.13" font-size="6.75">NS</text>
<text x="258.00" y="525.42" font-size="10.6" fill="#000" font-weight="bold">i</text>
<line x1="295.30" y1="519.40" x2="295.30" y2="657.00" stroke="#b5b5b5" stroke-width="1.25"/>
<line x1="292.10" y1="657.50" x2="295.30" y2="657.50" stroke="#555" stroke-width="0.8"/>
<text x="288.50" y="659.43" font-size="6.75" text-anchor="end">0</text>
<line x1="292.10" y1="626.50" x2="295.30" y2="626.50" stroke="#555" stroke-width="0.8"/>
<text x="288.50" y="628.93" font-size="6.75" text-anchor="end">100</text>
<line x1="292.10" y1="596.50" x2="295.30" y2="596.50" stroke="#555" stroke-width="0.8"/>
<text x="288.50" y="598.43" font-size="6.75" text-anchor="end">200</text>
<line x1="292.10" y1="565.50" x2="295.30" y2="565.50" stroke="#555" stroke-width="0.8"/>
<text x="288.50" y="567.93" font-size="6.75" text-anchor="end">300</text>
<line x1="292.10" y1="535.50" x2="295.30" y2="535.50" stroke="#555" stroke-width="0.8"/>
<text x="288.50" y="537.43" font-size="6.75" text-anchor="end">400</text>
<line x1="304.00" y1="661.50" x2="442.80" y2="661.50" stroke="#555" stroke-width="0.8"/>
<line x1="314.50" y1="661.00" x2="314.50" y2="663.50" stroke="#555" stroke-width="0.8"/>
<text x="314.90" y="672.73" font-size="6.75" text-anchor="middle">3</text>
<line x1="326.50" y1="661.00" x2="326.50" y2="663.50" stroke="#555" stroke-width="0.8"/>
<text x="326.00" y="672.73" font-size="6.75" text-anchor="middle">6</text>
<line x1="337.50" y1="661.00" x2="337.50" y2="663.50" stroke="#555" stroke-width="0.8"/>
<text x="337.10" y="672.73" font-size="6.75" text-anchor="middle">9</text>
<line x1="348.50" y1="661.00" x2="348.50" y2="663.50" stroke="#555" stroke-width="0.8"/>
<text x="348.20" y="672.73" font-size="6.75" text-anchor="middle">12</text>
<line x1="359.50" y1="661.00" x2="359.50" y2="663.50" stroke="#555" stroke-width="0.8"/>
<text x="359.30" y="672.73" font-size="6.75" text-anchor="middle">15</text>
<line x1="370.50" y1="661.00" x2="370.50" y2="663.50" stroke="#555" stroke-width="0.8"/>
<text x="370.40" y="672.73" font-size="6.75" text-anchor="middle">18</text>
<line x1="381.50" y1="661.00" x2="381.50" y2="663.50" stroke="#555" stroke-width="0.8"/>
<text x="381.50" y="672.73" font-size="6.75" text-anchor="middle">21</text>
<line x1="392.50" y1="661.00" x2="392.50" y2="663.50" stroke="#555" stroke-width="0.8"/>
<text x="392.60" y="672.73" font-size="6.75" text-anchor="middle">24</text>
<line x1="403.50" y1="661.00" x2="403.50" y2="663.50" stroke="#555" stroke-width="0.8"/>
<text x="403.70" y="672.73" font-size="6.75" text-anchor="middle">27</text>
<line x1="414.50" y1="661.00" x2="414.50" y2="663.50" stroke="#555" stroke-width="0.8"/>
<text x="414.80" y="672.73" font-size="6.75" text-anchor="middle">30</text>
<line x1="425.50" y1="661.00" x2="425.50" y2="663.50" stroke="#555" stroke-width="0.8"/>
<text x="425.90" y="672.73" font-size="6.75" text-anchor="middle">33</text>
<line x1="437.50" y1="661.00" x2="437.50" y2="663.50" stroke="#555" stroke-width="0.8"/>
<text x="437.00" y="672.73" font-size="6.75" text-anchor="middle">36</text>
<line x1="348.50" y1="655.17" x2="348.50" y2="655.78" stroke="#8a8a8a" stroke-width="0.7"/>
<line x1="346.60" y1="655.50" x2="349.80" y2="655.50" stroke="#8a8a8a" stroke-width="0.7"/>
<line x1="346.60" y1="655.50" x2="349.80" y2="655.50" stroke="#8a8a8a" stroke-width="0.7"/>
<line x1="359.50" y1="650.90" x2="359.50" y2="652.73" stroke="#8a8a8a" stroke-width="0.7"/>
<line x1="357.70" y1="650.50" x2="360.90" y2="650.50" stroke="#8a8a8a" stroke-width="0.7"/>
<line x1="357.70" y1="652.50" x2="360.90" y2="652.50" stroke="#8a8a8a" stroke-width="0.7"/>
<line x1="370.50" y1="647.54" x2="370.50" y2="650.60" stroke="#8a8a8a" stroke-width="0.7"/>
<line x1="368.80" y1="647.50" x2="372.00" y2="647.50" stroke="#8a8a8a" stroke-width="0.7"/>
<line x1="368.80" y1="650.50" x2="372.00" y2="650.50" stroke="#8a8a8a" stroke-width="0.7"/>
<line x1="381.50" y1="639.77" x2="381.50" y2="644.65" stroke="#8a8a8a" stroke-width="0.7"/>
<line x1="379.90" y1="639.50" x2="383.10" y2="639.50" stroke="#8a8a8a" stroke-width="0.7"/>
<line x1="379.90" y1="644.50" x2="383.10" y2="644.50" stroke="#8a8a8a" stroke-width="0.7"/>
<line x1="392.50" y1="632.29" x2="392.50" y2="639.62" stroke="#8a8a8a" stroke-width="0.7"/>
<line x1="391.00" y1="632.50" x2="394.20" y2="632.50" stroke="#8a8a8a" stroke-width="0.7"/>
<line x1="391.00" y1="639.50" x2="394.20" y2="639.50" stroke="#8a8a8a" stroke-width="0.7"/>
<line x1="403.50" y1="614.00" x2="403.50" y2="629.25" stroke="#8a8a8a" stroke-width="0.7"/>
<line x1="402.10" y1="613.50" x2="405.30" y2="613.50" stroke="#8a8a8a" stroke-width="0.7"/>
<line x1="402.10" y1="629.50" x2="405.30" y2="629.50" stroke="#8a8a8a" stroke-width="0.7"/>
<line x1="414.50" y1="599.75" x2="414.50" y2="622.75" stroke="#8a8a8a" stroke-width="0.7"/>
<line x1="413.20" y1="599.50" x2="416.40" y2="599.50" stroke="#8a8a8a" stroke-width="0.7"/>
<line x1="413.20" y1="622.50" x2="416.40" y2="622.50" stroke="#8a8a8a" stroke-width="0.7"/>
<line x1="425.50" y1="558.79" x2="425.50" y2="602.10" stroke="#8a8a8a" stroke-width="0.7"/>
<line x1="424.30" y1="558.50" x2="427.50" y2="558.50" stroke="#8a8a8a" stroke-width="0.7"/>
<line x1="424.30" y1="602.50" x2="427.50" y2="602.50" stroke="#8a8a8a" stroke-width="0.7"/>
<line x1="437.50" y1="525.24" x2="437.50" y2="586.24" stroke="#8a8a8a" stroke-width="0.7"/>
<line x1="435.40" y1="525.50" x2="438.60" y2="525.50" stroke="#8a8a8a" stroke-width="0.7"/>
<line x1="435.40" y1="586.50" x2="438.60" y2="586.50" stroke="#8a8a8a" stroke-width="0.7"/>
<line x1="348.50" y1="655.48" x2="348.50" y2="656.09" stroke="#8a8a8a" stroke-width="0.7"/>
<line x1="346.60" y1="655.50" x2="349.80" y2="655.50" stroke="#8a8a8a" stroke-width="0.7"/>
<line x1="346.60" y1="656.50" x2="349.80" y2="656.50" stroke="#8a8a8a" stroke-width="0.7"/>
<line x1="359.50" y1="652.12" x2="359.50" y2="653.34" stroke="#8a8a8a" stroke-width="0.7"/>
<line x1="357.70" y1="652.50" x2="360.90" y2="652.50" stroke="#8a8a8a" stroke-width="0.7"/>
<line x1="357.70" y1="653.50" x2="360.90" y2="653.50" stroke="#8a8a8a" stroke-width="0.7"/>
<line x1="370.50" y1="648.46" x2="370.50" y2="650.90" stroke="#8a8a8a" stroke-width="0.7"/>
<line x1="368.80" y1="648.50" x2="372.00" y2="648.50" stroke="#8a8a8a" stroke-width="0.7"/>
<line x1="368.80" y1="650.50" x2="372.00" y2="650.50" stroke="#8a8a8a" stroke-width="0.7"/>
<line x1="381.50" y1="642.36" x2="381.50" y2="646.02" stroke="#8a8a8a" stroke-width="0.7"/>
<line x1="379.90" y1="642.50" x2="383.10" y2="642.50" stroke="#8a8a8a" stroke-width="0.7"/>
<line x1="379.90" y1="646.50" x2="383.10" y2="646.50" stroke="#8a8a8a" stroke-width="0.7"/>
<line x1="392.50" y1="637.48" x2="392.50" y2="643.58" stroke="#8a8a8a" stroke-width="0.7"/>
<line x1="391.00" y1="637.50" x2="394.20" y2="637.50" stroke="#8a8a8a" stroke-width="0.7"/>
<line x1="391.00" y1="643.50" x2="394.20" y2="643.50" stroke="#8a8a8a" stroke-width="0.7"/>
<line x1="403.50" y1="626.62" x2="403.50" y2="635.16" stroke="#8a8a8a" stroke-width="0.7"/>
<line x1="402.10" y1="626.50" x2="405.30" y2="626.50" stroke="#8a8a8a" stroke-width="0.7"/>
<line x1="402.10" y1="635.50" x2="405.30" y2="635.50" stroke="#8a8a8a" stroke-width="0.7"/>
<line x1="414.50" y1="624.67" x2="414.50" y2="633.82" stroke="#8a8a8a" stroke-width="0.7"/>
<line x1="413.20" y1="624.50" x2="416.40" y2="624.50" stroke="#8a8a8a" stroke-width="0.7"/>
<line x1="413.20" y1="633.50" x2="416.40" y2="633.50" stroke="#8a8a8a" stroke-width="0.7"/>
<line x1="425.50" y1="616.13" x2="425.50" y2="628.33" stroke="#8a8a8a" stroke-width="0.7"/>
<line x1="424.30" y1="616.50" x2="427.50" y2="616.50" stroke="#8a8a8a" stroke-width="0.7"/>
<line x1="424.30" y1="628.50" x2="427.50" y2="628.50" stroke="#8a8a8a" stroke-width="0.7"/>
<line x1="437.50" y1="588.07" x2="437.50" y2="617.35" stroke="#8a8a8a" stroke-width="0.7"/>
<line x1="435.40" y1="588.50" x2="438.60" y2="588.50" stroke="#8a8a8a" stroke-width="0.7"/>
<line x1="435.40" y1="617.50" x2="438.60" y2="617.50" stroke="#8a8a8a" stroke-width="0.7"/>
<line x1="348.50" y1="655.48" x2="348.50" y2="656.09" stroke="#8a8a8a" stroke-width="0.7"/>
<line x1="346.60" y1="655.50" x2="349.80" y2="655.50" stroke="#8a8a8a" stroke-width="0.7"/>
<line x1="346.60" y1="656.50" x2="349.80" y2="656.50" stroke="#8a8a8a" stroke-width="0.7"/>
<line x1="359.50" y1="652.73" x2="359.50" y2="653.95" stroke="#8a8a8a" stroke-width="0.7"/>
<line x1="357.70" y1="652.50" x2="360.90" y2="652.50" stroke="#8a8a8a" stroke-width="0.7"/>
<line x1="357.70" y1="653.50" x2="360.90" y2="653.50" stroke="#8a8a8a" stroke-width="0.7"/>
<line x1="370.50" y1="649.07" x2="370.50" y2="651.51" stroke="#8a8a8a" stroke-width="0.7"/>
<line x1="368.80" y1="649.50" x2="372.00" y2="649.50" stroke="#8a8a8a" stroke-width="0.7"/>
<line x1="368.80" y1="651.50" x2="372.00" y2="651.50" stroke="#8a8a8a" stroke-width="0.7"/>
<line x1="381.50" y1="643.88" x2="381.50" y2="646.93" stroke="#8a8a8a" stroke-width="0.7"/>
<line x1="379.90" y1="643.50" x2="383.10" y2="643.50" stroke="#8a8a8a" stroke-width="0.7"/>
<line x1="379.90" y1="646.50" x2="383.10" y2="646.50" stroke="#8a8a8a" stroke-width="0.7"/>
<line x1="392.50" y1="640.53" x2="392.50" y2="645.41" stroke="#8a8a8a" stroke-width="0.7"/>
<line x1="391.00" y1="640.50" x2="394.20" y2="640.50" stroke="#8a8a8a" stroke-width="0.7"/>
<line x1="391.00" y1="645.50" x2="394.20" y2="645.50" stroke="#8a8a8a" stroke-width="0.7"/>
<line x1="403.50" y1="635.65" x2="403.50" y2="641.75" stroke="#8a8a8a" stroke-width="0.7"/>
<line x1="402.10" y1="635.50" x2="405.30" y2="635.50" stroke="#8a8a8a" stroke-width="0.7"/>
<line x1="402.10" y1="641.50" x2="405.30" y2="641.50" stroke="#8a8a8a" stroke-width="0.7"/>
<line x1="414.50" y1="634.12" x2="414.50" y2="640.23" stroke="#8a8a8a" stroke-width="0.7"/>
<line x1="413.20" y1="634.50" x2="416.40" y2="634.50" stroke="#8a8a8a" stroke-width="0.7"/>
<line x1="413.20" y1="640.50" x2="416.40" y2="640.50" stroke="#8a8a8a" stroke-width="0.7"/>
<line x1="425.50" y1="623.14" x2="425.50" y2="631.68" stroke="#8a8a8a" stroke-width="0.7"/>
<line x1="424.30" y1="623.50" x2="427.50" y2="623.50" stroke="#8a8a8a" stroke-width="0.7"/>
<line x1="424.30" y1="631.50" x2="427.50" y2="631.50" stroke="#8a8a8a" stroke-width="0.7"/>
<line x1="437.50" y1="609.73" x2="437.50" y2="624.98" stroke="#8a8a8a" stroke-width="0.7"/>
<line x1="435.40" y1="609.50" x2="438.60" y2="609.50" stroke="#8a8a8a" stroke-width="0.7"/>
<line x1="435.40" y1="624.50" x2="438.60" y2="624.50" stroke="#8a8a8a" stroke-width="0.7"/>
<line x1="348.50" y1="655.48" x2="348.50" y2="656.09" stroke="#8a8a8a" stroke-width="0.7"/>
<line x1="346.60" y1="655.50" x2="349.80" y2="655.50" stroke="#8a8a8a" stroke-width="0.7"/>
<line x1="346.60" y1="656.50" x2="349.80" y2="656.50" stroke="#8a8a8a" stroke-width="0.7"/>
<line x1="359.50" y1="653.03" x2="359.50" y2="654.25" stroke="#8a8a8a" stroke-width="0.7"/>
<line x1="357.70" y1="653.50" x2="360.90" y2="653.50" stroke="#8a8a8a" stroke-width="0.7"/>
<line x1="357.70" y1="654.50" x2="360.90" y2="654.50" stroke="#8a8a8a" stroke-width="0.7"/>
<line x1="370.50" y1="649.68" x2="370.50" y2="652.12" stroke="#8a8a8a" stroke-width="0.7"/>
<line x1="368.80" y1="649.50" x2="372.00" y2="649.50" stroke="#8a8a8a" stroke-width="0.7"/>
<line x1="368.80" y1="652.50" x2="372.00" y2="652.50" stroke="#8a8a8a" stroke-width="0.7"/>
<line x1="381.50" y1="645.72" x2="381.50" y2="648.76" stroke="#8a8a8a" stroke-width="0.7"/>
<line x1="379.90" y1="645.50" x2="383.10" y2="645.50" stroke="#8a8a8a" stroke-width="0.7"/>
<line x1="379.90" y1="648.50" x2="383.10" y2="648.50" stroke="#8a8a8a" stroke-width="0.7"/>
<line x1="392.50" y1="642.66" x2="392.50" y2="647.54" stroke="#8a8a8a" stroke-width="0.7"/>
<line x1="391.00" y1="642.50" x2="394.20" y2="642.50" stroke="#8a8a8a" stroke-width="0.7"/>
<line x1="391.00" y1="647.50" x2="394.20" y2="647.50" stroke="#8a8a8a" stroke-width="0.7"/>
<line x1="403.50" y1="637.48" x2="403.50" y2="643.58" stroke="#8a8a8a" stroke-width="0.7"/>
<line x1="402.10" y1="637.50" x2="405.30" y2="637.50" stroke="#8a8a8a" stroke-width="0.7"/>
<line x1="402.10" y1="643.50" x2="405.30" y2="643.50" stroke="#8a8a8a" stroke-width="0.7"/>
<line x1="414.50" y1="635.65" x2="414.50" y2="641.75" stroke="#8a8a8a" stroke-width="0.7"/>
<line x1="413.20" y1="635.50" x2="416.40" y2="635.50" stroke="#8a8a8a" stroke-width="0.7"/>
<line x1="413.20" y1="641.50" x2="416.40" y2="641.50" stroke="#8a8a8a" stroke-width="0.7"/>
<line x1="425.50" y1="632.14" x2="425.50" y2="640.68" stroke="#8a8a8a" stroke-width="0.7"/>
<line x1="424.30" y1="632.50" x2="427.50" y2="632.50" stroke="#8a8a8a" stroke-width="0.7"/>
<line x1="424.30" y1="640.50" x2="427.50" y2="640.50" stroke="#8a8a8a" stroke-width="0.7"/>
<line x1="437.50" y1="618.26" x2="437.50" y2="633.51" stroke="#8a8a8a" stroke-width="0.7"/>
<line x1="435.40" y1="618.50" x2="438.60" y2="618.50" stroke="#8a8a8a" stroke-width="0.7"/>
<line x1="435.40" y1="633.50" x2="438.60" y2="633.50" stroke="#8a8a8a" stroke-width="0.7"/>
<polyline points="314.90,656.09 326.00,656.39 337.10,656.09 348.20,655.48 359.30,651.82 370.40,649.07 381.50,642.21 392.60,635.96 403.70,621.62 414.80,611.25 425.90,580.45 437.00,555.74" fill="none" stroke="#e2336e" stroke-width="1.25" stroke-linejoin="round"/>
<polyline points="314.90,656.09 326.00,656.39 337.10,656.09 348.20,655.78 359.30,652.73 370.40,649.68 381.50,644.19 392.60,640.53 403.70,630.89 414.80,629.25 425.90,622.23 437.00,602.71" fill="none" stroke="#f2e23a" stroke-width="1.25" stroke-linejoin="round"/>
<polyline points="314.90,656.09 326.00,656.39 337.10,656.09 348.20,655.78 359.30,653.34 370.40,650.29 381.50,645.41 392.60,642.97 403.70,638.70 414.80,637.17 425.90,627.41 437.00,617.35" fill="none" stroke="#3a90e0" stroke-width="1.25" stroke-linejoin="round"/>
<polyline points="314.90,656.09 326.00,656.39 337.10,656.09 348.20,655.78 359.30,653.64 370.40,650.90 381.50,647.24 392.60,645.11 403.70,640.53 414.80,638.70 425.90,636.41 437.00,625.89" fill="none" stroke="#2fd6a0" stroke-width="1.25" stroke-linejoin="round"/>
<circle cx="314.90" cy="656.09" r="1.30" fill="#111"/>
<circle cx="326.00" cy="656.39" r="1.30" fill="#111"/>
<circle cx="337.10" cy="656.09" r="1.30" fill="#111"/>
<circle cx="348.20" cy="655.48" r="1.30" fill="#111"/>
<circle cx="359.30" cy="651.82" r="1.30" fill="#111"/>
<circle cx="370.40" cy="649.07" r="1.30" fill="#111"/>
<circle cx="381.50" cy="642.21" r="1.30" fill="#111"/>
<circle cx="392.60" cy="635.96" r="1.30" fill="#111"/>
<circle cx="403.70" cy="621.62" r="1.30" fill="#111"/>
<circle cx="414.80" cy="611.25" r="1.30" fill="#111"/>
<circle cx="425.90" cy="580.45" r="1.30" fill="#111"/>
<circle cx="437.00" cy="555.74" r="1.30" fill="#111"/>
<rect x="313.70" y="654.88" width="2.40" height="2.40" fill="#111"/>
<rect x="324.80" y="655.19" width="2.40" height="2.40" fill="#111"/>
<rect x="335.90" y="654.88" width="2.40" height="2.40" fill="#111"/>
<rect x="347.00" y="654.58" width="2.40" height="2.40" fill="#111"/>
<rect x="358.10" y="651.53" width="2.40" height="2.40" fill="#111"/>
<rect x="369.20" y="648.48" width="2.40" height="2.40" fill="#111"/>
<rect x="380.30" y="642.99" width="2.40" height="2.40" fill="#111"/>
<rect x="391.40" y="639.33" width="2.40" height="2.40" fill="#111"/>
<rect x="402.50" y="629.69" width="2.40" height="2.40" fill="#111"/>
<rect x="413.60" y="628.04" width="2.40" height="2.40" fill="#111"/>
<rect x="424.70" y="621.03" width="2.40" height="2.40" fill="#111"/>
<rect x="435.80" y="601.51" width="2.40" height="2.40" fill="#111"/>
<circle cx="314.90" cy="656.09" r="1.30" fill="#111"/>
<circle cx="326.00" cy="656.39" r="1.30" fill="#111"/>
<circle cx="337.10" cy="656.09" r="1.30" fill="#111"/>
<circle cx="348.20" cy="655.78" r="1.30" fill="#111"/>
<circle cx="359.30" cy="653.34" r="1.30" fill="#111"/>
<circle cx="370.40" cy="650.29" r="1.30" fill="#111"/>
<circle cx="381.50" cy="645.41" r="1.30" fill="#111"/>
<circle cx="392.60" cy="642.97" r="1.30" fill="#111"/>
<circle cx="403.70" cy="638.70" r="1.30" fill="#111"/>
<circle cx="414.80" cy="637.17" r="1.30" fill="#111"/>
<circle cx="425.90" cy="627.41" r="1.30" fill="#111"/>
<circle cx="437.00" cy="617.35" r="1.30" fill="#111"/>
<rect x="313.70" y="654.88" width="2.40" height="2.40" fill="#111"/>
<rect x="324.80" y="655.19" width="2.40" height="2.40" fill="#111"/>
<rect x="335.90" y="654.88" width="2.40" height="2.40" fill="#111"/>
<rect x="347.00" y="654.58" width="2.40" height="2.40" fill="#111"/>
<rect x="358.10" y="652.44" width="2.40" height="2.40" fill="#111"/>
<rect x="369.20" y="649.70" width="2.40" height="2.40" fill="#111"/>
<rect x="380.30" y="646.04" width="2.40" height="2.40" fill="#111"/>
<rect x="391.40" y="643.90" width="2.40" height="2.40" fill="#111"/>
<rect x="402.50" y="639.33" width="2.40" height="2.40" fill="#111"/>
<rect x="413.60" y="637.50" width="2.40" height="2.40" fill="#111"/>
<rect x="424.70" y="635.21" width="2.40" height="2.40" fill="#111"/>
<rect x="435.80" y="624.69" width="2.40" height="2.40" fill="#111"/>
<text transform="translate(268.80,588.00) rotate(-90)" font-size="6.75" text-anchor="middle">Tumour volume (mm<tspan font-size="4.3" dy="-2.4">3</tspan><tspan dy="2.4">)</tspan></text>
<text x="375.30" y="684.33" font-size="6.75" text-anchor="middle">Time (days)</text>
<line x1="297.00" y1="535.50" x2="309.00" y2="535.50" stroke="#e2336e" stroke-width="1.0"/>
<text x="312.50" y="537.63" font-size="6.75">WT + IgG</text>
<line x1="297.00" y1="544.50" x2="309.00" y2="544.50" stroke="#f2e23a" stroke-width="1.0"/>
<text x="312.50" y="547.03" font-size="6.75"><tspan font-style="italic">Ifnar1</tspan><tspan font-size="4.3" dy="-2.4">−/−</tspan><tspan dy="2.4"> </tspan>+ IgG</text>
<line x1="297.00" y1="554.50" x2="309.00" y2="554.50" stroke="#3a90e0" stroke-width="1.0"/>
<text x="312.50" y="556.43" font-size="6.75">WT + anti-PD-1</text>
<line x1="297.00" y1="563.50" x2="309.00" y2="563.50" stroke="#2fd6a0" stroke-width="1.0"/>
<text x="312.50" y="565.73" font-size="6.75"><tspan font-style="italic">Ifnar1</tspan><tspan font-size="4.3" dy="-2.4">−/−</tspan><tspan dy="2.4"> </tspan>+ anti-PD-1</text>
<text x="297.00" y="584.93" font-size="6.75">Mixed-effects model (REML)</text>
<text x="297.00" y="592.43" font-size="6.75"><tspan font-style="italic">F</tspan>(33, 394) = 3.73, <tspan font-style="italic">P</tspan> < 0.001</text>
<line x1="451.50" y1="556.50" x2="451.50" y2="602.80" stroke="#8a8a8a" stroke-width="0.7"/>
<line x1="450.00" y1="556.50" x2="452.80" y2="556.50" stroke="#8a8a8a" stroke-width="0.7"/>
<line x1="450.00" y1="602.50" x2="452.80" y2="602.50" stroke="#8a8a8a" stroke-width="0.7"/>
<line x1="451.50" y1="616.50" x2="451.50" y2="626.80" stroke="#8a8a8a" stroke-width="0.7"/>
<line x1="450.20" y1="616.50" x2="452.60" y2="616.50" stroke="#8a8a8a" stroke-width="0.7"/>
<line x1="450.20" y1="626.50" x2="452.60" y2="626.50" stroke="#8a8a8a" stroke-width="0.7"/>
<rect x="438.00" y="574.30" width="24.00" height="7.50" fill="#fff"/>
<text x="438.40" y="580.43" font-size="6.75"><tspan font-style="italic">P</tspan> < 0.01</text>
<rect x="446.80" y="617.80" width="9.50" height="6.50" fill="#fff"/>
<text x="447.00" y="623.43" font-size="6.75">NS</text>
<text x="515.00" y="527.22" font-size="10.6" fill="#000" font-weight="bold">j</text>
<line x1="544.50" y1="536.50" x2="544.50" y2="616.00" stroke="#555" stroke-width="0.8"/>
<line x1="541.10" y1="615.50" x2="544.10" y2="615.50" stroke="#555" stroke-width="0.8"/>
<text x="536.80" y="618.13" font-size="6.75" text-anchor="end">0</text>
<line x1="541.10" y1="595.50" x2="544.10" y2="595.50" stroke="#555" stroke-width="0.8"/>
<text x="536.80" y="598.33" font-size="6.75" text-anchor="end">25</text>
<line x1="541.10" y1="576.50" x2="544.10" y2="576.50" stroke="#555" stroke-width="0.8"/>
<text x="536.80" y="578.53" font-size="6.75" text-anchor="end">50</text>
<line x1="541.10" y1="556.50" x2="544.10" y2="556.50" stroke="#555" stroke-width="0.8"/>
<text x="536.80" y="558.73" font-size="6.75" text-anchor="end">75</text>
<line x1="541.10" y1="536.50" x2="544.10" y2="536.50" stroke="#555" stroke-width="0.8"/>
<text x="536.80" y="538.93" font-size="6.75" text-anchor="end">100</text>
<line x1="542.20" y1="605.50" x2="544.10" y2="605.50" stroke="#555" stroke-width="0.8"/>
<line x1="542.20" y1="586.50" x2="544.10" y2="586.50" stroke="#555" stroke-width="0.8"/>
<line x1="542.20" y1="566.50" x2="544.10" y2="566.50" stroke="#555" stroke-width="0.8"/>
<line x1="542.20" y1="546.50" x2="544.10" y2="546.50" stroke="#555" stroke-width="0.8"/>
<text transform="translate(521.6,580.0) rotate(-90)" font-size="6.75" text-anchor="middle">Tumour viability (%)</text>
<rect x="550.20" y="536.50" width="12.30" height="79.20" fill="#d81b5c"/>
<rect x="563.35" y="536.50" width="12.30" height="79.20" fill="#fde214"/>
<rect x="576.50" y="568.18" width="12.30" height="47.52" fill="#2f8fd6"/>
<rect x="589.65" y="536.50" width="12.30" height="79.20" fill="#2ed88e"/>
<rect x="602.80" y="536.50" width="12.30" height="79.20" fill="#d97a70"/>
<rect x="615.95" y="536.50" width="12.30" height="79.20" fill="#9bd394"/>
<rect x="629.10" y="536.50" width="12.30" height="79.20" fill="#9541c2"/>
<rect x="642.25" y="543.63" width="12.30" height="72.07" fill="#fbc574"/>
<rect x="655.40" y="570.56" width="12.30" height="45.14" fill="#f78ae0"/>
<rect x="668.55" y="536.50" width="12.30" height="79.20" fill="#5a57d8"/>
<line x1="582.50" y1="568.18" x2="582.50" y2="555.51" stroke="#333" stroke-width="0.7"/>
<line x1="579.05" y1="555.50" x2="586.25" y2="555.50" stroke="#333" stroke-width="0.7"/>
<line x1="661.50" y1="570.56" x2="661.50" y2="558.68" stroke="#333" stroke-width="0.7"/>
<line x1="657.95" y1="558.50" x2="665.15" y2="558.50" stroke="#333" stroke-width="0.7"/>
<line x1="648.50" y1="543.63" x2="648.50" y2="538.08" stroke="#333" stroke-width="0.7"/>
<line x1="644.80" y1="538.50" x2="652.00" y2="538.50" stroke="#333" stroke-width="0.7"/>
<line x1="553.75" y1="536.60" x2="558.95" y2="536.60" stroke="#111" stroke-width="1.4"/>
<line x1="566.90" y1="536.60" x2="572.10" y2="536.60" stroke="#111" stroke-width="1.4"/>
<line x1="577.85" y1="536.60" x2="580.45" y2="536.60" stroke="#111" stroke-width="1.2"/>
<line x1="584.85" y1="536.60" x2="587.45" y2="536.60" stroke="#111" stroke-width="1.2"/>
<line x1="593.20" y1="536.60" x2="598.40" y2="536.60" stroke="#111" stroke-width="1.4"/>
<line x1="606.35" y1="536.60" x2="611.55" y2="536.60" stroke="#111" stroke-width="1.4"/>
<line x1="619.50" y1="536.60" x2="624.70" y2="536.60" stroke="#111" stroke-width="1.4"/>
<line x1="632.65" y1="536.60" x2="637.85" y2="536.60" stroke="#111" stroke-width="1.4"/>
<line x1="643.60" y1="536.60" x2="646.20" y2="536.60" stroke="#111" stroke-width="1.2"/>
<line x1="650.60" y1="536.60" x2="653.20" y2="536.60" stroke="#111" stroke-width="1.2"/>
<line x1="656.75" y1="536.60" x2="659.35" y2="536.60" stroke="#111" stroke-width="1.2"/>
<line x1="663.75" y1="536.60" x2="666.35" y2="536.60" stroke="#111" stroke-width="1.2"/>
<line x1="672.10" y1="536.60" x2="677.30" y2="536.60" stroke="#111" stroke-width="1.4"/>
<circle cx="582.65" cy="541.50" r="0.60" fill="#222"/>
<circle cx="661.55" cy="544.40" r="0.60" fill="#222"/>
<circle cx="661.55" cy="552.30" r="0.60" fill="#222"/>
<circle cx="648.40" cy="541.00" r="0.60" fill="#222"/>
<circle cx="648.40" cy="544.50" r="0.60" fill="#222"/>
<line x1="580.15" y1="615.50" x2="585.15" y2="615.50" stroke="#111" stroke-width="1.1"/>
<line x1="659.05" y1="615.50" x2="664.05" y2="615.50" stroke="#111" stroke-width="1.1"/>
<circle cx="648.40" cy="615.60" r="0.60" fill="#222"/>
<line x1="548.40" y1="619.50" x2="683.00" y2="619.50" stroke="#555" stroke-width="0.8"/>
<line x1="582.60" y1="523.50" x2="616.40" y2="523.50" stroke="#444" stroke-width="0.7"/>
<line x1="628.60" y1="523.50" x2="662.00" y2="523.50" stroke="#444" stroke-width="0.7"/>
<text x="622.40" y="525.53" font-size="6.75" text-anchor="middle">NS</text>
<line x1="582.60" y1="531.50" x2="593.80" y2="531.50" stroke="#444" stroke-width="0.7"/>
<line x1="624.40" y1="531.50" x2="635.50" y2="531.50" stroke="#444" stroke-width="0.7"/>
<text x="609.00" y="534.23" font-size="6.75" text-anchor="middle"><tspan font-style="italic">P</tspan> = 0.005</text>
<line x1="635.50" y1="531.50" x2="648.90" y2="531.50" stroke="#999" stroke-width="0.8"/>
<text x="642.00" y="530.03" font-size="6.75" text-anchor="middle">NS</text>
<text transform="translate(561.75,627.0) rotate(-45)" font-size="6.9" text-anchor="end">WT + IgG</text>
<text transform="translate(574.90,627.0) rotate(-45)" font-size="6.9" text-anchor="end"><tspan font-style="italic">Ifnar1</tspan><tspan font-size="4.3" dy="-2.4">−/−</tspan><tspan dy="2.4"> </tspan>+ IgG</text>
<text transform="translate(588.05,627.0) rotate(-45)" font-size="6.9" text-anchor="end">WT + anti-PD-1</text>
<text transform="translate(601.20,627.0) rotate(-45)" font-size="6.9" text-anchor="end"><tspan font-style="italic">Ifnar1</tspan><tspan font-size="4.3" dy="-2.4">−/−</tspan><tspan dy="2.4"> </tspan>+ anti-PD-1</text>
<text transform="translate(614.35,627.0) rotate(-45)" font-size="6.9" text-anchor="end">WT + EtBr + IgG</text>
<text transform="translate(627.50,627.0) rotate(-45)" font-size="6.9" text-anchor="end"><tspan font-style="italic">Ifnar1</tspan><tspan font-size="4.3" dy="-2.4">−/−</tspan><tspan dy="2.4"> </tspan>+ EtBr</text>
<text transform="translate(640.65,627.0) rotate(-45)" font-size="6.9" text-anchor="end">WT + EtBr + anti-PD-1</text>
<text transform="translate(653.80,627.0) rotate(-45)" font-size="6.9" text-anchor="end"><tspan font-style="italic">Ifnar1</tspan><tspan font-size="4.3" dy="-2.4">−/−</tspan><tspan dy="2.4"> </tspan>+ EtBr + anti-PD-1</text>
<text transform="translate(666.95,627.0) rotate(-45)" font-size="6.9" text-anchor="end">WT + anti-PD-1 + STING agonist</text>
<text transform="translate(680.10,627.0) rotate(-45)" font-size="6.9" text-anchor="end">WT + EtBr + anti-PD-1</text>
<text transform="translate(680.10,627.0) rotate(-45)" font-size="6.9" text-anchor="end"><tspan x="0" dy="7.6">+ STING agonist</tspan></text>
<text x="571.00" y="708.92" font-size="10.6" fill="#000" font-weight="bold">m</text>
<line x1="599.50" y1="721.40" x2="599.50" y2="800.00" stroke="#555" stroke-width="0.8"/>
<line x1="595.30" y1="799.50" x2="599.80" y2="799.50" stroke="#555" stroke-width="0.8"/>
<text x="591.30" y="802.13" font-size="6.75" text-anchor="end">0</text>
<line x1="595.30" y1="780.50" x2="599.80" y2="780.50" stroke="#555" stroke-width="0.8"/>
<text x="591.30" y="782.71" font-size="6.75" text-anchor="end">25</text>
<line x1="595.30" y1="760.50" x2="599.80" y2="760.50" stroke="#555" stroke-width="0.8"/>
<text x="591.30" y="763.28" font-size="6.75" text-anchor="end">50</text>
<line x1="595.30" y1="741.50" x2="599.80" y2="741.50" stroke="#555" stroke-width="0.8"/>
<text x="591.30" y="743.86" font-size="6.75" text-anchor="end">75</text>
<line x1="595.30" y1="722.50" x2="599.80" y2="722.50" stroke="#555" stroke-width="0.8"/>
<text x="591.30" y="724.43" font-size="6.75" text-anchor="end">100</text>
<line x1="597.30" y1="789.50" x2="599.80" y2="789.50" stroke="#555" stroke-width="0.8"/>
<line x1="597.30" y1="770.50" x2="599.80" y2="770.50" stroke="#555" stroke-width="0.8"/>
<line x1="597.30" y1="751.50" x2="599.80" y2="751.50" stroke="#555" stroke-width="0.8"/>
<line x1="597.30" y1="731.50" x2="599.80" y2="731.50" stroke="#555" stroke-width="0.8"/>
<text transform="translate(575.6,760.6) rotate(-90)" font-size="6.75" text-anchor="middle">Tumour viability (%)</text>
<rect x="604.70" y="732.10" width="12.20" height="67.60" fill="#c27abb"/>
<line x1="610.50" y1="732.10" x2="610.50" y2="729.77" stroke="#222" stroke-width="0.7"/>
<line x1="607.80" y1="729.50" x2="613.80" y2="729.50" stroke="#222" stroke-width="0.7"/>
<rect x="617.80" y="746.86" width="12.20" height="52.84" fill="#52c9c9"/>
<line x1="623.50" y1="746.86" x2="623.50" y2="743.76" stroke="#222" stroke-width="0.7"/>
<line x1="620.90" y1="743.50" x2="626.90" y2="743.50" stroke="#222" stroke-width="0.7"/>
<rect x="630.90" y="746.86" width="12.20" height="52.84" fill="#fbc574"/>
<line x1="637.50" y1="746.86" x2="637.50" y2="743.76" stroke="#222" stroke-width="0.7"/>
<line x1="634.00" y1="743.50" x2="640.00" y2="743.50" stroke="#222" stroke-width="0.7"/>
<rect x="644.00" y="741.43" width="12.20" height="58.27" fill="#6a1b5c"/>
<line x1="650.50" y1="741.43" x2="650.50" y2="739.09" stroke="#222" stroke-width="0.7"/>
<line x1="647.10" y1="739.50" x2="653.10" y2="739.50" stroke="#222" stroke-width="0.7"/>
<rect x="657.10" y="735.99" width="12.20" height="63.71" fill="#0f7170"/>
<line x1="663.50" y1="735.99" x2="663.50" y2="733.66" stroke="#222" stroke-width="0.7"/>
<line x1="660.20" y1="733.50" x2="666.20" y2="733.50" stroke="#222" stroke-width="0.7"/>
<rect x="670.20" y="757.74" width="12.20" height="41.96" fill="#a2682a"/>
<line x1="676.50" y1="757.74" x2="676.50" y2="752.30" stroke="#222" stroke-width="0.7"/>
<line x1="673.30" y1="752.50" x2="679.30" y2="752.50" stroke="#222" stroke-width="0.7"/>
<circle cx="608.30" cy="722.00" r="0.65" fill="#111"/>
<circle cx="610.80" cy="724.33" r="0.65" fill="#111"/>
<circle cx="613.30" cy="725.88" r="0.65" fill="#111"/>
<circle cx="608.30" cy="727.44" r="0.65" fill="#111"/>
<circle cx="610.80" cy="729.77" r="0.65" fill="#111"/>
<circle cx="613.30" cy="731.32" r="0.65" fill="#111"/>
<circle cx="608.30" cy="733.66" r="0.65" fill="#111"/>
<circle cx="610.80" cy="735.99" r="0.65" fill="#111"/>
<circle cx="613.30" cy="737.54" r="0.65" fill="#111"/>
<circle cx="608.30" cy="741.43" r="0.65" fill="#111"/>
<circle cx="610.80" cy="741.43" r="0.65" fill="#111"/>
<circle cx="613.30" cy="745.31" r="0.65" fill="#111"/>
<circle cx="608.30" cy="745.31" r="0.65" fill="#111"/>
<circle cx="621.40" cy="733.66" r="0.65" fill="#111"/>
<circle cx="623.90" cy="733.66" r="0.65" fill="#111"/>
<circle cx="626.40" cy="737.54" r="0.65" fill="#111"/>
<circle cx="621.40" cy="741.43" r="0.65" fill="#111"/>
<circle cx="623.90" cy="745.31" r="0.65" fill="#111"/>
<circle cx="626.40" cy="745.31" r="0.65" fill="#111"/>
<circle cx="621.40" cy="749.20" r="0.65" fill="#111"/>
<circle cx="623.90" cy="753.08" r="0.65" fill="#111"/>
<circle cx="626.40" cy="760.85" r="0.65" fill="#111"/>
<circle cx="621.40" cy="780.28" r="0.65" fill="#111"/>
<circle cx="634.50" cy="724.33" r="0.65" fill="#111"/>
<circle cx="637.00" cy="728.22" r="0.65" fill="#111"/>
<circle cx="639.50" cy="733.66" r="0.65" fill="#111"/>
<circle cx="634.50" cy="733.66" r="0.65" fill="#111"/>
<circle cx="637.00" cy="737.54" r="0.65" fill="#111"/>
<circle cx="639.50" cy="741.43" r="0.65" fill="#111"/>
<circle cx="634.50" cy="749.20" r="0.65" fill="#111"/>
<circle cx="637.00" cy="753.08" r="0.65" fill="#111"/>
<circle cx="639.50" cy="760.85" r="0.65" fill="#111"/>
<circle cx="634.50" cy="760.85" r="0.65" fill="#111"/>
<circle cx="637.00" cy="764.74" r="0.65" fill="#111"/>
<circle cx="639.50" cy="772.50" r="0.65" fill="#111"/>
<circle cx="647.60" cy="725.88" r="0.65" fill="#111"/>
<circle cx="650.10" cy="729.77" r="0.65" fill="#111"/>
<circle cx="652.60" cy="733.66" r="0.65" fill="#111"/>
<circle cx="647.60" cy="737.54" r="0.65" fill="#111"/>
<circle cx="650.10" cy="737.54" r="0.65" fill="#111"/>
<circle cx="652.60" cy="741.43" r="0.65" fill="#111"/>
<circle cx="647.60" cy="745.31" r="0.65" fill="#111"/>
<circle cx="650.10" cy="753.08" r="0.65" fill="#111"/>
<circle cx="652.60" cy="776.39" r="0.65" fill="#111"/>
<circle cx="660.70" cy="722.00" r="0.65" fill="#111"/>
<circle cx="663.20" cy="725.88" r="0.65" fill="#111"/>
<circle cx="665.70" cy="728.22" r="0.65" fill="#111"/>
<circle cx="660.70" cy="729.77" r="0.65" fill="#111"/>
<circle cx="663.20" cy="731.32" r="0.65" fill="#111"/>
<circle cx="665.70" cy="733.66" r="0.65" fill="#111"/>
<circle cx="660.70" cy="737.54" r="0.65" fill="#111"/>
<circle cx="663.20" cy="741.43" r="0.65" fill="#111"/>
<circle cx="665.70" cy="745.31" r="0.65" fill="#111"/>
<circle cx="660.70" cy="749.20" r="0.65" fill="#111"/>
<circle cx="663.20" cy="753.08" r="0.65" fill="#111"/>
<circle cx="673.80" cy="724.33" r="0.65" fill="#111"/>
<circle cx="676.30" cy="733.66" r="0.65" fill="#111"/>
<circle cx="678.80" cy="737.54" r="0.65" fill="#111"/>
<circle cx="673.80" cy="741.43" r="0.65" fill="#111"/>
<circle cx="676.30" cy="753.08" r="0.65" fill="#111"/>
<circle cx="678.80" cy="756.97" r="0.65" fill="#111"/>
<circle cx="673.80" cy="760.85" r="0.65" fill="#111"/>
<circle cx="676.30" cy="764.74" r="0.65" fill="#111"/>
<circle cx="678.80" cy="768.62" r="0.65" fill="#111"/>
<circle cx="673.80" cy="784.16" r="0.65" fill="#111"/>
<circle cx="676.30" cy="799.70" r="0.65" fill="#111"/>
<rect x="603.0" y="801.0" width="81.8" height="1.6" fill="#bbb"/>
<text x="630.60" y="716.03" font-size="6.75" text-anchor="middle">NS</text>
<line x1="624.40" y1="717.50" x2="637.80" y2="717.50" stroke="#888" stroke-width="0.8"/>
<text x="669.60" y="716.03" font-size="6.75" text-anchor="middle"><tspan font-style="italic">P</tspan> < 0.001</text>
<line x1="662.40" y1="717.50" x2="677.00" y2="717.50" stroke="#888" stroke-width="0.8"/>
<text transform="translate(615.80,807.6) rotate(-45)" font-size="6.95" text-anchor="end">PBS + IgG</text>
<text transform="translate(628.90,807.6) rotate(-45)" font-size="6.95" text-anchor="end">PBS + anti-PD-1</text>
<text transform="translate(642.00,807.6) rotate(-45)" font-size="6.95" text-anchor="end">PBS + anti-PD-1 + anti-IL-6R</text>
<text transform="translate(655.10,807.6) rotate(-45)" font-size="6.95" text-anchor="end">EtBr + IgG</text>
<text transform="translate(668.20,807.6) rotate(-45)" font-size="6.95" text-anchor="end">EtBr + anti-PD-1</text>
<text transform="translate(681.30,807.6) rotate(-45)" font-size="6.95" text-anchor="end">EtBr + anti-PD-1 + anti-IL-6R</text>
<text x="354.50" y="709.02" font-size="10.6" fill="#000" font-weight="bold">l</text>
<line x1="386.50" y1="709.00" x2="386.50" y2="846.30" stroke="#555" stroke-width="0.8"/>
<line x1="383.50" y1="846.50" x2="386.70" y2="846.50" stroke="#555" stroke-width="0.8"/>
<text x="379.90" y="848.73" font-size="6.75" text-anchor="end">0</text>
<line x1="383.50" y1="816.50" x2="386.70" y2="816.50" stroke="#555" stroke-width="0.8"/>
<text x="379.90" y="818.83" font-size="6.75" text-anchor="end">25</text>
<line x1="383.50" y1="786.50" x2="386.70" y2="786.50" stroke="#555" stroke-width="0.8"/>
<text x="379.90" y="788.93" font-size="6.75" text-anchor="end">50</text>
<line x1="383.50" y1="756.50" x2="386.70" y2="756.50" stroke="#555" stroke-width="0.8"/>
<text x="379.90" y="759.03" font-size="6.75" text-anchor="end">75</text>
<line x1="383.50" y1="726.50" x2="386.70" y2="726.50" stroke="#555" stroke-width="0.8"/>
<text x="379.90" y="729.13" font-size="6.75" text-anchor="end">100</text>
<line x1="396.40" y1="848.60" x2="536.00" y2="848.60" stroke="#aaa" stroke-width="1.3"/>
<line x1="404.50" y1="848.60" x2="404.50" y2="851.10" stroke="#555" stroke-width="0.8"/>
<text x="404.10" y="860.63" font-size="6.75" text-anchor="middle">3</text>
<line x1="417.50" y1="848.60" x2="417.50" y2="851.10" stroke="#555" stroke-width="0.8"/>
<text x="417.79" y="860.63" font-size="6.75" text-anchor="middle">6</text>
<line x1="431.50" y1="848.60" x2="431.50" y2="851.10" stroke="#555" stroke-width="0.8"/>
<text x="431.48" y="860.63" font-size="6.75" text-anchor="middle">9</text>
<line x1="445.50" y1="848.60" x2="445.50" y2="851.10" stroke="#555" stroke-width="0.8"/>
<text x="445.17" y="860.63" font-size="6.75" text-anchor="middle">12</text>
<line x1="458.50" y1="848.60" x2="458.50" y2="851.10" stroke="#555" stroke-width="0.8"/>
<text x="458.86" y="860.63" font-size="6.75" text-anchor="middle">15</text>
<line x1="472.50" y1="848.60" x2="472.50" y2="851.10" stroke="#555" stroke-width="0.8"/>
<text x="472.55" y="860.63" font-size="6.75" text-anchor="middle">18</text>
<line x1="486.50" y1="848.60" x2="486.50" y2="851.10" stroke="#555" stroke-width="0.8"/>
<text x="486.23" y="860.63" font-size="6.75" text-anchor="middle">21</text>
<line x1="499.50" y1="848.60" x2="499.50" y2="851.10" stroke="#555" stroke-width="0.8"/>
<text x="499.92" y="860.63" font-size="6.75" text-anchor="middle">24</text>
<line x1="513.50" y1="848.60" x2="513.50" y2="851.10" stroke="#555" stroke-width="0.8"/>
<text x="513.61" y="860.63" font-size="6.75" text-anchor="middle">27</text>
<line x1="527.50" y1="848.60" x2="527.50" y2="851.10" stroke="#555" stroke-width="0.8"/>
<text x="527.30" y="860.63" font-size="6.75" text-anchor="middle">30</text>
<line x1="404.50" y1="832.43" x2="404.50" y2="834.34" stroke="#444" stroke-width="0.7"/>
<line x1="402.50" y1="832.50" x2="405.70" y2="832.50" stroke="#444" stroke-width="0.7"/>
<line x1="402.50" y1="834.50" x2="405.70" y2="834.50" stroke="#444" stroke-width="0.7"/>
<line x1="417.50" y1="832.43" x2="417.50" y2="834.34" stroke="#444" stroke-width="0.7"/>
<line x1="416.19" y1="832.50" x2="419.39" y2="832.50" stroke="#444" stroke-width="0.7"/>
<line x1="416.19" y1="834.50" x2="419.39" y2="834.50" stroke="#444" stroke-width="0.7"/>
<line x1="431.50" y1="830.75" x2="431.50" y2="835.54" stroke="#444" stroke-width="0.7"/>
<line x1="429.88" y1="830.50" x2="433.08" y2="830.50" stroke="#444" stroke-width="0.7"/>
<line x1="429.88" y1="835.50" x2="433.08" y2="835.50" stroke="#444" stroke-width="0.7"/>
<line x1="445.50" y1="830.75" x2="445.50" y2="835.54" stroke="#444" stroke-width="0.7"/>
<line x1="443.57" y1="830.50" x2="446.77" y2="830.50" stroke="#444" stroke-width="0.7"/>
<line x1="443.57" y1="835.50" x2="446.77" y2="835.50" stroke="#444" stroke-width="0.7"/>
<line x1="458.50" y1="827.76" x2="458.50" y2="834.94" stroke="#444" stroke-width="0.7"/>
<line x1="457.26" y1="827.50" x2="460.46" y2="827.50" stroke="#444" stroke-width="0.7"/>
<line x1="457.26" y1="834.50" x2="460.46" y2="834.50" stroke="#444" stroke-width="0.7"/>
<line x1="472.50" y1="824.77" x2="472.50" y2="831.95" stroke="#444" stroke-width="0.7"/>
<line x1="470.94" y1="824.50" x2="474.15" y2="824.50" stroke="#444" stroke-width="0.7"/>
<line x1="470.94" y1="831.50" x2="474.15" y2="831.50" stroke="#444" stroke-width="0.7"/>
<line x1="486.50" y1="823.58" x2="486.50" y2="830.75" stroke="#444" stroke-width="0.7"/>
<line x1="484.63" y1="823.50" x2="487.83" y2="823.50" stroke="#444" stroke-width="0.7"/>
<line x1="484.63" y1="830.50" x2="487.83" y2="830.50" stroke="#444" stroke-width="0.7"/>
<line x1="499.50" y1="815.44" x2="499.50" y2="822.62" stroke="#444" stroke-width="0.7"/>
<line x1="498.32" y1="815.50" x2="501.52" y2="815.50" stroke="#444" stroke-width="0.7"/>
<line x1="498.32" y1="822.50" x2="501.52" y2="822.50" stroke="#444" stroke-width="0.7"/>
<line x1="513.50" y1="768.56" x2="513.50" y2="797.26" stroke="#444" stroke-width="0.7"/>
<line x1="512.01" y1="768.50" x2="515.21" y2="768.50" stroke="#444" stroke-width="0.7"/>
<line x1="512.01" y1="797.50" x2="515.21" y2="797.50" stroke="#444" stroke-width="0.7"/>
<line x1="527.50" y1="715.34" x2="527.50" y2="767.96" stroke="#444" stroke-width="0.7"/>
<line x1="525.70" y1="715.50" x2="528.90" y2="715.50" stroke="#444" stroke-width="0.7"/>
<line x1="525.70" y1="767.50" x2="528.90" y2="767.50" stroke="#444" stroke-width="0.7"/>
<line x1="404.50" y1="832.43" x2="404.50" y2="834.34" stroke="#444" stroke-width="0.7"/>
<line x1="402.50" y1="832.50" x2="405.70" y2="832.50" stroke="#444" stroke-width="0.7"/>
<line x1="402.50" y1="834.50" x2="405.70" y2="834.50" stroke="#444" stroke-width="0.7"/>
<line x1="417.50" y1="832.43" x2="417.50" y2="834.34" stroke="#444" stroke-width="0.7"/>
<line x1="416.19" y1="832.50" x2="419.39" y2="832.50" stroke="#444" stroke-width="0.7"/>
<line x1="416.19" y1="834.50" x2="419.39" y2="834.50" stroke="#444" stroke-width="0.7"/>
<line x1="431.50" y1="829.56" x2="431.50" y2="834.34" stroke="#444" stroke-width="0.7"/>
<line x1="429.88" y1="829.50" x2="433.08" y2="829.50" stroke="#444" stroke-width="0.7"/>
<line x1="429.88" y1="834.50" x2="433.08" y2="834.50" stroke="#444" stroke-width="0.7"/>
<line x1="445.50" y1="829.56" x2="445.50" y2="834.34" stroke="#444" stroke-width="0.7"/>
<line x1="443.57" y1="829.50" x2="446.77" y2="829.50" stroke="#444" stroke-width="0.7"/>
<line x1="443.57" y1="834.50" x2="446.77" y2="834.50" stroke="#444" stroke-width="0.7"/>
<line x1="458.50" y1="827.04" x2="458.50" y2="833.02" stroke="#444" stroke-width="0.7"/>
<line x1="457.26" y1="827.50" x2="460.46" y2="827.50" stroke="#444" stroke-width="0.7"/>
<line x1="457.26" y1="833.50" x2="460.46" y2="833.50" stroke="#444" stroke-width="0.7"/>
<line x1="472.50" y1="824.17" x2="472.50" y2="830.15" stroke="#444" stroke-width="0.7"/>
<line x1="470.94" y1="824.50" x2="474.15" y2="824.50" stroke="#444" stroke-width="0.7"/>
<line x1="470.94" y1="830.50" x2="474.15" y2="830.50" stroke="#444" stroke-width="0.7"/>
<line x1="486.50" y1="821.78" x2="486.50" y2="827.76" stroke="#444" stroke-width="0.7"/>
<line x1="484.63" y1="821.50" x2="487.83" y2="821.50" stroke="#444" stroke-width="0.7"/>
<line x1="484.63" y1="827.50" x2="487.83" y2="827.50" stroke="#444" stroke-width="0.7"/>
<line x1="499.50" y1="824.17" x2="499.50" y2="830.15" stroke="#444" stroke-width="0.7"/>
<line x1="498.32" y1="824.50" x2="501.52" y2="824.50" stroke="#444" stroke-width="0.7"/>
<line x1="498.32" y1="830.50" x2="501.52" y2="830.50" stroke="#444" stroke-width="0.7"/>
<line x1="513.50" y1="810.42" x2="513.50" y2="829.56" stroke="#444" stroke-width="0.7"/>
<line x1="512.01" y1="810.50" x2="515.21" y2="810.50" stroke="#444" stroke-width="0.7"/>
<line x1="512.01" y1="829.50" x2="515.21" y2="829.50" stroke="#444" stroke-width="0.7"/>
<line x1="527.50" y1="794.87" x2="527.50" y2="823.58" stroke="#444" stroke-width="0.7"/>
<line x1="525.70" y1="794.50" x2="528.90" y2="794.50" stroke="#444" stroke-width="0.7"/>
<line x1="525.70" y1="823.50" x2="528.90" y2="823.50" stroke="#444" stroke-width="0.7"/>
<line x1="404.50" y1="832.43" x2="404.50" y2="834.34" stroke="#444" stroke-width="0.7"/>
<line x1="402.50" y1="832.50" x2="405.70" y2="832.50" stroke="#444" stroke-width="0.7"/>
<line x1="402.50" y1="834.50" x2="405.70" y2="834.50" stroke="#444" stroke-width="0.7"/>
<line x1="417.50" y1="832.43" x2="417.50" y2="834.34" stroke="#444" stroke-width="0.7"/>
<line x1="416.19" y1="832.50" x2="419.39" y2="832.50" stroke="#444" stroke-width="0.7"/>
<line x1="416.19" y1="834.50" x2="419.39" y2="834.50" stroke="#444" stroke-width="0.7"/>
<line x1="431.50" y1="828.84" x2="431.50" y2="833.62" stroke="#444" stroke-width="0.7"/>
<line x1="429.88" y1="828.50" x2="433.08" y2="828.50" stroke="#444" stroke-width="0.7"/>
<line x1="429.88" y1="833.50" x2="433.08" y2="833.50" stroke="#444" stroke-width="0.7"/>
<line x1="445.50" y1="829.56" x2="445.50" y2="834.34" stroke="#444" stroke-width="0.7"/>
<line x1="443.57" y1="829.50" x2="446.77" y2="829.50" stroke="#444" stroke-width="0.7"/>
<line x1="443.57" y1="834.50" x2="446.77" y2="834.50" stroke="#444" stroke-width="0.7"/>
<line x1="458.50" y1="827.04" x2="458.50" y2="833.02" stroke="#444" stroke-width="0.7"/>
<line x1="457.26" y1="827.50" x2="460.46" y2="827.50" stroke="#444" stroke-width="0.7"/>
<line x1="457.26" y1="833.50" x2="460.46" y2="833.50" stroke="#444" stroke-width="0.7"/>
<line x1="472.50" y1="822.98" x2="472.50" y2="828.96" stroke="#444" stroke-width="0.7"/>
<line x1="470.94" y1="822.50" x2="474.15" y2="822.50" stroke="#444" stroke-width="0.7"/>
<line x1="470.94" y1="828.50" x2="474.15" y2="828.50" stroke="#444" stroke-width="0.7"/>
<line x1="486.50" y1="820.59" x2="486.50" y2="826.57" stroke="#444" stroke-width="0.7"/>
<line x1="484.63" y1="820.50" x2="487.83" y2="820.50" stroke="#444" stroke-width="0.7"/>
<line x1="484.63" y1="826.50" x2="487.83" y2="826.50" stroke="#444" stroke-width="0.7"/>
<line x1="499.50" y1="820.59" x2="499.50" y2="826.57" stroke="#444" stroke-width="0.7"/>
<line x1="498.32" y1="820.50" x2="501.52" y2="820.50" stroke="#444" stroke-width="0.7"/>
<line x1="498.32" y1="826.50" x2="501.52" y2="826.50" stroke="#444" stroke-width="0.7"/>
<line x1="513.50" y1="794.27" x2="513.50" y2="813.41" stroke="#444" stroke-width="0.7"/>
<line x1="512.01" y1="794.50" x2="515.21" y2="794.50" stroke="#444" stroke-width="0.7"/>
<line x1="512.01" y1="813.50" x2="515.21" y2="813.50" stroke="#444" stroke-width="0.7"/>
<line x1="527.50" y1="772.15" x2="527.50" y2="800.85" stroke="#444" stroke-width="0.7"/>
<line x1="525.70" y1="772.50" x2="528.90" y2="772.50" stroke="#444" stroke-width="0.7"/>
<line x1="525.70" y1="800.50" x2="528.90" y2="800.50" stroke="#444" stroke-width="0.7"/>
<line x1="404.50" y1="832.43" x2="404.50" y2="834.34" stroke="#444" stroke-width="0.7"/>
<line x1="402.50" y1="832.50" x2="405.70" y2="832.50" stroke="#444" stroke-width="0.7"/>
<line x1="402.50" y1="834.50" x2="405.70" y2="834.50" stroke="#444" stroke-width="0.7"/>
<line x1="417.50" y1="832.43" x2="417.50" y2="834.34" stroke="#444" stroke-width="0.7"/>
<line x1="416.19" y1="832.50" x2="419.39" y2="832.50" stroke="#444" stroke-width="0.7"/>
<line x1="416.19" y1="834.50" x2="419.39" y2="834.50" stroke="#444" stroke-width="0.7"/>
<line x1="431.50" y1="833.14" x2="431.50" y2="837.93" stroke="#444" stroke-width="0.7"/>
<line x1="429.88" y1="833.50" x2="433.08" y2="833.50" stroke="#444" stroke-width="0.7"/>
<line x1="429.88" y1="837.50" x2="433.08" y2="837.50" stroke="#444" stroke-width="0.7"/>
<line x1="445.50" y1="834.34" x2="445.50" y2="839.12" stroke="#444" stroke-width="0.7"/>
<line x1="443.57" y1="834.50" x2="446.77" y2="834.50" stroke="#444" stroke-width="0.7"/>
<line x1="443.57" y1="839.50" x2="446.77" y2="839.50" stroke="#444" stroke-width="0.7"/>
<line x1="458.50" y1="830.75" x2="458.50" y2="837.93" stroke="#444" stroke-width="0.7"/>
<line x1="457.26" y1="830.50" x2="460.46" y2="830.50" stroke="#444" stroke-width="0.7"/>
<line x1="457.26" y1="837.50" x2="460.46" y2="837.50" stroke="#444" stroke-width="0.7"/>
<line x1="472.50" y1="825.97" x2="472.50" y2="833.14" stroke="#444" stroke-width="0.7"/>
<line x1="470.94" y1="825.50" x2="474.15" y2="825.50" stroke="#444" stroke-width="0.7"/>
<line x1="470.94" y1="833.50" x2="474.15" y2="833.50" stroke="#444" stroke-width="0.7"/>
<line x1="486.50" y1="823.58" x2="486.50" y2="830.75" stroke="#444" stroke-width="0.7"/>
<line x1="484.63" y1="823.50" x2="487.83" y2="823.50" stroke="#444" stroke-width="0.7"/>
<line x1="484.63" y1="830.50" x2="487.83" y2="830.50" stroke="#444" stroke-width="0.7"/>
<line x1="499.50" y1="823.58" x2="499.50" y2="830.75" stroke="#444" stroke-width="0.7"/>
<line x1="498.32" y1="823.50" x2="501.52" y2="823.50" stroke="#444" stroke-width="0.7"/>
<line x1="498.32" y1="830.50" x2="501.52" y2="830.50" stroke="#444" stroke-width="0.7"/>
<line x1="513.50" y1="781.72" x2="513.50" y2="810.42" stroke="#444" stroke-width="0.7"/>
<line x1="512.01" y1="781.50" x2="515.21" y2="781.50" stroke="#444" stroke-width="0.7"/>
<line x1="512.01" y1="810.50" x2="515.21" y2="810.50" stroke="#444" stroke-width="0.7"/>
<line x1="527.50" y1="729.09" x2="527.50" y2="781.72" stroke="#444" stroke-width="0.7"/>
<line x1="525.70" y1="729.50" x2="528.90" y2="729.50" stroke="#444" stroke-width="0.7"/>
<line x1="525.70" y1="781.50" x2="528.90" y2="781.50" stroke="#444" stroke-width="0.7"/>
<line x1="404.50" y1="832.43" x2="404.50" y2="834.34" stroke="#444" stroke-width="0.7"/>
<line x1="402.50" y1="832.50" x2="405.70" y2="832.50" stroke="#444" stroke-width="0.7"/>
<line x1="402.50" y1="834.50" x2="405.70" y2="834.50" stroke="#444" stroke-width="0.7"/>
<line x1="417.50" y1="832.43" x2="417.50" y2="834.34" stroke="#444" stroke-width="0.7"/>
<line x1="416.19" y1="832.50" x2="419.39" y2="832.50" stroke="#444" stroke-width="0.7"/>
<line x1="416.19" y1="834.50" x2="419.39" y2="834.50" stroke="#444" stroke-width="0.7"/>
<line x1="431.50" y1="831.95" x2="431.50" y2="836.73" stroke="#444" stroke-width="0.7"/>
<line x1="429.88" y1="831.50" x2="433.08" y2="831.50" stroke="#444" stroke-width="0.7"/>
<line x1="429.88" y1="836.50" x2="433.08" y2="836.50" stroke="#444" stroke-width="0.7"/>
<line x1="445.50" y1="835.54" x2="445.50" y2="840.32" stroke="#444" stroke-width="0.7"/>
<line x1="443.57" y1="835.50" x2="446.77" y2="835.50" stroke="#444" stroke-width="0.7"/>
<line x1="443.57" y1="840.50" x2="446.77" y2="840.50" stroke="#444" stroke-width="0.7"/>
<line x1="458.50" y1="833.74" x2="458.50" y2="839.72" stroke="#444" stroke-width="0.7"/>
<line x1="457.26" y1="833.50" x2="460.46" y2="833.50" stroke="#444" stroke-width="0.7"/>
<line x1="457.26" y1="839.50" x2="460.46" y2="839.50" stroke="#444" stroke-width="0.7"/>
<line x1="472.50" y1="828.96" x2="472.50" y2="834.94" stroke="#444" stroke-width="0.7"/>
<line x1="470.94" y1="828.50" x2="474.15" y2="828.50" stroke="#444" stroke-width="0.7"/>
<line x1="470.94" y1="834.50" x2="474.15" y2="834.50" stroke="#444" stroke-width="0.7"/>
<line x1="486.50" y1="827.04" x2="486.50" y2="833.02" stroke="#444" stroke-width="0.7"/>
<line x1="484.63" y1="827.50" x2="487.83" y2="827.50" stroke="#444" stroke-width="0.7"/>
<line x1="484.63" y1="833.50" x2="487.83" y2="833.50" stroke="#444" stroke-width="0.7"/>
<line x1="499.50" y1="827.04" x2="499.50" y2="833.02" stroke="#444" stroke-width="0.7"/>
<line x1="498.32" y1="827.50" x2="501.52" y2="827.50" stroke="#444" stroke-width="0.7"/>
<line x1="498.32" y1="833.50" x2="501.52" y2="833.50" stroke="#444" stroke-width="0.7"/>
<line x1="513.50" y1="803.24" x2="513.50" y2="822.38" stroke="#444" stroke-width="0.7"/>
<line x1="512.01" y1="803.50" x2="515.21" y2="803.50" stroke="#444" stroke-width="0.7"/>
<line x1="512.01" y1="822.50" x2="515.21" y2="822.50" stroke="#444" stroke-width="0.7"/>
<line x1="527.50" y1="761.38" x2="527.50" y2="790.09" stroke="#444" stroke-width="0.7"/>
<line x1="525.70" y1="761.50" x2="528.90" y2="761.50" stroke="#444" stroke-width="0.7"/>
<line x1="525.70" y1="790.50" x2="528.90" y2="790.50" stroke="#444" stroke-width="0.7"/>
<line x1="404.50" y1="832.43" x2="404.50" y2="834.34" stroke="#444" stroke-width="0.7"/>
<line x1="402.50" y1="832.50" x2="405.70" y2="832.50" stroke="#444" stroke-width="0.7"/>
<line x1="402.50" y1="834.50" x2="405.70" y2="834.50" stroke="#444" stroke-width="0.7"/>
<line x1="417.50" y1="832.43" x2="417.50" y2="834.34" stroke="#444" stroke-width="0.7"/>
<line x1="416.19" y1="832.50" x2="419.39" y2="832.50" stroke="#444" stroke-width="0.7"/>
<line x1="416.19" y1="834.50" x2="419.39" y2="834.50" stroke="#444" stroke-width="0.7"/>
<line x1="431.50" y1="834.34" x2="431.50" y2="839.12" stroke="#444" stroke-width="0.7"/>
<line x1="429.88" y1="834.50" x2="433.08" y2="834.50" stroke="#444" stroke-width="0.7"/>
<line x1="429.88" y1="839.50" x2="433.08" y2="839.50" stroke="#444" stroke-width="0.7"/>
<line x1="445.50" y1="835.54" x2="445.50" y2="840.32" stroke="#444" stroke-width="0.7"/>
<line x1="443.57" y1="835.50" x2="446.77" y2="835.50" stroke="#444" stroke-width="0.7"/>
<line x1="443.57" y1="840.50" x2="446.77" y2="840.50" stroke="#444" stroke-width="0.7"/>
<line x1="458.50" y1="832.55" x2="458.50" y2="838.53" stroke="#444" stroke-width="0.7"/>
<line x1="457.26" y1="832.50" x2="460.46" y2="832.50" stroke="#444" stroke-width="0.7"/>
<line x1="457.26" y1="838.50" x2="460.46" y2="838.50" stroke="#444" stroke-width="0.7"/>
<line x1="472.50" y1="827.76" x2="472.50" y2="833.74" stroke="#444" stroke-width="0.7"/>
<line x1="470.94" y1="827.50" x2="474.15" y2="827.50" stroke="#444" stroke-width="0.7"/>
<line x1="470.94" y1="833.50" x2="474.15" y2="833.50" stroke="#444" stroke-width="0.7"/>
<line x1="486.50" y1="822.98" x2="486.50" y2="828.96" stroke="#444" stroke-width="0.7"/>
<line x1="484.63" y1="822.50" x2="487.83" y2="822.50" stroke="#444" stroke-width="0.7"/>
<line x1="484.63" y1="828.50" x2="487.83" y2="828.50" stroke="#444" stroke-width="0.7"/>
<line x1="499.50" y1="821.78" x2="499.50" y2="827.76" stroke="#444" stroke-width="0.7"/>
<line x1="498.32" y1="821.50" x2="501.52" y2="821.50" stroke="#444" stroke-width="0.7"/>
<line x1="498.32" y1="827.50" x2="501.52" y2="827.50" stroke="#444" stroke-width="0.7"/>
<line x1="513.50" y1="788.89" x2="513.50" y2="808.03" stroke="#444" stroke-width="0.7"/>
<line x1="512.01" y1="788.50" x2="515.21" y2="788.50" stroke="#444" stroke-width="0.7"/>
<line x1="512.01" y1="808.50" x2="515.21" y2="808.50" stroke="#444" stroke-width="0.7"/>
<line x1="527.50" y1="751.82" x2="527.50" y2="780.52" stroke="#444" stroke-width="0.7"/>
<line x1="525.70" y1="751.50" x2="528.90" y2="751.50" stroke="#444" stroke-width="0.7"/>
<line x1="525.70" y1="780.50" x2="528.90" y2="780.50" stroke="#444" stroke-width="0.7"/>
<polyline points="404.10,833.38 417.79,833.38 431.48,833.14 445.17,833.14 458.86,831.35 472.55,828.36 486.23,827.16 499.92,819.03 513.61,782.91 527.30,741.65" fill="none" stroke="#d27fe0" stroke-width="1.0" stroke-linejoin="round"/>
<polyline points="404.10,833.38 417.79,833.38 431.48,831.95 445.17,831.95 458.86,830.03 472.55,827.16 486.23,824.77 499.92,827.16 513.61,819.99 527.30,809.22" fill="none" stroke="#45d3dd" stroke-width="1.0" stroke-linejoin="round"/>
<polyline points="404.10,833.38 417.79,833.38 431.48,831.23 445.17,831.95 458.86,830.03 472.55,825.97 486.23,823.58 499.92,823.58 513.61,803.84 527.30,786.50" fill="none" stroke="#f9c877" stroke-width="1.0" stroke-linejoin="round"/>
<polyline points="404.10,833.38 417.79,833.38 431.48,835.54 445.17,836.73 458.86,834.34 472.55,829.56 486.23,827.16 499.92,827.16 513.61,796.07 527.30,755.40" fill="none" stroke="#5e0a5e" stroke-width="1.0" stroke-linejoin="round"/>
<polyline points="404.10,833.38 417.79,833.38 431.48,834.34 445.17,837.93 458.86,836.73 472.55,831.95 486.23,830.03 499.92,830.03 513.61,812.81 527.30,775.74" fill="none" stroke="#137384" stroke-width="1.3" stroke-linejoin="round"/>
<polyline points="404.10,833.38 417.79,833.38 431.48,836.73 445.17,837.93 458.86,835.54 472.55,830.75 486.23,825.97 499.92,824.77 513.61,798.46 527.30,766.17" fill="none" stroke="#a5631f" stroke-width="1.3" stroke-linejoin="round"/>
<rect x="402.90" y="832.18" width="2.40" height="2.40" fill="#111"/>
<rect x="416.59" y="832.18" width="2.40" height="2.40" fill="#111"/>
<rect x="430.28" y="831.94" width="2.40" height="2.40" fill="#111"/>
<rect x="443.97" y="831.94" width="2.40" height="2.40" fill="#111"/>
<rect x="457.66" y="830.15" width="2.40" height="2.40" fill="#111"/>
<rect x="471.35" y="827.16" width="2.40" height="2.40" fill="#111"/>
<rect x="485.03" y="825.96" width="2.40" height="2.40" fill="#111"/>
<rect x="498.72" y="817.83" width="2.40" height="2.40" fill="#111"/>
<rect x="512.41" y="781.71" width="2.40" height="2.40" fill="#111"/>
<rect x="526.10" y="740.45" width="2.40" height="2.40" fill="#111"/>
<rect x="402.90" y="832.18" width="2.40" height="2.40" fill="#111"/>
<rect x="416.59" y="832.18" width="2.40" height="2.40" fill="#111"/>
<rect x="430.28" y="830.75" width="2.40" height="2.40" fill="#111"/>
<rect x="443.97" y="830.75" width="2.40" height="2.40" fill="#111"/>
<rect x="457.66" y="828.83" width="2.40" height="2.40" fill="#111"/>
<rect x="471.35" y="825.96" width="2.40" height="2.40" fill="#111"/>
<rect x="485.03" y="823.57" width="2.40" height="2.40" fill="#111"/>
<rect x="498.72" y="825.96" width="2.40" height="2.40" fill="#111"/>
<rect x="512.41" y="818.79" width="2.40" height="2.40" fill="#111"/>
<rect x="526.10" y="808.02" width="2.40" height="2.40" fill="#111"/>
<rect x="402.90" y="832.18" width="2.40" height="2.40" fill="#111"/>
<rect x="416.59" y="832.18" width="2.40" height="2.40" fill="#111"/>
<rect x="430.28" y="830.03" width="2.40" height="2.40" fill="#111"/>
<rect x="443.97" y="830.75" width="2.40" height="2.40" fill="#111"/>
<rect x="457.66" y="828.83" width="2.40" height="2.40" fill="#111"/>
<rect x="471.35" y="824.77" width="2.40" height="2.40" fill="#111"/>
<rect x="485.03" y="822.38" width="2.40" height="2.40" fill="#111"/>
<rect x="498.72" y="822.38" width="2.40" height="2.40" fill="#111"/>
<rect x="512.41" y="802.64" width="2.40" height="2.40" fill="#111"/>
<rect x="526.10" y="785.30" width="2.40" height="2.40" fill="#111"/>
<rect x="402.90" y="832.18" width="2.40" height="2.40" fill="#111"/>
<rect x="416.59" y="832.18" width="2.40" height="2.40" fill="#111"/>
<rect x="430.28" y="834.34" width="2.40" height="2.40" fill="#111"/>
<rect x="443.97" y="835.53" width="2.40" height="2.40" fill="#111"/>
<rect x="457.66" y="833.14" width="2.40" height="2.40" fill="#111"/>
<rect x="471.35" y="828.36" width="2.40" height="2.40" fill="#111"/>
<rect x="485.03" y="825.96" width="2.40" height="2.40" fill="#111"/>
<rect x="498.72" y="825.96" width="2.40" height="2.40" fill="#111"/>
<rect x="512.41" y="794.87" width="2.40" height="2.40" fill="#111"/>
<rect x="526.10" y="754.20" width="2.40" height="2.40" fill="#111"/>
<rect x="402.90" y="832.18" width="2.40" height="2.40" fill="#111"/>
<rect x="416.59" y="832.18" width="2.40" height="2.40" fill="#111"/>
<rect x="430.28" y="833.14" width="2.40" height="2.40" fill="#111"/>
<rect x="443.97" y="836.73" width="2.40" height="2.40" fill="#111"/>
<rect x="457.66" y="835.53" width="2.40" height="2.40" fill="#111"/>
<rect x="471.35" y="830.75" width="2.40" height="2.40" fill="#111"/>
<rect x="485.03" y="828.83" width="2.40" height="2.40" fill="#111"/>
<rect x="498.72" y="828.83" width="2.40" height="2.40" fill="#111"/>
<rect x="512.41" y="811.61" width="2.40" height="2.40" fill="#111"/>
<rect x="526.10" y="774.54" width="2.40" height="2.40" fill="#111"/>
<rect x="402.90" y="832.18" width="2.40" height="2.40" fill="#111"/>
<rect x="416.59" y="832.18" width="2.40" height="2.40" fill="#111"/>
<rect x="430.28" y="835.53" width="2.40" height="2.40" fill="#111"/>
<rect x="443.97" y="836.73" width="2.40" height="2.40" fill="#111"/>
<rect x="457.66" y="834.34" width="2.40" height="2.40" fill="#111"/>
<rect x="471.35" y="829.55" width="2.40" height="2.40" fill="#111"/>
<rect x="485.03" y="824.77" width="2.40" height="2.40" fill="#111"/>
<rect x="498.72" y="823.57" width="2.40" height="2.40" fill="#111"/>
<rect x="512.41" y="797.26" width="2.40" height="2.40" fill="#111"/>
<rect x="526.10" y="764.97" width="2.40" height="2.40" fill="#111"/>
<text x="465.40" y="873.43" font-size="6.75" text-anchor="middle">Time (days)</text>
<text transform="translate(362.80,779.50) rotate(-90)" font-size="6.75" text-anchor="middle">Tumour volume (mm<tspan font-size="4.3" dy="-2.4">3</tspan><tspan dy="2.4">)</tspan></text>
<text x="390.00" y="715.43" font-size="6.75">Groups</text>
<line x1="390.00" y1="723.50" x2="407.60" y2="723.50" stroke="#d27fe0" stroke-width="1.0"/>
<text x="411.80" y="725.93" font-size="6.75">PBS + IgG</text>
<line x1="390.00" y1="732.50" x2="407.60" y2="732.50" stroke="#45d3dd" stroke-width="1.0"/>
<text x="411.80" y="734.93" font-size="6.75">PBS + anti-PD-1</text>
<line x1="390.00" y1="741.50" x2="407.60" y2="741.50" stroke="#f9c877" stroke-width="1.0"/>
<text x="411.80" y="744.23" font-size="6.75">PBS + anti-PD-1 + anti-IL-6R</text>
<line x1="390.00" y1="751.50" x2="407.60" y2="751.50" stroke="#5e0a5e" stroke-width="1.3"/>
<text x="411.80" y="753.93" font-size="6.75">EtBr + IgG</text>
<line x1="390.00" y1="760.90" x2="407.60" y2="760.90" stroke="#137384" stroke-width="1.6"/>
<text x="411.80" y="763.33" font-size="6.75">EtBr + anti-PD-1</text>
<line x1="390.00" y1="770.40" x2="407.60" y2="770.40" stroke="#a5631f" stroke-width="1.3"/>
<text x="411.80" y="772.83" font-size="6.75">EtBr + anti-PD-1 + anti-IL-6R</text>
<text x="389.00" y="792.53" font-size="6.75">Mixed-effects model (REML)</text>
<text x="389.00" y="799.63" font-size="6.75"><tspan font-style="italic">F</tspan>(45, 460) = 1.49, <tspan font-style="italic">P</tspan> = 0.025</text>
<line x1="541.50" y1="766.70" x2="541.50" y2="808.50" stroke="#555" stroke-width="0.7"/>
<line x1="540.60" y1="766.50" x2="543.00" y2="766.50" stroke="#555" stroke-width="0.7"/>
<line x1="540.60" y1="808.50" x2="543.00" y2="808.50" stroke="#555" stroke-width="0.7"/>
<line x1="550.50" y1="766.00" x2="550.50" y2="786.60" stroke="#555" stroke-width="0.7"/>
<line x1="549.30" y1="766.50" x2="551.70" y2="766.50" stroke="#555" stroke-width="0.7"/>
<line x1="549.30" y1="786.50" x2="551.70" y2="786.50" stroke="#555" stroke-width="0.7"/>
<line x1="537.50" y1="766.00" x2="537.50" y2="776.00" stroke="#555" stroke-width="0.6"/>
<rect x="533.00" y="768.50" width="9.00" height="6.20" fill="#fff"/>
<text x="533.20" y="773.93" font-size="6.75">NS</text>
<rect x="546.00" y="772.50" width="9.50" height="6.50" fill="#fff"/>
<text x="546.20" y="778.13" font-size="6.75">NS</text>
<rect x="529.20" y="789.90" width="25.50" height="7.00" fill="#fff"/>
<text x="529.50" y="795.83" font-size="6.75"><tspan font-style="italic">P</tspan> = 0.03</text>
<defs><g id="ms"><path d="M36.6,6.2 C41,7.3 45.3,9.5 45.0,12.5 C44.7,15.1 40,15.4 34,14.9 C28,14.4 24,13.8 20.3,13.0" fill="none" stroke="#c8877f" stroke-width="1.3" stroke-linecap="round"/><path d="M8.6,7.2 C8.8,8.6 7.6,9.6 5.6,10.0 C5.4,10.5 6.2,10.8 7.4,10.7 C9.3,10.6 11,10.1 12.2,9.2 C11.6,8.4 10.4,7.6 9.6,7.2 Z" fill="#c8877f"/><path d="M24.5,8.6 C25.6,9.6 26.2,10.2 25.6,10.7 C26.5,11.2 29,11.1 31.5,10.7 C33,10.4 34.3,9.9 34.8,9.1 C32,8.8 28,8.6 24.5,8.6 Z" fill="#c8877f"/><path d="M0,0 C0.8,-1.6 1.5,-2.4 2.2,-2.6 C3.5,-3.6 5,-4.3 6.6,-4.4 C8,-5.2 9,-6.2 10.1,-6.1 C10.8,-6 11.2,-5.5 11.4,-5.3 C12.5,-4.5 14,-4 15.3,-3.9 C18,-4.2 20,-4.2 21.5,-4.2 C23,-4.3 24,-4.5 25,-4.8 C26,-5.8 27,-6.1 27.6,-6.0 C29,-5.9 30.3,-5.5 31.1,-4.8 C32.2,-3.9 32.8,-2.8 33.3,-1.75 C34.8,-0.5 35.8,1 36.4,2.6 C37,3.6 37.3,4.6 37.2,5.7 C37.1,6.9 36.6,7.7 35.9,8.3 C34.5,9.3 32.8,9.6 31.1,9.6 C29,9.5 27.5,9.3 25.8,9.2 C23,9.1 21,8.9 18.8,8.9 C17,8.8 15.6,8.7 14.4,8.6 C12.8,8.1 11.3,7.6 10.1,7.0 C8.8,6.1 7.6,5.2 6.6,4.4 C5.5,3.6 4.3,3 3.1,2.6 C1.8,2.1 0.9,1.7 0.4,1.3 C0,0.9 -0.2,0.4 0,0 Z" fill="#46413e"/><path d="M22,-3.8 C27,-2 31,2 33,8.5 C34.5,9 35.5,8.6 36.4,7.6 C37.3,5.6 36.8,2.4 34.6,-0.4 C33,-2.6 31.5,-4.3 29.5,-5.6 C27,-6.3 25.2,-5.4 24.2,-4.6 Z" fill="#2f2b29" opacity="0.45"/><ellipse cx="12.3" cy="-2.2" rx="1.75" ry="2.2" fill="#c8877f"/><circle cx="5.2" cy="-1.3" r="0.6" fill="#111"/><path d="M0.2,-0.3 L-1.2,-3.2 M0.4,-0.4 L1.2,-3.6" stroke="#ddd" stroke-width="0.35"/></g></defs>
<text x="0.00" y="707.92" font-size="10.6" fill="#000" font-weight="bold">k</text>
<use href="#ms" transform="translate(7.20,778.70) scale(1.156,1.237)"/>
<circle cx="41.50" cy="780.60" r="1.10" fill="#a5443c"/>
<line x1="44.40" y1="776.80" x2="46.40" y2="774.40" stroke="#888" stroke-width="0.5"/>
<line x1="46.20" y1="774.60" x2="49.40" y2="770.80" stroke="#a0a0a0" stroke-width="2.4"/>
<line x1="46.20" y1="774.60" x2="49.40" y2="770.80" stroke="#f2a0a0" stroke-width="1.6"/>
<line x1="49.40" y1="770.80" x2="55.60" y2="763.20" stroke="#9a9a9a" stroke-width="2.4"/>
<line x1="49.40" y1="770.80" x2="55.60" y2="763.20" stroke="#efefef" stroke-width="1.6"/>
<line x1="55.00" y1="763.90" x2="58.60" y2="759.60" stroke="#9a9a9a" stroke-width="0.6"/>
<line x1="56.80" y1="759.60" x2="60.20" y2="762.40" stroke="#9a9a9a" stroke-width="0.6"/>
<text x="32.70" y="807.43" font-size="6.75" text-anchor="middle">Mouse UVSCC-M4</text>
<text x="32.70" y="815.03" font-size="6.75" text-anchor="middle">cell injection</text>
<line x1="58.20" y1="778.70" x2="69.61" y2="767.38" stroke="#222" stroke-width="0.7"/>
<path d="M70.70,766.30L69.91,768.35L68.64,767.08Z" fill="#222"/>
<line x1="58.20" y1="778.70" x2="69.61" y2="790.02" stroke="#222" stroke-width="0.7"/>
<path d="M70.70,791.10L68.64,790.32L69.91,789.05Z" fill="#222"/>
<path d="M104.0,741.0 L111.6,725.5 L113.5,744.0 Z" fill="#fbe6c6"/>
<circle cx="131.2" cy="730.4" r="20.0" fill="#fff" stroke="#8a8a8a" stroke-width="0.5"/>
<line x1="111.40" y1="730.80" x2="137.50" y2="730.80" stroke="#d9785f" stroke-width="1.4"/>
<line x1="126.00" y1="730.50" x2="139.50" y2="730.50" stroke="#eea49a" stroke-width="1.0"/>
<path d="M142.0,726.0 Q139.5,721.0 135.6,716.6" fill="none" stroke="#f0cf86" stroke-width="0.9"/>
<path d="M139.4,721.2 Q138.0,718.8 136.6,718.6" fill="none" stroke="#f0cf86" stroke-width="0.9"/>
<path d="M143.4,725.0 Q142.6,719.5 141.2,715.6" fill="none" stroke="#f0cf86" stroke-width="0.9"/>
<path d="M142.4,719.6 Q143.6,717.6 144.2,716.0" fill="none" stroke="#f0cf86" stroke-width="0.9"/>
<path d="M147.0,725.5 Q148.2,722.0 147.8,719.2" fill="none" stroke="#f0cf86" stroke-width="0.9"/>
<path d="M149.5,730.5 Q150.6,731.0 151.4,731.4" fill="none" stroke="#f0cf86" stroke-width="0.9"/>
<path d="M147.2,734.5 Q148.4,738.5 147.8,741.8" fill="none" stroke="#f0cf86" stroke-width="0.9"/>
<path d="M144.0,735.5 Q143.6,739.5 143.0,743.6" fill="none" stroke="#f0cf86" stroke-width="0.9"/>
<path d="M141.6,734.6 Q140.0,740.0 137.6,745.3" fill="none" stroke="#f0cf86" stroke-width="0.9"/>
<path d="M139.0,729.8 C139.5,726.0 142.5,723.8 145.5,724.3 C149.0,724.8 150.8,727.5 150.4,731.0 C150.0,734.5 147.2,736.5 144.2,736.0 C141.0,735.5 138.8,733.0 139.0,729.8 Z" fill="#f0cf86"/>
<line x1="136.00" y1="730.80" x2="141.00" y2="730.60" stroke="#f0cf86" stroke-width="1.6"/>
<circle cx="144.90" cy="730.20" r="1.70" fill="#8b8172"/>
<text x="131.30" y="707.93" font-size="6.75" text-anchor="middle">Demyelination</text>
<use href="#ms" transform="translate(76.60,743.20) scale(1.078,1.153)"/>
<line x1="94.10" y1="724.90" x2="100.20" y2="734.20" stroke="#a63a30" stroke-width="1.5"/>
<line x1="100.00" y1="733.90" x2="102.40" y2="737.60" stroke="#49b9ad" stroke-width="0.8"/>
<text x="115.30" y="770.43" font-size="6.75" text-anchor="middle">Peritumoural ethidium</text>
<text x="115.30" y="778.43" font-size="6.75" text-anchor="middle">bromide injection</text>
<line x1="153.20" y1="738.00" x2="164.53" y2="726.31" stroke="#222" stroke-width="0.7"/>
<path d="M165.60,725.20L164.85,727.27L163.56,726.02Z" fill="#222"/>
<line x1="153.20" y1="738.00" x2="164.53" y2="749.69" stroke="#222" stroke-width="0.7"/>
<path d="M165.60,750.80L163.56,749.98L164.85,748.73Z" fill="#222"/>
<use href="#ms" transform="translate(87.40,820.00) scale(1.08,1.156)"/>
<line x1="104.90" y1="801.00" x2="111.20" y2="810.60" stroke="#a8d8e8" stroke-width="1.5"/>
<line x1="111.00" y1="810.30" x2="113.20" y2="813.60" stroke="#49b9ad" stroke-width="0.8"/>
<text x="115.60" y="846.73" font-size="6.75" text-anchor="middle">Peritumoural PBS</text>
<text x="115.60" y="854.93" font-size="6.75" text-anchor="middle">injection</text>
<line x1="153.30" y1="819.40" x2="164.43" y2="807.91" stroke="#222" stroke-width="0.7"/>
<path d="M165.50,806.80L164.75,808.87L163.46,807.62Z" fill="#222"/>
<line x1="153.30" y1="819.40" x2="164.43" y2="830.89" stroke="#222" stroke-width="0.7"/>
<path d="M165.50,832.00L163.46,831.18L164.75,829.93Z" fill="#222"/>
<use href="#ms" transform="translate(167.40,719.00) scale(1.0,1.070)"/>
<line x1="201.40" y1="717.80" x2="204.00" y2="716.40" stroke="#48c0b0" stroke-width="0.8"/>
<line x1="204.00" y1="716.40" x2="210.30" y2="713.20" stroke="#a77ad8" stroke-width="0.9"/>
<text x="208.40" y="725.23" font-size="6.75">IgG</text>
<use href="#ms" transform="translate(167.40,746.00) scale(1.0,1.070)"/>
<line x1="201.40" y1="744.80" x2="204.00" y2="743.40" stroke="#48c0b0" stroke-width="0.8"/>
<line x1="204.00" y1="743.40" x2="210.30" y2="740.20" stroke="#3da37a" stroke-width="0.9"/>
<text x="208.40" y="752.23" font-size="6.75">Anti-PD-1</text>
<use href="#ms" transform="translate(167.40,800.80) scale(1.0,1.070)"/>
<line x1="201.40" y1="799.60" x2="204.00" y2="798.20" stroke="#48c0b0" stroke-width="0.8"/>
<line x1="204.00" y1="798.20" x2="210.30" y2="795.00" stroke="#a77ad8" stroke-width="0.9"/>
<text x="208.40" y="807.03" font-size="6.75">IgG</text>
<use href="#ms" transform="translate(167.40,827.00) scale(1.0,1.070)"/>
<line x1="201.40" y1="825.80" x2="204.00" y2="824.40" stroke="#48c0b0" stroke-width="0.8"/>
<line x1="204.00" y1="824.40" x2="210.30" y2="821.20" stroke="#3da37a" stroke-width="0.9"/>
<text x="208.40" y="833.23" font-size="6.75">Anti-PD-1</text>
<line x1="227.00" y1="710.30" x2="235.14" y2="710.30" stroke="#7b1f78" stroke-width="1.2"/>
<path d="M237.80,710.30L234.56,712.29L234.56,708.31Z" fill="#7b1f78"/>
<line x1="227.00" y1="742.00" x2="235.14" y2="742.00" stroke="#1a8a8c" stroke-width="1.2"/>
<path d="M237.80,742.00L234.56,743.99L234.56,740.01Z" fill="#1a8a8c"/>
<line x1="227.00" y1="758.20" x2="235.14" y2="758.20" stroke="#a86b1d" stroke-width="1.2"/>
<path d="M237.80,758.20L234.56,760.19L234.56,756.21Z" fill="#a86b1d"/>
<line x1="227.00" y1="792.10" x2="235.14" y2="792.10" stroke="#e08ad8" stroke-width="1.2"/>
<path d="M237.80,792.10L234.56,794.09L234.56,790.11Z" fill="#e08ad8"/>
<line x1="227.00" y1="823.60" x2="235.14" y2="823.60" stroke="#46cbd8" stroke-width="1.2"/>
<path d="M237.80,823.60L234.56,825.59L234.56,821.61Z" fill="#46cbd8"/>
<line x1="227.00" y1="840.10" x2="235.14" y2="840.10" stroke="#f7b64a" stroke-width="1.2"/>
<path d="M237.80,840.10L234.56,842.09L234.56,838.11Z" fill="#f7b64a"/>
<use href="#ms" transform="translate(238.40,705.30) scale(1.0,1.070)"/>
<line x1="272.40" y1="704.10" x2="275.00" y2="702.70" stroke="#48c0b0" stroke-width="0.8"/>
<line x1="275.00" y1="702.70" x2="281.30" y2="699.50" stroke="#a77ad8" stroke-width="0.9"/>
<text x="281.30" y="712.03" font-size="6.75">IgG</text>
<use href="#ms" transform="translate(238.40,732.80) scale(1.0,1.070)"/>
<line x1="272.40" y1="731.60" x2="275.00" y2="730.20" stroke="#48c0b0" stroke-width="0.8"/>
<line x1="275.00" y1="730.20" x2="281.30" y2="727.00" stroke="#3da37a" stroke-width="0.9"/>
<text x="281.30" y="739.53" font-size="6.75">Anti-PD-1</text>
<use href="#ms" transform="translate(238.40,759.00) scale(1.0,1.070)"/>
<line x1="272.00" y1="758.00" x2="274.00" y2="756.40" stroke="#48c0b0" stroke-width="0.7"/>
<line x1="274.00" y1="756.40" x2="277.60" y2="752.60" stroke="#e0c040" stroke-width="0.8"/>
<line x1="272.60" y1="759.20" x2="275.40" y2="757.70" stroke="#48c0b0" stroke-width="0.7"/>
<line x1="275.40" y1="757.70" x2="281.00" y2="755.10" stroke="#3da37a" stroke-width="0.8"/>
<text x="281.30" y="765.73" font-size="6.75">Anti-PD-1 + anti-IL-6R</text>
<use href="#ms" transform="translate(238.40,787.70) scale(1.0,1.070)"/>
<line x1="272.40" y1="786.50" x2="275.00" y2="785.10" stroke="#48c0b0" stroke-width="0.8"/>
<line x1="275.00" y1="785.10" x2="281.30" y2="781.90" stroke="#a77ad8" stroke-width="0.9"/>
<text x="281.30" y="794.43" font-size="6.75">IgG</text>
<use href="#ms" transform="translate(238.40,814.00) scale(1.0,1.070)"/>
<line x1="272.40" y1="812.80" x2="275.00" y2="811.40" stroke="#48c0b0" stroke-width="0.8"/>
<line x1="275.00" y1="811.40" x2="281.30" y2="808.20" stroke="#3da37a" stroke-width="0.9"/>
<text x="281.30" y="820.73" font-size="6.75">Anti-PD-1</text>
<use href="#ms" transform="translate(238.40,840.20) scale(1.0,1.070)"/>
<line x1="272.00" y1="839.20" x2="274.00" y2="837.60" stroke="#48c0b0" stroke-width="0.7"/>
<line x1="274.00" y1="837.60" x2="277.60" y2="833.80" stroke="#e0c040" stroke-width="0.8"/>
<line x1="272.60" y1="840.40" x2="275.40" y2="838.90" stroke="#48c0b0" stroke-width="0.7"/>
<line x1="275.40" y1="838.90" x2="281.00" y2="836.30" stroke="#3da37a" stroke-width="0.8"/>
<text x="281.30" y="846.93" font-size="6.75">Anti-PD-1 + anti-IL-6R</text>
<line x1="1.10" y1="864.50" x2="18.60" y2="864.50" stroke="#9a9a9a" stroke-width="0.8"/>
<text x="32.40" y="867.23" font-size="6.75" text-anchor="middle">Day 0</text>
<line x1="46.00" y1="864.50" x2="62.30" y2="864.50" stroke="#555" stroke-width="0.7"/>
<path d="M63.50,864.80L61.86,865.53L61.86,864.07Z" fill="#222"/>
<line x1="76.60" y1="864.50" x2="94.60" y2="864.50" stroke="#9a9a9a" stroke-width="0.8"/>
<text x="108.00" y="867.23" font-size="6.75" text-anchor="middle">Day 7</text>
<line x1="121.50" y1="864.50" x2="137.20" y2="864.50" stroke="#555" stroke-width="0.7"/>
<path d="M138.40,864.80L136.76,865.53L136.76,864.07Z" fill="#222"/>
<line x1="152.80" y1="864.50" x2="161.00" y2="864.50" stroke="#9a9a9a" stroke-width="0.8"/>
<text x="183.80" y="867.23" font-size="6.75" text-anchor="middle">Days 9 and 12</text>
<line x1="207.30" y1="864.50" x2="213.60" y2="864.50" stroke="#555" stroke-width="0.7"/>
<path d="M214.80,864.80L213.16,865.53L213.16,864.07Z" fill="#222"/>
<line x1="225.30" y1="864.50" x2="233.50" y2="864.50" stroke="#9a9a9a" stroke-width="0.8"/>
<text x="259.30" y="867.23" font-size="6.75" text-anchor="middle">Days 15 to 33</text>
<line x1="284.90" y1="864.50" x2="293.00" y2="864.50" stroke="#555" stroke-width="0.7"/>
<path d="M294.20,864.80L292.56,865.53L292.56,864.07Z" fill="#222"/>
<text x="259.80" y="874.63" font-size="6.75" text-anchor="middle">(2 times per week)</text>
</svg></body></html>
